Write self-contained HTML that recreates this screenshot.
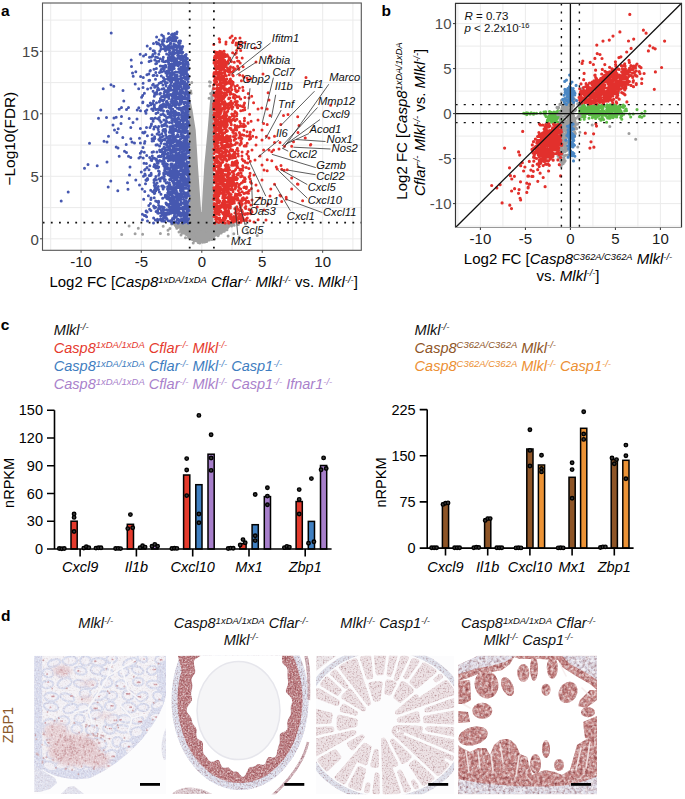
<!DOCTYPE html>
<html><head><meta charset="utf-8"><style>
html,body{margin:0;padding:0;background:#fff;width:685px;height:799px;overflow:hidden}
svg{display:block}
</style></head><body>
<svg width="685" height="799" viewBox="0 0 685 799">
<path d="M50.7 3V250.3M81 3V250.3M111.2 3V250.3M141.4 3V250.3M171.6 3V250.3M201.8 3V250.3M232 3V250.3M262.2 3V250.3M292.4 3V250.3M322.7 3V250.3M352.9 3V250.3M42.5 238.8H361.3M42.5 207.6H361.3M42.5 176.3H361.3M42.5 145.1H361.3M42.5 113.8H361.3M42.5 82.6H361.3M42.5 51.3H361.3M42.5 20.1H361.3" stroke="#EBEBEB" stroke-width="1" fill="none"/>
<clipPath id="ca"><rect x="42.5" y="3" width="318.8" height="247.3"/></clipPath>
<g clip-path="url(#ca)">
<path d="M189 223.5L189 97L189.8 97L192.5 110L195.7 130L197.9 165L200 195L201.2 212L201.6 212L202.5 195L204.3 165L207.6 130L210.5 95L212.8 84L213.6 84L213.6 223.5Z" fill="#A0A0A0"/>
<path d="M174 223L178 225.5L182 229L186 233.5L191 238L196 240.5L201.5 241.3L207 240.5L212 238.5L218 235L224 230L229 226L234 223Z" fill="#A0A0A0"/>
<path d="M233.1 222.2h0M207 240h0M199.5 241.7h0M219.8 232.5h0M197 240.4h0M203 238.6h0M227.5 227.7h0M176.3 226.7h0M218.8 231.9h0M206.7 241.4h0M213.3 237.8h0M192.5 238.7h0M234.2 222.2h0M226.9 227.1h0M213.8 236.5h0M192.3 239.6h0M198.1 239.6h0M193.5 239.7h0M202.5 242.2h0M199.3 240.3h0M176.8 225.1h0M191.3 236.9h0M232 225h0M205.1 240.7h0M231.8 223.8h0M209.2 240h0M206.1 240.9h0M194.2 240.9h0M228.4 225.1h0M183.5 226.3h0M177.5 224.5h0M211.9 239.6h0M191.1 236.7h0M228.4 226.8h0M231.3 224h0M175.2 225.3h0M222.3 230.2h0M195 239.6h0M181.9 227h0M231.4 223.3h0M203.8 240h0M204.7 242.1h0M181.8 228h0M204.4 240.8h0M185.9 234.3h0M186.1 233.2h0M212.1 237.5h0M179.7 225.7h0M221.9 231h0M195.5 240.4h0M218.4 235.3h0M222.8 230.5h0M217.8 234.6h0M227 229.8h0M227.1 227h0M205 241.4h0M205.8 240.3h0M230.2 225.2h0M197.8 241.8h0M171.7 224.1h0M181.8 225.7h0M181.8 228.6h0M222 228.8h0M220.4 229.8h0M200.1 239.8h0M207.1 238.8h0M197.4 241h0M223 230.2h0M223.1 228.4h0M191.4 238.4h0M185.3 230.1h0M206.7 235.5h0M224.5 228.3h0M199.3 240.9h0M224.7 230.4h0M181.9 227.4h0M223.4 230.4h0M223.3 229h0M199.3 242h0M176.8 228.2h0M183.4 232.1h0M206.2 241.3h0M201.7 240.7h0M183.2 229.2h0M222.8 231.4h0M224.6 229.3h0M188.1 234.8h0M214.6 239h0M178.5 227.3h0M194.6 239.8h0M220.2 230.9h0M182.2 227.1h0M188.7 233.5h0M180.6 227.5h0M231.6 226h0M180.7 229.7h0M181.2 225.5h0M188.6 234.1h0M186.9 233.9h0M223.6 229.6h0M223.5 228.3h0M179.2 225.9h0M187 234.7h0M204.3 241.5h0M182.8 227.8h0M226 224.4h0M213 235.7h0M232.6 224h0M190.2 236.8h0M211.1 237.4h0M234.2 225.2h0M221.7 231.9h0M174.2 221.9h0M221.2 233.1h0M183.9 233h0M206.5 240.2h0M197.7 239.9h0M215.2 234.8h0M218 235.7h0M193.2 243h0M222.8 230.4h0M176.3 226h0M232.3 223.1h0M177.5 225.6h0M173.8 222h0M202.5 242.2h0M215.5 234.7h0M199.7 242.9h0M176.4 223.8h0M221.1 232.9h0M231.2 224.7h0M191.3 238.8h0M193.3 237.8h0M224.3 231.2h0M187.7 234.7h0M203.5 240h0M193.1 237.6h0M185.5 237.7h0M223.3 230.7h0M236.3 222.1h0M179.6 227.3h0M175.9 224.5h0M198.1 242.5h0M221 231.8h0M205 238.9h0M191.7 237.8h0M181.9 231.6h0M175.4 223.8h0M188.6 237.4h0M201.1 240.4h0M181.2 229.2h0M190.5 236.6h0M176 223.8h0M188.5 236.7h0M192.8 237.2h0M220.5 230.1h0M182.3 229.1h0M207 239.6h0M172.9 223.7h0M184.5 230.9h0M210.6 93.4h0M191.1 93.3h0M210.4 82.3h0M209.1 98.3h0M212.8 92.2h0M191.8 82.6h0M190.8 91h0M209.5 81.7h0M209.8 85.9h0M233.8 233.8h0M197.4 224.4h0M218.8 234h0M168.3 234.2h0M208.9 230.6h0M168 230.3h0M212.4 228.3h0M191 227.1h0M196.2 226.4h0M181.4 230.5h0M206 234.3h0M216.4 227.8h0M181.2 231.1h0M193.8 225.7h0M206.2 230.6h0M187.6 224.9h0M228.1 236.1h0M245.5 224.1h0M206.3 229.2h0M198.8 225h0M204.1 235.4h0M183.3 230.3h0M169.9 228.5h0M184.8 229.5h0M206.2 225.1h0M194.1 237.4h0M181.9 233.1h0M179 232h0M200.9 232.2h0M193.7 231.7h0M216.9 232.2h0M178.7 226.3h0M257.2 235.4h0M199 231.6h0M246.8 229.6h0M193.4 229.2h0M212.4 233.6h0M190.3 225.5h0M239.1 236.9h0M216.6 227.5h0M142.6 234.2h0M238.3 224.5h0M163.2 226.3h0M181 235.1h0M129.1 226.1h0M183.3 230.3h0M216.9 229.3h0M138.3 228.2h0M247.7 233h0M135.1 233.7h0M160.4 233.4h0M121.7 234.5h0" stroke="#A0A0A0" stroke-width="3.0" stroke-linecap="round" fill="none"/>
<path d="M171.7 131.3h0M149 169.7h0M167.9 111.1h0M176.5 92.8h0M158.6 202.4h0M176.5 81.3h0M183.2 129.5h0M184.8 71.9h0M168.7 64.2h0M185.7 194.6h0M174.3 156.3h0M162.2 41.4h0M187.6 202.6h0M173.5 147h0M184.2 124.9h0M185.8 58.8h0M167 101.3h0M166.8 121.9h0M175.6 39.9h0M188.9 95.1h0M179.5 61.9h0M186.1 156.9h0M157 75.4h0M176.6 161.2h0M162 149.9h0M157.7 118.7h0M166.8 71.2h0M178.9 105.1h0M176.8 176.7h0M170.5 87.2h0M173.6 113.2h0M170.4 159.3h0M167.5 71.4h0M168.1 174.8h0M174 52.6h0M187.5 192.8h0M150.9 87.9h0M188.6 158.1h0M168.9 45.6h0M188.5 177.9h0M186.5 116.6h0M164.6 124.2h0M173.8 49.8h0M166.1 86.1h0M155 94.4h0M185.3 132.1h0M174.1 104.4h0M187 202.1h0M183.8 86.8h0M170.3 106.8h0M145.9 179.9h0M184 132.6h0M178.6 125.2h0M172.5 150.6h0M165.9 215h0M186.6 148.8h0M164.5 48.8h0M183.4 63.8h0M173.3 171.6h0M179.4 95.9h0M178.1 144h0M187.9 137.2h0M182.2 71h0M163.8 165.7h0M174.3 35.5h0M182.3 110.8h0M183.7 102.5h0M185.9 196.5h0M163.7 158.3h0M142.9 102.1h0M188.5 125.4h0M164.1 38.5h0M163.7 95.9h0M186.5 105.7h0M180.5 167.6h0M175.2 159.1h0M179.7 92h0M173.6 102.3h0M171.7 79.3h0M165.5 163.7h0M171.5 46.5h0M184.2 208.5h0M161.7 35h0M168.7 95.4h0M185.2 181.5h0M179.2 96.6h0M155.9 176.4h0M169.8 80.9h0M172.1 192.8h0M187.1 112.4h0M188 174.6h0M179.1 127.1h0M182.3 59.9h0M182.8 131.5h0M164.6 165.8h0M164.5 91.4h0M185 69.8h0M167.7 167.5h0M159.5 206.5h0M171.9 141.9h0M158.4 213.3h0M161.6 109.9h0M184.1 212.3h0M183.6 73.8h0M163.8 174.8h0M182.7 46.6h0M172.3 120.7h0M188.5 152.8h0M153.3 138.6h0M186.9 138.8h0M146.2 211h0M143.5 176.3h0M179.4 183h0M166.7 137.4h0M170.1 150.6h0M182.1 154.8h0M164.1 210h0M177.1 84.4h0M175.3 121.8h0M188.6 218.7h0M174.7 213.6h0M177.7 201h0M170.6 73.5h0M164.3 176.5h0M182.5 176.3h0M161.7 140.4h0M184.9 168h0M173.5 156.1h0M185.7 131.3h0M139.5 138.2h0M188.7 76.2h0M166 61.2h0M147.5 178.6h0M168.7 69.9h0M179.9 56.4h0M185.8 159.3h0M154.8 179h0M167.1 94.5h0M187 83.7h0M182.4 137.7h0M177.7 205.8h0M183.6 221.4h0M176.3 196.3h0M166 203.1h0M181.7 196.5h0M188.2 81.8h0M177.2 209.1h0M183.3 122.1h0M178.1 167.6h0M174.5 192.5h0M168.2 190.7h0M170 127.4h0M185.5 73.8h0M156.5 159.3h0M179.7 170.8h0M166 95.5h0M164.1 207.6h0M176.8 126.4h0M171.4 128h0M152.8 103.5h0M161.6 96.4h0M182.9 189.1h0M168.5 112.6h0M167.9 45.9h0M186.5 108.4h0M155.2 117.9h0M183.2 207.3h0M174 45.2h0M179.5 87.2h0M187.1 79.6h0M180.4 98h0M181.2 187.2h0M169.1 139h0M164 93.4h0M178.1 154.6h0M187.2 180.5h0M182.7 52.4h0M183.2 145.7h0M162.5 43.7h0M163.4 36.2h0M170.7 167.3h0M178.8 205.8h0M162.3 221h0M188.5 87h0M142.4 219.7h0M164 147.2h0M158.3 156.6h0M185.3 69h0M174.3 221.9h0M183.9 103.7h0M183.6 184.8h0M187.1 146.7h0M177 187.5h0M184.8 66.1h0M187.4 132.5h0M174.5 214.9h0M182 155.1h0M180.9 163.7h0M175.1 145.9h0M188.8 186.6h0M164.6 154h0M186.3 168.4h0M189 195.7h0M184.5 73.5h0M154.7 93.6h0M184.7 213.8h0M172.3 142h0M175.4 37.7h0M163.5 129.6h0M175.6 115.3h0M171.5 206.8h0M169.4 122.5h0M183.8 59.9h0M185.9 219.2h0M174.7 206.1h0M185.8 56.9h0M175.6 118.7h0M174.1 74h0M177.5 51h0M147 167.6h0M164.7 104.6h0M169.3 79.8h0M188.5 100.7h0M173.1 85.7h0M174.5 166.1h0M156.6 94.1h0M181.2 67h0M171.2 178.9h0M186.9 136.2h0M187.2 112.1h0M172 75.3h0M178.6 222.5h0M182.4 152.3h0M174.1 216.4h0M172.8 203.9h0M178.3 149.4h0M179.3 180.7h0M171.9 191.7h0M154.4 164.6h0M167.4 195.7h0M176 140.3h0M169.8 117.1h0M185 213.1h0M183.3 65.4h0M177.4 202.6h0M151.3 56.9h0M173.6 187.7h0M162.9 106.2h0M165.1 147.9h0M173.4 145.8h0M172.6 128.2h0M172.5 52.1h0M155.6 207.3h0M169 188.8h0M171.5 63.9h0M183.6 166h0M144.5 143.2h0M183.5 218.3h0M174.4 93.4h0M188.3 223h0M156.5 102.7h0M160.1 151.5h0M179.9 123.5h0M176.1 82h0M144.8 191.6h0M179.8 147.5h0M169.2 72.5h0M182.5 214.5h0M188.2 121.6h0M175.8 152.4h0M170.9 79.1h0M169.8 142.9h0M185.2 196.6h0M153.4 118.9h0M173.5 138h0M178.7 144.1h0M171.6 82.2h0M176 186.9h0M178.8 85.7h0M179.7 72.5h0M186.2 61h0M180.8 161.9h0M171 143.9h0M180 220.9h0M175.1 72.3h0M176.1 211.7h0M173.6 177.8h0M172.3 127h0M154.7 87.2h0M156.8 161h0M181.4 74.3h0M172.7 155.2h0M188.2 111h0M158 167.8h0M186.5 74.2h0M142.4 214.2h0M176.6 33.7h0M182.1 71.6h0M178.7 185.1h0M160.5 137.5h0M156 159.4h0M163.8 214.3h0M188.4 137.1h0M185.9 169.5h0M187.3 210.3h0M181.5 99.9h0M171 115.4h0M158.8 54.3h0M188.5 106.1h0M174.8 129.1h0M145.5 183.8h0M166.2 90.8h0M186.1 129.3h0M174.5 196.9h0M151.1 173.3h0M165.3 97.2h0M172.5 128h0M188.5 171.3h0M178.7 121.8h0M141.5 151.5h0M163.2 68.6h0M143.2 158h0M186.9 206.2h0M176 101.5h0M181.5 155h0M172.5 218.5h0M170.9 60.4h0M175 166.1h0M176.5 136.1h0M188.7 117.8h0M172.8 63.9h0M179 82.8h0M185.1 180.5h0M168.3 160.7h0M170.3 194.7h0M181.4 102.1h0M178.6 162.7h0M171.7 170.7h0M170.5 137.1h0M173.1 95.5h0M187.3 125h0M174.6 53.6h0M147.7 105.6h0M179.7 194.3h0M160.4 208.6h0M181.8 97.7h0M180 58.6h0M154.4 158.3h0M183.3 210.4h0M171.5 177.9h0M181.8 136.2h0M178.7 69h0M182 203.1h0M162.9 130.2h0M177.1 142.8h0M186.8 174.6h0M186 158.2h0M172.5 66.4h0M157 43.7h0M180.5 155.2h0M152.1 134.8h0M183.7 217.8h0M181.6 78.3h0M182.6 135.7h0M176.8 172.4h0M164.2 99.7h0M146.2 211.4h0M158.7 207.9h0M160.9 151.6h0M169.6 148.4h0M178.6 65.4h0M174.4 83.8h0M176.4 162.1h0M181.3 213.1h0M179.4 212h0M172.1 135.4h0M174.8 206.7h0M173.7 212.2h0M151 160.1h0M171.5 34.8h0M176.2 175.6h0M177.6 55.3h0M144.6 132.5h0M180.8 199.2h0M173 201h0M174.1 86.4h0M175.5 217.1h0M174.8 101.5h0M186.3 90.6h0M164.4 144h0M160.3 105.7h0M148.3 106h0M187.8 196h0M165.4 153.7h0M183.9 98.2h0M159.3 208h0M157.1 133.9h0M171.7 112.6h0M177.9 158.2h0M176.7 78.1h0M172.4 141.7h0M173.8 208.4h0M160.9 122.2h0M180.9 191.6h0M188.6 117h0M140.4 157.1h0M180.8 189.9h0M173.9 156.5h0M180.8 142h0M163.5 110.8h0M162.4 154.3h0M177.8 180.7h0M151.5 124h0M177.9 210.2h0M164.8 167.4h0M157 162.7h0M172.4 122.1h0M161 194.3h0M186.5 149.1h0M171.8 100.2h0M185.8 118.6h0M183.4 108.7h0M183.2 176.1h0M186.2 183.1h0M184.1 124.6h0M180.2 78.9h0M161 143.2h0M148.4 195.7h0M183.9 140.8h0M156.9 152h0M180.9 166.3h0M178.6 184.4h0M154.6 136.7h0M181.2 156.5h0M185.4 63.9h0M169.6 57.2h0M183.9 69.5h0M186.1 112h0M155.7 201.1h0M171.9 74.4h0M184.9 179.7h0M188.5 173.8h0M161.4 210.6h0M187.6 62h0M179.9 146.9h0M185.3 83.9h0M180.6 189.2h0M145.3 175.3h0M168.2 140.5h0M173.4 101.4h0M153.6 217.9h0M173.4 173.7h0M163 136.2h0M155.8 190.8h0M187.2 164.8h0M167.5 154.1h0M186.2 219h0M179.3 68.5h0M175.4 177.8h0M179.1 109.2h0M180.7 58.4h0M187.7 95h0M174.3 180.5h0M187.8 66.3h0M174.7 170.2h0M177.7 134.7h0M186.1 173.5h0M180.5 163.1h0M183.6 145.1h0M175.6 222.1h0M161.6 107.4h0M180.6 49.3h0M179.1 52.7h0M177.9 142.8h0M176.2 160.7h0M170.6 85.1h0M168.9 54.7h0M188.6 180.2h0M187.3 215.2h0M186.2 54.5h0M179.8 131.5h0M174.4 57.8h0M165.4 82.3h0M184.4 116.9h0M178 124.9h0M177 75h0M159.8 44.7h0M176.4 130.6h0M164.5 152.1h0M173 55.5h0M187.1 221.5h0M176.8 61.1h0M179.6 126.7h0M170.2 211h0M184.7 220.4h0M168.7 68.1h0M166.3 218.3h0M180.2 84.5h0M175.6 59h0M185.1 69.4h0M177.3 98.4h0M161.6 215.5h0M176.3 90.4h0M153.1 121.3h0M162.9 84.9h0M181.4 80.3h0M166.2 106.9h0M171.3 221.7h0M182.9 58.4h0M176 150.5h0M177.6 162.5h0M183.8 142.4h0M184.7 147.5h0M146.5 127.4h0M177 102.2h0M163.4 44.7h0M176.5 49.7h0M175.8 172.8h0M145.4 111.2h0M178.8 129.1h0M182.4 118.5h0M149.8 165.8h0M162 177.8h0M173.5 212.6h0M171.2 94.6h0M187.7 135.6h0M183.2 203h0M170.3 158.8h0M160.7 82.5h0M178.7 213.3h0M152.5 158.6h0M188 76.5h0M178.2 117.7h0M186.2 188.2h0M167.3 196h0M173.9 66.5h0M181.5 92h0M186.1 193.1h0M175.2 88h0M173.4 86h0M169.9 149.6h0M155.2 165.3h0M177.9 160.7h0M170.4 158.5h0M183.9 170.4h0M157.5 219.2h0M185.2 60.7h0M168.3 153h0M165.9 49.7h0M169.9 209.4h0M172.4 105.5h0M168.8 67.1h0M177 157.4h0M138.7 88.7h0M188.8 179h0M158.5 171.1h0M178.3 159.3h0M180.7 185.8h0M188.5 109.1h0M181.4 81h0M172 48.2h0M175.5 38.2h0M170.9 70h0M177.1 210.8h0M175.4 85.8h0M173.6 160.4h0M160.9 110.3h0M157.9 128h0M167.6 186.8h0M185.6 130.4h0M155.7 63.8h0M175 209.3h0M181.1 125.4h0M177.7 215h0M176 153.9h0M164.8 216h0M173.2 168.2h0M170.4 140.4h0M181.4 110.4h0M175.9 174.1h0M180.6 103.9h0M167.4 102.4h0M175.5 44.9h0M171.7 60.8h0M181.7 148.4h0M174.6 77.4h0M176.2 123.5h0M182 207.8h0M170.2 95h0M157.1 183.1h0M162.7 139.8h0M151.2 174.7h0M173.5 47.7h0M167.4 79.1h0M151.2 125.4h0M176.4 150.5h0M185.3 220.1h0M175.6 168.5h0M180.9 119.9h0M183.7 214.3h0M171.6 102.1h0M180.4 92.3h0M144.4 215.5h0M188.4 137.1h0M178.8 113.2h0M176.9 62.4h0M187 105.7h0M176.4 217h0M162.8 163.6h0M170.1 94.4h0M177.4 200.9h0M185.8 62.1h0M173.9 44.3h0M173.8 46.1h0M180.9 166.6h0M165.4 150.1h0M182.1 214.4h0M184 66.9h0M177.4 153.7h0M147.4 135.7h0M152.3 156h0M143 87.5h0M168.7 97.8h0M184.2 209h0M181.4 191.1h0M177 32h0M146.7 155.5h0M162.5 136.5h0M185.1 73.2h0M182.7 83h0M158 209.5h0M183.9 156.7h0M188.3 208.9h0M164.1 71.1h0M173.5 112.6h0M186.6 165.5h0M175.1 75.5h0M178.2 65.7h0M149.3 175.4h0M172.1 78.1h0M174.1 156.4h0M175.5 94.8h0M163.1 189h0M187.5 121.6h0M182.2 74.7h0M167.2 82.8h0M186.1 92.5h0M183.6 155.8h0M177 37.7h0M181.4 193.9h0M173 51.2h0M173.9 86.7h0M188.6 126h0M171.9 40.7h0M176 144.8h0M176.2 208h0M174.4 53.8h0M165.2 115.8h0M155.4 186.1h0M163.2 218.2h0M177.8 203.2h0M187.1 145.2h0M155.2 53.2h0M181.6 179.2h0M157.4 85.5h0M186.1 127h0M175.5 178.3h0M143.3 77.6h0M175.7 164.1h0M163.4 208.6h0M185.7 200.8h0M163.9 179h0M171.2 65h0M184.9 81.9h0M176.8 52.6h0M165.2 216.8h0M188.1 87.9h0M186.5 61.6h0M185.3 203.9h0M180.2 174.4h0M174.5 117.1h0M173.6 46.6h0M180.6 179.7h0M181.2 71.9h0M171.6 67.7h0M185.3 220.1h0M183.7 213.8h0M150.9 199.5h0M176.8 103.5h0M187.3 135.7h0M176.9 136.6h0M160.9 212.7h0M151.7 160.6h0M188 114.4h0M178.3 71.9h0M174 146.5h0M174.7 140.9h0M153.1 110.6h0M183.5 107.5h0M172.8 55.1h0M176.1 103.7h0M183.9 160.3h0M188.3 78.4h0M177.6 134.6h0M188.8 185.8h0M171.4 66.7h0M161.7 221.1h0M152.2 118.4h0M177.1 165.9h0M173.5 35.5h0M180.9 195.9h0M168.4 91.5h0M168.3 220.8h0M186.8 179h0M183.8 199.5h0M182.4 88.9h0M178.2 86.6h0M181.4 160.1h0M184.9 87.2h0M182.6 174h0M160.8 156.4h0M177.8 142.8h0M170.7 113.4h0M166.1 122.6h0M180.5 139.1h0M166 158h0M172.6 205.3h0M162.1 206.7h0M173.7 60h0M178.7 115.3h0M180.5 204.8h0M167 219h0M172.1 119h0M181.4 80h0M158.7 89.2h0M184.9 204.4h0M182.9 112.3h0M179.2 64.5h0M146.8 110h0M176.7 204.8h0M176 217.3h0M173.4 115.5h0M184.8 206.1h0M177.9 63.7h0M179.1 219.9h0M172 157.5h0M174.8 100.5h0M170.8 43.5h0M185 195.4h0M174 201.8h0M159.4 101.9h0M179.4 123.9h0M171.9 223.2h0M169.3 204.2h0M181.1 93.6h0M186.2 163.7h0M187 170h0M181.8 48.9h0M169 185h0M179.7 43.6h0M168.3 88.2h0M184.1 219h0M172.2 209.4h0M174.5 183.3h0M188.5 150.7h0M176.6 193.7h0M174.3 78.1h0M186.1 87.4h0M170 155.5h0M184.6 103.1h0M183.5 88h0M182.7 72.2h0M170.1 200h0M174 57.4h0M173.4 38.2h0M180.5 85.4h0M164.5 221.2h0M167.9 48.1h0M182.7 130.2h0M187.4 213.7h0M183.1 147.2h0M186.7 69h0M169.7 145.8h0M159.5 101.3h0M181.9 128.4h0M170.2 90.3h0M154 139h0M181.7 110.1h0M177 173.5h0M175.5 125.2h0M188.9 98.5h0M164.2 68.9h0M185 209h0M159.2 178.8h0M177.5 145.6h0M183.9 162.7h0M163.1 131.1h0M159.6 120.2h0M172.3 172.8h0M154.5 107.5h0M161.3 76.1h0M185.7 183.8h0M170 68.4h0M176.9 98.3h0M186.6 114.8h0M186.4 71.1h0M186.3 156.6h0M183.7 107.3h0M163.9 155.1h0M164.4 213.3h0M161.8 133.7h0M183.2 56.5h0M168.9 157.2h0M177.8 89.2h0M169.3 94.7h0M170.8 89.2h0M188.9 214.6h0M186.3 172.5h0M166 90.5h0M175.4 164.5h0M174.1 167.6h0M164.4 161.6h0M184.4 165.4h0M181.1 143h0M168.6 147h0M187.2 216.1h0M144.9 141.5h0M183.1 144.4h0M167.8 143.3h0M187.3 202.5h0M184.4 192.5h0M155.4 220.1h0M164.5 80.9h0M174 174.3h0M143.7 199.3h0M172.3 122.5h0M174.2 68.5h0M171.8 120.5h0M175.8 40.9h0M142.2 189.1h0M148.8 73.9h0M175.8 211.7h0M180.5 46.7h0M179.1 41h0M171.5 108.6h0M182.3 176.9h0M173.3 165.7h0M171.9 126.4h0M183.9 60.4h0M166.1 166.7h0M174.2 62.6h0M181 59.4h0M168.9 187.9h0M178.3 183.1h0M174.5 96.9h0M185.7 62.3h0M184.5 182.8h0M180.2 101h0M187.7 103.5h0M185.5 154.2h0M153.5 151.8h0M182.1 169.6h0M167 136.9h0M171.4 212.9h0M180.8 216.3h0M170.7 43.6h0M172.7 109.3h0M163.1 81.1h0M175 93.5h0M154.4 105h0M182.5 176.1h0M158.2 129.4h0M181 51.3h0M185.8 185.3h0M176.6 96.5h0M182 99.7h0M169.1 141.4h0M179.6 58.5h0M158.9 61.2h0M179.9 167.1h0M184.9 102.1h0M177.7 118.4h0M186.7 136.4h0M158.7 126.6h0M160.7 216h0M170.6 64.9h0M183 60.7h0M171.7 198.7h0M170.2 139.5h0M169.8 53.1h0M187.6 211.7h0M177.2 219.9h0M174.2 119.8h0M166.7 203.7h0M172.5 96.6h0M185.3 119.4h0M188 101.4h0M181.8 95.4h0M177.9 80.6h0M159.6 107.3h0M182 100.2h0M178.9 209.9h0M166.5 195.8h0M149.1 61.5h0M163.2 214.6h0M166.5 172h0M170.3 191.9h0M182.8 66.5h0M173.5 134.6h0M179.4 208.9h0M173.5 160.8h0M184.7 196.6h0M178.2 45.5h0M163.8 156.8h0M183.7 65.9h0M180.7 168.3h0M188.8 87.4h0M172.7 201.3h0M158.7 166.9h0M177.1 84.2h0M172.2 195.6h0M174.2 176.1h0M158.3 186.4h0M163.5 77.7h0M187.9 112h0M180.2 101h0M184 175.1h0M172.4 181h0M167.7 193.1h0M168.7 97.1h0M177.3 157.6h0M166.2 163.7h0M179.5 71.8h0M171.2 203.6h0M166.4 125.4h0M180.1 43.1h0M158.5 43.4h0M172.6 188.7h0M175.7 61.1h0M173 101h0M175.6 91.5h0M188.8 147h0M183.7 77.6h0M174.5 206.2h0M163.4 154h0M179.5 182.1h0M183.5 75h0M162.3 107.6h0M171.3 206.7h0M184.7 159h0M174.9 145.3h0M163 215.3h0M165.2 173.7h0M160.5 219.1h0M186.9 120h0M179.5 207.5h0M174.7 80.1h0M183.9 188.5h0M185.2 146.7h0M185 172h0M158.6 205.2h0M172.6 190.8h0M186.6 153.4h0M168.4 90h0M168.4 92h0M157.8 109.2h0M187.6 85.6h0M170.5 87h0M175 63.1h0M153.5 43.4h0M182.8 74.4h0M186.6 165.6h0M173.8 94h0M160.2 219.4h0M160.8 206.7h0M178 177.1h0M177.8 131.6h0M180.6 63.4h0M174.6 59.1h0M177.1 108.2h0M164.9 169h0M172.3 164h0M188.5 123.3h0M172.4 120.6h0M165.8 135.1h0M181.2 94h0M168.3 61.2h0M169 40.5h0M188.7 156.5h0M155.5 79.3h0M173.3 142.4h0M187.6 166.6h0M178.7 136.6h0M150.9 104.8h0M170.1 129.9h0M180.7 86.8h0M160.3 100.5h0M184.1 154.6h0M166.5 91.8h0M187.8 96.9h0M175.1 111.2h0M176.6 145.4h0M176.3 217h0M162.7 215.2h0M185.6 102.8h0M183.5 149.2h0M174 58.7h0M160.1 58.8h0M175.4 63.5h0M153.6 140.8h0M168.3 46h0M182.8 223h0M165.5 50.7h0M178.7 53.2h0M163.7 159.7h0M184.7 87.1h0M163.9 120h0M167.1 75.7h0M168.8 98.2h0M170.8 164.8h0M182.7 83.5h0M169.1 77.3h0M169.7 37.2h0M159.6 149.9h0M172.3 139.5h0M157.7 213h0M176 130.4h0M154.8 60.1h0M184.4 215.1h0M188.8 152.6h0M179.9 162.7h0M181.2 176.4h0M176.4 50h0M180.2 50.2h0M149.5 57.2h0M144 163.2h0M147.5 220.9h0M187.6 74.6h0M178.5 197.1h0M179.1 124.6h0M179 187.4h0M182 190.9h0M173 152.2h0M150.3 48.5h0M149.6 209.3h0M184.5 128.8h0M178.8 165.8h0M183.9 158h0M180 103h0M179.1 129.8h0M177 122.2h0M187.3 162.1h0M177.2 182.6h0M180 174.8h0M159.4 192.1h0M169.6 179.4h0M183.2 191h0M174.9 187.9h0M166.6 117.7h0M156.3 159h0M172.5 97.9h0M187 150h0M170.9 106h0M176.8 153.5h0M172.3 155.7h0M171.5 173.6h0M182.4 154.9h0M164 148.1h0M176.5 186.3h0M170 176.1h0M162.3 213.7h0M170.7 158.4h0M159.7 51.3h0M154.6 208.1h0M147.1 212h0M187.4 183.5h0M181.9 101.6h0M157.6 219.9h0M167.6 156.4h0M184.2 120.2h0M162.4 125.8h0M161.9 221h0M184.8 165.3h0M171.4 146h0M174.6 145.5h0M175.4 106.4h0M179.9 126.3h0M168.1 113.8h0M153.6 206.1h0M179.2 199.7h0M159.1 83.2h0M180.2 213.8h0M183.1 181.2h0M142.7 102.7h0M175.2 209h0M181 134h0M175.8 193.9h0M155 187.7h0M175.1 87.3h0M177.3 171.5h0M176.6 179.5h0M170.9 163.9h0M146.9 74.8h0M176 86.9h0M179.8 127.2h0M156 145h0M178.4 42.5h0M184.7 157.5h0M176.5 156.5h0M186.5 169.3h0M178.6 154.2h0M175.8 80h0M155 59.9h0M172.6 119.2h0M184.3 65.6h0M182.5 121h0M160.3 66h0M173.1 182.6h0M174.4 155.8h0M184.2 56.5h0M176.1 100.3h0M170.1 115.5h0M175.2 159.3h0M181.4 164h0M184.1 193h0M178.8 98.7h0M180.5 177.9h0M175.4 200.9h0M178.2 143.8h0M163.7 114.9h0M181.5 47.1h0M174.1 196.9h0M186.3 196h0M186.9 212.5h0M170.8 75.8h0M182.9 73.1h0M142.7 132.5h0M170.9 111.7h0M176.1 65h0M179.2 82.5h0M185.6 89.6h0M182.9 190.9h0M185.6 216.7h0M173.6 63.6h0M173.1 205.7h0M173.4 132.5h0M169.8 220.9h0M163.9 125.4h0M177.1 51.1h0M174.6 203.9h0M146.6 216.8h0M140.3 153.2h0M185 141.1h0M186.1 63.8h0M170.1 171.2h0M138.9 158h0M158.1 163.2h0M173.9 192.5h0M156.4 93.3h0M179.2 47.2h0M184.6 222.3h0M173.1 79h0M162.6 198.2h0M183.7 149.5h0M177 141.2h0M166.4 102h0M156 109.5h0M168.2 117.2h0M177.6 93.5h0M168.5 198.4h0M180.4 96.4h0M168.8 63.1h0M177.3 47.4h0M165.5 83.5h0M169.6 104.9h0M182.2 68.6h0M184.3 217.6h0M184.7 136.8h0M176 45.6h0M187.4 204.1h0M186 137.9h0M184.5 138.6h0M188.4 94.2h0M181.9 112.2h0M186.6 73.7h0M176.3 112.4h0M158.8 132h0M172.8 98h0M185.9 92.5h0M158.5 202.7h0M175.1 210.4h0M180.8 131.9h0M159.5 135.1h0M161.9 140.8h0M180.3 160.4h0M178.2 65.1h0M169.3 87.3h0M185.8 221.6h0M182.9 63.3h0M168 103.6h0M160.4 98.6h0M187.8 67.5h0M171.7 39.7h0M186.8 102.8h0M173.1 65.1h0M173.8 201.3h0M144.4 93.3h0M188.7 162.2h0M144.3 152.3h0M153.8 128.9h0M165.7 217.9h0M182.2 91.8h0M177.1 180.3h0M180.9 213.4h0M182.7 132.2h0M161.6 161.3h0M169.8 213.3h0M188.5 188.8h0M166.5 218.9h0M179.3 52.9h0M179.5 96.5h0M188 193.5h0M179 198.3h0M181.3 100.2h0M167.1 126.3h0M171.6 118.1h0M188 87.2h0M167.5 189h0M178.1 56.7h0M176.6 204.3h0M162.8 59.3h0M173.5 166.1h0M180.4 90h0M187.1 209.9h0M170.4 38h0M180.2 204.1h0M189 210.6h0M156.4 42.3h0M177.9 219.9h0M154.9 184.4h0M153.2 50.8h0M184 142.9h0M186.9 123.1h0M164.9 152.1h0M169.6 58.6h0M155.4 126.6h0M160.5 93.2h0M170 79.9h0M157.6 162.6h0M179.4 51.7h0M171.1 76.9h0M179.1 88h0M159.5 155.9h0M181 202.2h0M182.8 66.9h0M163.7 173h0M188.6 181.8h0M180.5 104.3h0M186.3 203h0M171.7 81.3h0M142.6 95.5h0M154 107.9h0M172.8 90.2h0M188.9 102.1h0M185.1 129.1h0M143.1 83.2h0M181.2 134h0M173.4 151.6h0M176.4 207.6h0M185.2 55.3h0M156.7 92.1h0M173.6 138.9h0M152.1 140.9h0M174.3 169.9h0M162.4 41.6h0M181.9 47.5h0M167.4 142.1h0M159.5 179.2h0M184.5 130.5h0M188.9 179.5h0M169.3 38.1h0M163.2 66.2h0M168.8 157.8h0M174.4 209.7h0M169.1 205h0M163.7 96.4h0M173.5 197.3h0M186 139.5h0M174.2 52.7h0M186.6 127h0M172.8 132h0M172 166.2h0M188.1 167.2h0M159.6 145.9h0M167.5 79.2h0M158.5 109.5h0M176.9 148.5h0M161.8 125.4h0M182.8 80.7h0M176.7 198.8h0M156.3 145h0M156.1 211.4h0M162.1 177.5h0M182.3 173.8h0M151 60.7h0M173.8 204.6h0M172.3 38h0M153.8 166.4h0M159.7 93.9h0M180.1 215.3h0M150.6 175.5h0M181.2 71.6h0M166.8 197.9h0M180.2 156.6h0M150.4 70.5h0M172 122.8h0M174.2 141.8h0M157.9 87.9h0M169 214h0M165.8 130.9h0M187.1 142.6h0M145.5 215.6h0M165.5 169h0M186.1 184.8h0M156.4 179.8h0M171.4 80.5h0M165.8 135.2h0M180.1 131.6h0M181.5 116.8h0M167.8 38.7h0M168.8 113.2h0M181.6 167.5h0M171.6 175.3h0M173.9 40.3h0M168.2 188.1h0M154.8 193h0M172.3 112.6h0M179 214.5h0M161.8 186.1h0M179.2 166.7h0M169.8 184.8h0M154 75.2h0M188.3 134.5h0M167.1 111.3h0M183.3 158.1h0M178.3 200.6h0M167.4 95.6h0M171.9 221.4h0M138.8 107.8h0M182.4 214.1h0M166.3 203.9h0M173.7 198.9h0M188.2 64.4h0M182.2 62.9h0M169.4 78.7h0M183.1 107.6h0M171.4 73.6h0M183.6 179.3h0M163.5 48.8h0M154.2 197.8h0M170.4 48h0M186.1 78h0M168.3 57.5h0M188.1 178.7h0M152.1 152.3h0M175.1 88.8h0M183.9 164.7h0M184.9 200.4h0M176.2 139.6h0M170.9 213.3h0M152.1 138.8h0M183.7 141h0M179.3 42.3h0M167.2 146.4h0M175.1 95.5h0M184.5 68.4h0M147.6 89h0M183.6 116.3h0M186.7 107.2h0M172.4 195.6h0M145.8 54.6h0M165.1 197h0M156.6 36.9h0M154.5 190h0M179.6 167.2h0M165.5 132.8h0M167.9 210.1h0M185.4 77h0M173.3 202.1h0M162.9 187.4h0M175 210.2h0M175.5 129.6h0M157.8 210.7h0M181.7 97.9h0M150.3 103h0M182 154.3h0M177.2 186.8h0M180.6 144.3h0M169.1 213h0M176.4 202.4h0M182.7 222.5h0M145 132h0M162 89h0M184.8 177.6h0M169 172.2h0M180.4 159.1h0M151.1 118.5h0M167.9 49.3h0M163.5 207.8h0M184 124.5h0M171.9 35.3h0M184.3 98.5h0M185.6 202h0M167.2 204.9h0M188.1 188.6h0M179.8 174h0M173.7 129.5h0M183 207.7h0M153.1 91.2h0M175.5 208.1h0M182.6 58.1h0M171 106.3h0M175.4 36.9h0M163.5 61.4h0M174.9 138.5h0M164.1 124.7h0M178.8 209.9h0M176.3 103.6h0M186.5 120.4h0M165.4 104.7h0M163.5 105.8h0M140.4 143.1h0M178.3 195.8h0M160.5 156.6h0M158.6 201.2h0M169.9 104.9h0M173.9 218.7h0M183.8 196.9h0M171.5 102.8h0M188.9 97.1h0M171.9 187.4h0M172.9 177.3h0M173.2 200.4h0M169.2 104.6h0M157.5 89.8h0M154.4 193.5h0M147.2 46.1h0M181.6 167.2h0M156.9 61.6h0M167.6 214.2h0M153.5 223h0M181.2 136.3h0M173.3 137.6h0M174.8 36.9h0M154.8 138.6h0M167 137.8h0M172.3 188.1h0M140.4 128.4h0M173.2 127h0M182.2 53.2h0M153.5 101.1h0M181 199.6h0M173 105.1h0M180.8 128.1h0M162.2 213h0M168 169.2h0M165.7 67.1h0M173.4 159.5h0M186.2 85.6h0M181.7 128.3h0M180.9 158h0M185.7 98h0M169.9 155.9h0M183.9 85.8h0M143.5 56.1h0M180.2 101.6h0M175.3 190.3h0M163.2 66.8h0M163.4 212.5h0M158.8 161h0M183.6 68.7h0M186.2 164.6h0M187.4 152.1h0M162.1 151.7h0M182.9 91.7h0M181 93.2h0M183.2 124.1h0M175.5 39.3h0M188.8 144.1h0M158 112.5h0M172.8 208.8h0M179.3 125.5h0M157 201.5h0M173.7 128.4h0M173.6 191.8h0M161 156.5h0M164.9 61.8h0M180.6 56.2h0M161.8 66.2h0M174 84.7h0M172.4 48.3h0M180.8 131.4h0M172.8 67.4h0M182.3 186.3h0M183.1 97.2h0M149.7 80.2h0M178.6 141.7h0M175.7 105.4h0M175.5 95.8h0M154.3 185.5h0M182.3 177.9h0M181.4 170.4h0M182.5 137.7h0M167.4 212.5h0M159.5 72.4h0M188.3 145.4h0M178.1 104.1h0M154.3 126.9h0M184.8 168.3h0M184.4 117.9h0M177.1 103.9h0M150.9 210.4h0M181.5 114.6h0M179.8 50h0M154.5 180.2h0M180.4 190.6h0M183.5 150.6h0M171.4 127.8h0M171 132.6h0M179.9 215.5h0M180.1 95.1h0M178.3 144.9h0M177.2 156.6h0M187.6 183.2h0M152.6 85h0M177.4 193.6h0M168.5 196.5h0M172.9 109.2h0M165.1 65.5h0M168.5 33.4h0M165.9 122.8h0M150.7 190.3h0M160.8 107.9h0M151.7 109.1h0M185.3 87.2h0M186.1 124h0M183.2 98.4h0M178.9 143.9h0M173.3 94.3h0M186.5 77.3h0M166.6 153.9h0M161.7 71.8h0M185.3 115.4h0M167.1 41.5h0M173.3 206.8h0M186.9 128.1h0M144.9 174.1h0M154.6 95.5h0M160.8 114.7h0M179.8 69.3h0M164.4 45.9h0M169 207h0M169.1 60.1h0M165.5 143.9h0M181.2 83.3h0M181.1 169.3h0M187.4 185.6h0M186.3 89.6h0M188 147.5h0M170.2 186.9h0M159.3 171.4h0M174.4 192.9h0M154.1 207.3h0M185.2 102.5h0M166.2 183h0M187.8 169h0M182.7 180.8h0M181.9 56.3h0M183.1 92.6h0M165.1 106.4h0M174.4 178.3h0M185.4 106.3h0M161.3 82.6h0M169.4 182.8h0M186.3 197.7h0M180.5 78.8h0M165.2 140.1h0M173 169.3h0M173.6 97.2h0M181 124.2h0M185.4 71.4h0M181 187.7h0M160.8 70.7h0M176.9 113.5h0M165.9 72.9h0M174.4 111.5h0M183.1 135.5h0M167.6 173.3h0M186.3 206.1h0M174.1 91.1h0M165.1 170.3h0M166.9 198.5h0M177.8 123h0M181.7 68.2h0M170.4 146.2h0M182.5 143.1h0M183.9 207.2h0M165.3 195.2h0M162.7 163.7h0M182.9 180.3h0M154 69.3h0M172.9 39h0M186.4 198.1h0M181.3 193.6h0M178.7 182.6h0M188 193.3h0M170.3 201.5h0M174.1 149.9h0M176 101.6h0M181.7 101.1h0M179.7 124.6h0M177.5 62.9h0M180.7 75.2h0M172.1 53.7h0M178.1 82.8h0M182.9 153.9h0M177.7 177h0M179.2 108.1h0M175.8 72.1h0M173 125.6h0M140.6 76.5h0M155.8 167.9h0M181.3 208.8h0M182.4 161.7h0M172.4 65.3h0M167.1 182.4h0M175.6 128.8h0M171.6 58.1h0M181.8 170.8h0M153.1 119.4h0M164.6 170.4h0M169.3 132.3h0M157.4 144.7h0M156.4 68.5h0M174.2 141.5h0M158.7 175.2h0M177.3 213.1h0M188.3 87.1h0M182.8 111.4h0M179.3 171.4h0M188.6 69.3h0M184.6 68.5h0M180.2 126.1h0M141.4 62.8h0M168.9 73.3h0M186.8 153.1h0M171.1 197.7h0M164.8 138.9h0M169.9 46.6h0M187.5 130.9h0M170.9 139.3h0M155.8 184.8h0M166 120.4h0M179.7 122.2h0M150.4 203.5h0M186.1 136.9h0M180.4 102.3h0M166.8 150.3h0M185.5 220.3h0M174.9 130.4h0M176.1 47h0M177.5 212.4h0M185.6 98.7h0M169.4 135.9h0M182 163.2h0M175.7 160.1h0M168.2 158.6h0M176.2 186.9h0M159.3 160.9h0M174 88.8h0M186 64h0M178.3 121.7h0M182.1 196.9h0M170.9 207.8h0M151 197.9h0M150 127.6h0M171 153h0M175.2 96.4h0M176.9 197.3h0M187.7 101.7h0M187.7 157.8h0M177.1 178.1h0M172.7 95.3h0M159.7 140.4h0M184.7 94.5h0M187.3 140.3h0M184.3 145.5h0M188 67.2h0M181.3 219.3h0M169.7 46.8h0M185.4 79h0M160.1 138h0M177.5 156.2h0M160.5 107.1h0M171.3 135.7h0M184.3 150.9h0M180.7 168.3h0M159.3 117.6h0M177.8 82.4h0M187.6 206.6h0M181.8 215h0M185.2 173.8h0M160.9 49.2h0M170.3 85.3h0M166.3 120.5h0M172.2 136.1h0M174.9 95.1h0M168.6 168.8h0M166.7 209.8h0M163.3 218.9h0M184.5 127h0M173.4 74h0M177.3 204.7h0M153.3 84.2h0M172.3 139.6h0M146.1 211.1h0M184 151.1h0M161.2 122.1h0M154 179.9h0M182.7 222.4h0M173.9 151.8h0M173.4 93h0M179 108.6h0M175.3 98.3h0M171.9 112.7h0M171.8 54.9h0M156 113.5h0M172.2 70.1h0M185.9 142.5h0M172.2 129.2h0M183.6 92.3h0M155.6 56.9h0M186.7 116.7h0M188.9 200.6h0M177.5 197.3h0M183.8 194h0M176.4 164h0M177.7 209h0M172 211.3h0M187.3 123.3h0M187.9 63.3h0M180.7 132.3h0M170.7 57.6h0M177.4 76.3h0M181.8 163.3h0M165.7 212.9h0M186.3 68.4h0M176.6 170.3h0M181 204.8h0M177.2 192.4h0M167.8 104.9h0M184.8 132.7h0M179.3 45.1h0M177.1 51.3h0M162.9 100h0M170 76.3h0M188.7 206.4h0M188.9 102.8h0M187.8 220.4h0M187.6 162.9h0M174.7 33.6h0M178 163h0M174.2 100.7h0M169.7 73.4h0M175.6 166.7h0M169.6 85.9h0M160.2 181h0M180.6 100.6h0M187.5 221.2h0M168.6 199.3h0M171.8 171h0M166.3 217.5h0M162.4 61h0M170.9 101.5h0M166.9 102.7h0M167.2 96.6h0M175.6 167.2h0M144.8 191.5h0M176.3 190.2h0M169.8 64.2h0M173.1 58.5h0M185 181h0M180.2 204.8h0M187.8 91.9h0M183.1 98.6h0M182.4 89.5h0M166 46.9h0M179.5 126.7h0M158.8 139.6h0M171.3 187h0M182.7 148.2h0M178.8 118.6h0M183.3 144.6h0M176.5 98.6h0M170 131.6h0M163.7 173.2h0M188.7 123.8h0M180 203.9h0M187.9 78h0M181.8 163.6h0M170.8 189h0M181.9 159h0M173.9 94.9h0M150 71h0M173.2 134.7h0M187.5 209.3h0M169.3 193.5h0M181.9 162.6h0M171.7 220h0M182.4 82.9h0M162.8 100.8h0M184.3 187.8h0M172.7 190.2h0M157.1 166.1h0M165.4 129.3h0M180.1 103.7h0M185.1 170.1h0M146.5 180.4h0M181.8 146.5h0M177.3 58.4h0M166.6 54h0M157.8 221.6h0M185.7 114.2h0M170.7 109.3h0M171.3 193.8h0M188.8 116.9h0M180 199h0M143.7 133.1h0M168.8 98.6h0M178.2 103.9h0M182.8 52.2h0M162 126.2h0M178.1 223h0M178.3 219.3h0M178.9 129.1h0M157.3 187.9h0M176.1 171.6h0M164.7 79.2h0M175.7 173.8h0M175.7 83.9h0M180.5 40.9h0M172.2 133h0M155.6 86h0M170.7 160.3h0M185.2 184.5h0M184.2 213.3h0M180.5 193.5h0M152.7 191.7h0M173.2 148.2h0M185.5 110h0M178.5 79.3h0M159.7 160.6h0M155.1 187.2h0M187 161.9h0M180.3 162.6h0M174 136.6h0M176.2 183.6h0M173.6 51.2h0M183.1 58.9h0M161.8 107.8h0M172.6 156.4h0M183.8 112.8h0M169.7 169h0M154.3 96.3h0M169.5 173.9h0M181.6 175.5h0M175.3 148.6h0M173.8 185.1h0M170.4 43.3h0M178.7 174.3h0M189 166.7h0M167.7 173h0M181 148.6h0M153.1 75.4h0M176.5 96.7h0M170.3 193.1h0M168.3 62.2h0M186.6 149.2h0M178.5 55.1h0M187.1 194.7h0M188.2 206.9h0M154.3 107.9h0M141.6 97.3h0M188.4 175.9h0M181.2 148.9h0M187 212.1h0M180.5 150.3h0M177.1 206.8h0M184.4 201.8h0M140.5 110.8h0M185.3 185.1h0M171.7 206.4h0M180.9 107.9h0M169.6 50.7h0M176.6 213.1h0M184 142.4h0M170 74.5h0M184.9 96.4h0M149.7 157.4h0M179 45.3h0M171 83h0M179.4 93.2h0M174.4 178.8h0M159.3 173.8h0M185.7 208.7h0M175.2 77.5h0M148.9 80.4h0M181.1 220.4h0M172 200.2h0M176.8 92.4h0M163.1 185.9h0M172.4 34.1h0M186.5 71.9h0M180.1 181.1h0M170.4 200.7h0M173.4 79.5h0M176.6 120.1h0M182.6 161.7h0M185 203.6h0M184.1 118.8h0M187.1 103.5h0M170.2 113.3h0M164.2 186.9h0M183.2 126.6h0M163.8 40.9h0M178.9 196.1h0M180.5 76.6h0M156.7 63.2h0M186.9 74.6h0M188.8 190.5h0M180.6 72.6h0M164 173.5h0M180.9 195.4h0M163.3 57.3h0M175.5 183.7h0M180.2 149.9h0M187 138h0M172.1 99.8h0M165.7 65.6h0M187.5 99.5h0M141.3 172.1h0M167.5 164.5h0M158.5 189.6h0M179.9 182h0M145.1 169.6h0M179.3 171.4h0M177.1 207.8h0M172.2 152.4h0M164.3 148.2h0M186.5 166.4h0M182.9 118.1h0M180.2 196.6h0M186 93.9h0M161.8 105h0M173.8 64.5h0M157.5 57.4h0M181.3 114.8h0M184 193.5h0M179 221h0M186.1 185.3h0M176.1 125.7h0M176.7 91.7h0M172.6 149.5h0M143 147.4h0M169.2 107.4h0M147.7 179.4h0M173.6 40.9h0M155.8 72.4h0M182.1 52h0M182.5 188.6h0M188.2 176.2h0M183.9 203.5h0M178.4 56.1h0M178.3 158.1h0M186.8 92.3h0M171.1 111.2h0M172.1 95.8h0M182.2 215.2h0M187.4 182.3h0M185.7 108.4h0M168.3 48.8h0M163.5 103.8h0M152.9 54.6h0M154.2 105.9h0M176.3 167.3h0M167.2 73.7h0M171.2 173.9h0M167.6 149.5h0M162.4 149.3h0M177.6 211h0M182.7 212.8h0M162.8 39.9h0M175 208.1h0M171 131.3h0M175.3 156.5h0M171.7 68.8h0M186.3 144.9h0M179.5 152.6h0M167.1 76.1h0M178.9 140.8h0M152.7 55.9h0M187.4 58.6h0M178.3 181.9h0M146.4 163.4h0M154 182.4h0M161.2 69.6h0M163 113.8h0M154.4 51.1h0M146 113.3h0M187 218.8h0M172.5 202.3h0M169.9 170h0M180.3 190.5h0M155.8 189.4h0M148.8 205.6h0M182.3 47.6h0M178.2 87.3h0M181.6 195.7h0M184.2 146.6h0M170.8 203.6h0M176.2 94.4h0M169.8 105.8h0M168 49.3h0M171 57.1h0M176.1 114.8h0M184.3 115.2h0M179.8 213.5h0M163.6 114.8h0M166.8 145.4h0M175.5 79.9h0M181.6 93h0M165.3 179.8h0M184.3 65.6h0M159.2 39.9h0M185.9 167.7h0M174.7 155.7h0M159.1 89.7h0M186 150.3h0M176.2 78.5h0M144.6 170.1h0M187.9 166.4h0M160.7 178.5h0M171.6 99.7h0M173.7 173.2h0M188.9 206.4h0M163.8 88.4h0M181.4 96.7h0M174.7 112.2h0M150.2 48.7h0M177.6 197.6h0M181.7 183.5h0M179.1 183.1h0M172 150.6h0M177 102.4h0M187 214.7h0M180.4 102.5h0M160.9 46.4h0M178.8 65h0M182.9 173.1h0M181.8 53.3h0M187.6 179h0M172.2 180.7h0M187.1 138.8h0M175 85.7h0M180.2 163.4h0M173 103.5h0M186.7 141.6h0M169.5 52.5h0M175.6 188.9h0M182.2 219.6h0M184.9 153.7h0M180.7 164.7h0M184.4 222h0M164.6 181h0M172.4 72.3h0M171.7 208.1h0M169.4 88.1h0M184.4 93.2h0M184.8 56.4h0M168.1 59.6h0M170.2 126.7h0M111.2 33h0M131.2 60h0M131.5 66.5h0M132.5 73h0M135.8 71.8h0M133.2 76.2h0M140.2 54.2h0M103.2 88.8h0M111 84.8h0M113.8 86.2h0M123 90.5h0M135.2 84h0M123.8 101h0M100.8 110h0M119.2 109.2h0M121.5 107.5h0M128.5 107.5h0M126.5 109.5h0M137.2 110h0M98.5 118.2h0M106.5 117.5h0M114 118h0M116.2 117.2h0M121.5 116.5h0M129.2 118.5h0M137 119h0M113 125h0M121 123.5h0M130.8 127.5h0M133 122.5h0M89.5 143.2h0M104 141.2h0M107 142h0M108.5 136.2h0M114.5 130h0M117 132.5h0M118.2 128.8h0M122.8 137.5h0M116.2 147h0M118 148h0M126.2 144.5h0M126.5 152.5h0M130.8 138.8h0M132 142h0M134.5 143h0M119.2 156.2h0M124.5 151.2h0M128.5 156.2h0M130.8 157.5h0M84.5 168.2h0M88 164.5h0M97.2 165.8h0M107 162h0M130 167h0M129.5 175h0M110.8 181h0M108.2 187h0M117.8 190.8h0M127.5 182.8h0M128 189.2h0M135.8 180h0M139.5 185h0M68.2 192h0M61.2 201h0" stroke="#4658B0" stroke-width="3.0" stroke-linecap="round" fill="none"/>
<path d="M227.3 177.1h0M216.5 206.9h0M213.8 44.5h0M236.4 211.2h0M219.4 124.5h0M219.9 108.9h0M215.1 193.1h0M216.7 150.9h0M215 95.8h0M221.7 109.2h0M215.4 188.3h0M233.6 173.8h0M213.7 88.7h0M215.3 100.1h0M225.9 124h0M219.1 38.7h0M223.2 191.7h0M248.5 156.4h0M213.7 76.3h0M247.5 202.1h0M238 153.8h0M213.8 115h0M233.4 40.6h0M217.6 218.5h0M226.8 131.3h0M223.9 196.8h0M235 144.5h0M245 207.5h0M215.2 157.5h0M231 93.5h0M226.1 88.9h0M219.6 154h0M219.3 128.7h0M214.3 180h0M236.5 127.8h0M222.5 185.1h0M216.8 172.7h0M238.1 150.7h0M228.8 90.5h0M214.1 153.6h0M217 162.7h0M214.9 57.5h0M220.3 84.5h0M237.6 197.9h0M225.3 88.9h0M223 183.6h0M214 168h0M227 150.6h0M224.7 169.4h0M224.3 133.1h0M220.1 220.5h0M224.3 180.1h0M223 219.9h0M218.7 135.6h0M237.6 194.2h0M219.7 80h0M225.3 179.5h0M218.7 95.8h0M217.3 141.5h0M214.4 102.7h0M215.8 180.5h0M219.8 219h0M215.8 176.3h0M244.4 120.7h0M226.4 79.6h0M214.2 136.7h0M225.9 62.5h0M241.7 200.8h0M222.8 185h0M236.2 53h0M224.7 222.6h0M231.2 214.6h0M233 201.7h0M232.3 162.3h0M229.2 151.8h0M250.8 78.4h0M233.1 82.2h0M219.8 169.6h0M247.8 80.4h0M223.3 61.1h0M216.5 175.3h0M224.3 206.5h0M228.5 199.7h0M225.1 202.5h0M224.7 217.9h0M223.4 194.7h0M226.8 151.6h0M239.4 88.1h0M218.9 91.9h0M244.6 178.4h0M216.7 115.3h0M214.3 136.6h0M232.8 200.4h0M214.1 131.6h0M216.1 178.8h0M217.3 93.9h0M230 173.5h0M224.2 200.4h0M241.4 215.3h0M215.2 118h0M214.1 168.8h0M216.1 161.8h0M214.4 177.1h0M219 122.1h0M225.8 210.6h0M215.3 105.9h0M219.7 179.8h0M214 189.5h0M217.2 84.7h0M221.9 137.9h0M230.7 194.8h0M216.8 128.2h0M233 191.7h0M220 155.1h0M220.4 221.5h0M219.9 116.5h0M250.3 131.9h0M217.8 76.1h0M224.2 60.2h0M214.2 206.2h0M213.8 198.4h0M232.3 221.5h0M228.7 201.2h0M227 174.5h0M240.3 98.8h0M214.6 165.2h0M232.2 171.4h0M234.3 119.6h0M223 82.4h0M220.8 87.4h0M222.5 212.8h0M242.2 134.8h0M224.7 198.3h0M235.9 101.6h0M215.7 69.1h0M226.7 180.9h0M219.6 70.3h0M240.1 195.2h0M244.6 186.9h0M220.9 143.1h0M235.5 194.1h0M216.5 79.3h0M224.2 126.2h0M224 105.6h0M219.4 110.9h0M216.1 166.6h0M223 63.7h0M216.6 54.7h0M228.7 205h0M229.6 70.6h0M214.8 101h0M216.4 71.6h0M224.6 54.1h0M219 127h0M231.1 194.5h0M217.2 112.9h0M231.5 184.3h0M221.4 220.6h0M226.4 211.4h0M242.8 75.8h0M222.3 145.6h0M229.8 196.5h0M219.2 98.8h0M223.3 82.3h0M234.3 202.9h0M221.3 79.8h0M233.3 114.4h0M220.1 66.3h0M223.1 184.1h0M223 96.2h0M219.1 136.1h0M222.4 153.8h0M233.8 220.1h0M236.1 164.7h0M218.8 196h0M229.4 117.3h0M234.3 171.1h0M218.1 74.1h0M235.4 69h0M217.6 172.9h0M216.1 122.1h0M244.5 118.2h0M224 107.2h0M218.5 180.9h0M219.1 75h0M223.3 87.8h0M214 216.4h0M232.1 197.5h0M216 54.2h0M221.3 124.2h0M221.3 91.5h0M217.5 198.4h0M250.1 173.3h0M236.1 134.5h0M238.3 190.6h0M217.2 150.1h0M215.1 130.4h0M216.1 126h0M222.1 108.5h0M244.9 97.4h0M220.6 159.2h0M221 177.2h0M231.3 129.6h0M235.7 209.6h0M234 197.5h0M227.5 214h0M231.4 86h0M220.7 164.4h0M241.3 143.5h0M220 84.3h0M232.3 115.1h0M247.1 77.9h0M217.4 140.8h0M236.5 112.8h0M229.2 200.4h0M240.6 123.6h0M217 192.4h0M217.4 130.3h0M248.5 193.3h0M238.1 90.8h0M229.9 215.4h0M223.2 160.1h0M248.4 201.3h0M251.7 96.3h0M231.8 150h0M242 204.4h0M226.8 165h0M226.7 206.6h0M225.3 123.4h0M224.3 94.6h0M225.9 174.9h0M227.8 210.8h0M242.2 58h0M214.5 128.6h0M218.3 214.3h0M224.8 208.1h0M227 55.8h0M235.7 138.8h0M242.2 216.9h0M215 79.6h0M226.9 79h0M220.3 94.7h0M230.9 144.7h0M217.3 152.2h0M224.6 101.5h0M215.8 57.3h0M223.6 83h0M219.2 95.3h0M221.3 140.4h0M216 198.2h0M226.2 131h0M229.8 98h0M224.4 185.7h0M215.3 141.4h0M220.6 139.2h0M228 189.1h0M219.7 186.7h0M215.7 58.8h0M222 123.5h0M229.4 222.1h0M237.4 85.4h0M235.7 185.2h0M237.7 107.7h0M243.6 214.1h0M221 131.4h0M235 54.2h0M214.5 188.9h0M222.6 160.6h0M233.8 180.4h0M233.2 182.3h0M227 185.8h0M217.8 66.1h0M245.4 126.1h0M228.4 171.1h0M225.7 82.1h0M219.6 205.8h0M222.4 207h0M221.4 178.7h0M218.9 137h0M221.3 68h0M226.9 138.7h0M248.9 202.5h0M223.1 102.8h0M219.2 88.2h0M234.2 140.2h0M223.8 78.3h0M230.4 206.4h0M215.9 211.4h0M224.3 187.1h0M225.1 155.2h0M224 203.9h0M217 211.3h0M243 198.5h0M219.1 179h0M215.9 108.5h0M218.4 93h0M220.5 113.5h0M217.1 72.7h0M215.4 161.2h0M242.1 218.4h0M223 222h0M215.6 179.5h0M217.3 93.7h0M216.2 216.9h0M223.9 184.1h0M228.8 194.9h0M216.3 73.8h0M215.1 211.4h0M226.7 206.9h0M220.4 96.8h0M226.3 64.9h0M229.4 207.5h0M236.7 96.6h0M223.8 69.4h0M232.1 109.1h0M232.7 189.9h0M220 77.2h0M226.4 187.6h0M228.1 89.5h0M221.1 89.1h0M215.5 128.6h0M218.9 195.8h0M243.9 187.5h0M224 194.6h0M246.9 197.8h0M215 141.7h0M213.9 73.9h0M219.3 112.3h0M215.4 177.9h0M218.6 207.9h0M214.7 63.5h0M221.7 221.9h0M221 108.7h0M220.5 109.4h0M225.6 83.1h0M241.7 126.2h0M217.6 111.2h0M244.5 107.4h0M243.1 66.7h0M215.4 183.1h0M227.2 54.7h0M232.4 115.8h0M221.8 151.3h0M241.7 175.7h0M227.2 215.5h0M215.1 182.3h0M215.9 187.7h0M233.2 221h0M220.4 187.2h0M230.3 218.4h0M224.8 187h0M223.3 54.2h0M221.6 154.4h0M236.7 91.7h0M220.1 135.9h0M242 168.9h0M234.3 201.1h0M230.1 120.1h0M226.9 206.9h0M223.3 104.2h0M234.7 125.3h0M224.8 147.5h0M242.1 151.9h0M233.7 199.9h0M245.5 203.2h0M216.8 194.9h0M238.9 61.2h0M229 167.4h0M223.2 200.9h0M230.6 201.7h0M222.2 101.6h0M249.9 134.2h0M216.1 188.2h0M216.8 52.2h0M218.7 222.4h0M226.1 104.3h0M220.7 127.2h0M227.8 68.5h0M220.6 128h0M235.1 213h0M217.7 105.2h0M214.9 208.5h0M248 122.7h0M222.8 152.8h0M241 42h0M221.9 154.6h0M218.1 195.6h0M232.5 42.4h0M235.9 129.7h0M232.6 218.9h0M245.3 213.8h0M220.4 158.3h0M242.7 200.2h0M215.8 125.2h0M217.8 143h0M223.4 220.7h0M226.6 215.1h0M222.6 135.9h0M237.2 107.3h0M216.9 56h0M239.3 132.5h0M219.3 214.6h0M232.5 198.9h0M214.5 104.1h0M229.6 170.1h0M229.1 208.2h0M219.6 95.7h0M218.8 110.6h0M219.8 138.9h0M230.5 91.9h0M229.5 147.1h0M219.7 138.1h0M231.6 103.9h0M237.6 162.8h0M221 148.1h0M218.3 218.3h0M225.4 82h0M214.7 194.4h0M226 146.2h0M214.5 209.1h0M230.8 155.6h0M221.7 138.4h0M222.6 222.4h0M214.3 84.2h0M225.4 114.8h0M231.5 202.1h0M222.7 155.4h0M244.8 214.4h0M219.2 180h0M220.1 178.9h0M232.5 203.5h0M229.2 74.7h0M220.2 178.6h0M232.2 181.4h0M215.3 103h0M220.4 64.3h0M246.4 187.6h0M245.7 208.5h0M215.9 179.8h0M226.7 126.6h0M225 79.6h0M240.1 218.5h0M233.2 67.4h0M230.5 66.8h0M217.4 117h0M239.3 215.9h0M238.7 222.5h0M225.9 189.7h0M235.3 153.6h0M216.8 185.4h0M233 218.9h0M222.8 173.1h0M226.3 84.1h0M230.7 106.7h0M226 145.2h0M226.8 83.4h0M223.6 204.4h0M217.3 87.5h0M220.8 155.4h0M219 68.7h0M236.8 57.5h0M219.9 164.7h0M222.9 138.3h0M220 207.7h0M228.6 172.4h0M239.5 184.6h0M221.6 99.9h0M233.8 165.2h0M246.4 201.2h0M224.9 214h0M248.6 158.4h0M220.1 122.1h0M228.4 176.9h0M235 112.8h0M214.6 191.8h0M241 222.3h0M223.4 218h0M223 77.2h0M224.3 117.2h0M222.4 172.4h0M215.7 64.9h0M214.4 160.1h0M226 204.9h0M221 178.1h0M218.6 89.7h0M215.6 61.2h0M234.8 185.3h0M215.6 97.3h0M215.8 115.7h0M249.8 136.8h0M214.8 82.9h0M237.4 178.4h0M226 184.7h0M239.8 121.6h0M220.2 132.5h0M223.6 126.6h0M218.1 75.6h0M216.4 221.5h0M221.5 109.2h0M229 222.9h0M226.5 104.6h0M235.7 161.6h0M217.8 196.2h0M221.1 184.1h0M222.4 148.2h0M216.8 213.7h0M225.8 185.1h0M224.6 113.8h0M236.2 91.3h0M219.9 211.4h0M245 145.6h0M224.9 118.7h0M229 174.4h0M222.9 121.7h0M218.5 169.4h0M224.5 109.6h0M242.9 110.2h0M229.2 140.9h0M227.1 204.9h0M224.6 60.2h0M226.3 104.9h0M227.2 119.1h0M218.1 98.6h0M221 95.2h0M219.8 192.2h0M219.4 98.8h0M227.6 141.6h0M240.6 195.1h0M226.6 135.8h0M239 185.6h0M223.7 98.5h0M226 159.2h0M216.5 139.5h0M224.9 116.4h0M220.1 93h0M232.7 149.9h0M237.1 183.2h0M218.8 98.3h0M226.9 135.9h0M220.8 156.1h0M213.6 199.1h0M249.3 190.4h0M224.1 88.9h0M218.4 145.9h0M223.8 196.6h0M219.3 202.6h0M220.3 89.2h0M234 198h0M214.6 106.1h0M231.9 104.9h0M224.4 202.4h0M224.1 192.3h0M240.5 45.6h0M228.4 71.7h0M213.7 85h0M240.3 105.7h0M228.5 145.9h0M222.8 54.3h0M218 142.7h0M233 198.6h0M225.4 127.2h0M233.8 130.6h0M215.1 78h0M227.8 111h0M249.2 135.8h0M228 56.2h0M224.1 51.3h0M229.6 119.5h0M224.7 132.9h0M219 180.4h0M235.6 104.9h0M242.8 199h0M224.4 72.2h0M224 120.8h0M219.1 210h0M231 178.1h0M217.8 165.7h0M235.6 169.4h0M246.5 186.9h0M238.9 187.5h0M229.5 91.9h0M227.3 70.6h0M229.7 184.3h0M246.2 167.6h0M215.8 159.1h0M216.9 91.3h0M222.2 53.8h0M216.6 161.3h0M222.6 118.1h0M217.9 167h0M214.5 51.6h0M223.1 221.6h0M214.7 215.2h0M234.9 94.9h0M249.7 136.7h0M229.7 128.2h0M221.7 67.1h0M239.6 75.1h0M237.4 217.9h0M251.4 210.2h0M215.7 190.6h0M213.8 88.4h0M215.7 119.1h0M221.8 63.9h0M220.4 88.3h0M228.7 188.2h0M237.2 125.9h0M237.6 66.3h0M233.8 216.6h0M233.8 174.6h0M240.4 207.5h0M227.6 138.4h0M233.4 157.7h0M224.2 75.7h0M216.5 52.9h0M247.7 192h0M226.8 137.5h0M240.9 140.4h0M221.5 51.8h0M236.5 213.7h0M219.4 219.8h0M248.2 193.3h0M217.7 102h0M232 120.1h0M236.7 115.8h0M219.4 178.7h0M226.2 129.5h0M219.5 100.7h0M224.6 140.1h0M221.7 141.7h0M235.5 157.5h0M214.8 119.8h0M226.5 63h0M221.6 66.5h0M233 218.1h0M234.5 156h0M214.6 93.5h0M223.9 158.3h0M232.8 132.1h0M232.9 176.9h0M223.3 125.1h0M233.9 69.9h0M241.2 142.3h0M236.8 160.7h0M217.3 177.8h0M224.9 95.4h0M232.3 199.2h0M227.4 131h0M227.6 104.1h0M235.4 38.3h0M215.4 105.7h0M216.4 65.9h0M214.2 117.1h0M215.9 62.1h0M216.7 144.8h0M216.6 158.9h0M214.7 94.8h0M231.9 89.6h0M219.3 55.6h0M237.2 199.9h0M232.6 52.8h0M215.6 52.8h0M223.5 103h0M217 112.2h0M223.5 78.1h0M233.2 119.3h0M215.2 82.5h0M230.6 217.8h0M225.9 89.8h0M219.3 62.9h0M224.8 211.5h0M224.1 206.7h0M219.8 209.5h0M232.5 158h0M230.6 158.3h0M214.6 76.6h0M219.3 179.4h0M214.8 223.2h0M250.5 182.1h0M217.9 200.6h0M236.7 130.1h0M224.9 74h0M225 219.4h0M237.9 198.9h0M229.7 57.9h0M238.3 67.8h0M218.1 180.2h0M226.3 75.7h0M249.4 139.2h0M225.4 216.4h0M216.6 113.9h0M222 130.2h0M216.8 200.9h0M218.7 105.9h0M227.4 183.6h0M219.6 126.7h0M217.6 148h0M214.5 214.5h0M224.6 117.1h0M230.3 68.4h0M224.1 192.1h0M217.5 198.9h0M233.1 221.9h0M218.3 176.4h0M227.1 187.3h0M213.9 94.8h0M220.9 83.1h0M232.3 155.8h0M219.8 103.6h0M241.4 183.1h0M216.8 209.8h0M216.3 191.8h0M241.1 172.9h0M230.3 204.9h0M246.4 220.4h0M217.1 110.9h0M225.2 223h0M228.8 82h0M223.2 202.4h0M249.7 175.8h0M214.7 124.5h0M243.2 218.5h0M241.6 205.2h0M236.2 135.2h0M219.9 55.7h0M232.7 75h0M232.9 178.7h0M239.9 145h0M228.8 59.9h0M225.7 170.8h0M221.3 111.4h0M224.3 69.6h0M224 115.1h0M224.5 127.5h0M227.9 147.1h0M226.1 70.8h0M228.5 144.5h0M222.2 135.4h0M217.7 102.9h0M244.7 177.8h0M223.7 86.2h0M224.9 96.4h0M227.4 67.8h0M225.8 218.1h0M222.7 142.3h0M221.7 103.6h0M235.2 220.9h0M225.5 56.4h0M243.2 167.2h0M219.9 136.7h0M229.3 155.8h0M215.3 92.8h0M222.7 80.4h0M217.1 207.4h0M216.3 140.7h0M216.6 129h0M247.6 162.9h0M214.5 190.7h0M240 169.3h0M220.5 87h0M219.8 187.6h0M228.7 222.9h0M242.3 203.8h0M243.9 77.3h0M229.2 192.4h0M220.3 168.9h0M219.2 162.3h0M214.4 174.6h0M231.6 165.2h0M221.9 75.1h0M223.5 186.4h0M227.1 179.9h0M245.8 206.6h0M221.2 56.6h0M215.1 187.5h0M220.4 83.5h0M216.3 109.4h0M224.6 65h0M217.6 187.1h0M224 214.3h0M246.5 192.8h0M240.4 143.9h0M230.4 104.7h0M227.4 168.8h0M226.4 138h0M235 111.5h0M217.7 114.9h0M237.5 127.2h0M216.4 88.5h0M219.9 107.4h0M243.3 197.8h0M225 84.4h0M222.9 213.7h0M219.8 51.2h0M224.8 157.1h0M216.3 136.6h0M221.2 180.9h0M224.9 92.9h0M217.8 62.5h0M224 181h0M234.8 164.6h0M235.7 90.7h0M215.8 128.5h0M236 211h0M241.4 80.8h0M218.4 174h0M234 218.2h0M230.9 87.3h0M232.9 175.7h0M215.5 208.9h0M221.9 57.7h0M226.9 143.6h0M224.6 114.3h0M224.6 218.1h0M214.1 170.1h0M220.1 163.8h0M236.3 103h0M228.9 97.9h0M220.4 106.1h0M216.1 217.8h0M238.4 174.7h0M214 60.6h0M221.6 54.8h0M228.6 154.7h0M241.7 210.1h0M238.9 213.6h0M217.9 198.5h0M214.2 72.4h0M217.6 78.9h0M231.8 113.9h0M232.1 203.3h0M231.7 81.2h0M220.3 148.4h0M219.1 157.3h0M213.7 105.8h0M223.5 193.3h0M215.3 177.4h0M216.2 145.5h0M223.8 141.5h0M216.6 171.6h0M234.4 116.6h0M218 190.4h0M223.2 103.4h0M221.6 145h0M230.8 196.7h0M223 124.1h0M236 177.2h0M227 92.3h0M240.7 50.4h0M220.8 211h0M242.2 191.8h0M216.1 157.9h0M243.5 124h0M221.7 64.9h0M228.5 206.4h0M221.5 162.7h0M226.3 64.8h0M220.5 93.7h0M219.7 170.9h0M218.1 180.6h0M236.8 198.7h0M236.1 186.6h0M223.8 98.1h0M225.2 165.6h0M222.4 203h0M233.3 218.8h0M217 160.7h0M246.9 153.9h0M214.5 194.7h0M232.9 71.5h0M216.6 112.5h0M228.9 108.3h0M235.1 120.7h0M224.3 146.7h0M228.3 171.9h0M231 101.2h0M219.8 117.7h0M222.3 116.5h0M219.6 93.5h0M251.4 183.3h0M236.6 179.8h0M220.5 118.8h0M219.7 41.9h0M215.9 102.8h0M218.2 53.4h0M222.6 170.1h0M246.3 219.3h0M221 89.2h0M227.9 169.2h0M227.3 188h0M228.1 213.9h0M222.4 57.3h0M215.8 158.8h0M236.6 50.6h0M215.9 133.8h0M232.4 178h0M218.1 189.4h0M223.3 108.2h0M219 176.4h0M218.7 149.3h0M227.4 125h0M226.8 107.9h0M222.6 134.8h0M228.3 181.4h0M233.1 154.6h0M220.6 96.1h0M241 221.1h0M227.6 177.2h0M247.2 143.2h0M217.4 205.7h0M224.7 149.5h0M222 73.1h0M231.8 199.7h0M218 60.9h0M217.3 200.7h0M216.8 81.7h0M221.5 174.6h0M221 176.6h0M224.2 215.8h0M243.9 104.7h0M218.6 112.9h0M240.1 134.4h0M230.9 123.2h0M240.3 205.1h0M224.5 196.2h0M226.9 168.7h0M225.6 81.4h0M227.3 201.9h0M231.4 186.6h0M229.1 88.4h0M226.7 197.4h0M219.5 181.8h0M220.3 170.7h0M214.1 199.8h0M218.1 190.5h0M215.9 180.7h0M244 124.4h0M245.6 192.9h0M225.9 141.5h0M225.7 82.2h0M223.8 67.4h0M220.5 58.9h0M216.3 68.1h0M219 55.6h0M228.1 197.2h0M227.7 212.9h0M231.9 188.5h0M227.7 221.2h0M214.2 205h0M237.4 163.6h0M215.7 182.8h0M218.4 211.8h0M221 168.9h0M214.1 139.4h0M241.6 200.3h0M229.8 182.1h0M239.5 192.7h0M216.7 102.5h0M213.8 75.9h0M230.9 149.6h0M215.4 126.2h0M216.9 104h0M249.1 177.1h0M240.2 63.1h0M218.9 195.5h0M225 186.4h0M240 136.3h0M228.6 189.2h0M221.9 76h0M219.1 152.2h0M237.5 219.8h0M218.9 107.1h0M230.8 181.1h0M214.3 196.1h0M224.7 121.5h0M224.9 159.3h0M215.2 189.2h0M223.5 190.3h0M235.4 127.6h0M243.1 90.6h0M223.1 170.8h0M224.7 72.8h0M219.6 150.7h0M224.9 102.2h0M217.7 123.7h0M237.4 195.5h0M225.4 93.9h0M219.2 118.8h0M215.5 123.8h0M225.7 153.4h0M216.5 156.3h0M226.1 207.9h0M215.2 77.9h0M243.9 220.6h0M241 214.3h0M220.7 188.2h0M217.9 120.6h0M214.6 117.4h0M242.3 176.2h0M232.1 150.8h0M222.7 198.1h0M216.7 63.2h0M224 54.8h0M221.5 85.3h0M217.7 160.5h0M230.4 121.7h0M215.6 144.2h0M232.8 179.6h0M215.2 170.3h0M216.2 196.9h0M237.2 217.7h0M232.2 186.2h0M218.2 89.5h0M223.3 59.4h0M250.3 161.3h0M234.3 162.7h0M224.5 208.6h0M224.4 88.5h0M247 218.3h0M213.8 157.6h0M217.6 173.7h0M214.5 190.2h0M218 124.7h0M234.4 179.4h0M215.8 109.8h0M223.5 82h0M235.7 198.5h0M217.2 181.3h0M223.9 86.1h0M227.7 136.2h0M214.6 61.8h0M214.9 166.2h0M224.4 179.6h0M229.2 83.3h0M225.6 103.4h0M225.1 94.7h0M226.6 155.9h0M213.6 107.8h0M220.2 176.2h0M245.3 199.8h0M233.5 97.1h0M224 138h0M224.1 145.4h0M234.8 152.2h0M230.6 146.2h0M231.6 179h0M217.6 100.1h0M217.1 218.9h0M218.3 129.9h0M219.9 171.6h0M213.6 103.8h0M219.8 218.1h0M239.5 133h0M222.7 192.6h0M228.6 197.6h0M221.7 57h0M229.2 157.6h0M220.4 96.4h0M244.6 161.1h0M217.8 57.6h0M220 164.4h0M243.4 180.7h0M220.7 183.7h0M233.4 136.4h0M221.6 156.9h0M233.7 115.4h0M246.7 135.9h0M219.5 187.4h0M232.7 189.6h0M240.5 137.4h0M248 213.6h0M217.8 184.9h0M218.2 188.5h0M238.8 137.9h0M220.4 83.4h0M217.6 156.2h0M234.5 152.6h0M224.7 132.7h0M222.5 183.1h0M227.9 105.8h0M218.5 106h0M214.7 212h0M229.4 198.8h0M220.4 61.1h0M222 100.7h0M224.7 188h0M232.6 155.8h0M248.1 123.3h0M242.2 159.3h0M229 159.3h0M220.5 58.2h0M215.9 78.1h0M225.5 107.7h0M227.1 90.3h0M215 99.9h0M214.4 112.7h0M218.5 168.9h0M237.4 148.2h0M229.9 216.8h0M228 63.1h0M221.3 136.7h0M223.1 132.7h0M234.7 139.2h0M222.4 190.2h0M219.3 193.9h0M213.8 95.3h0M223.7 57h0M234.8 176.9h0M224.8 128.8h0M216.5 96.7h0M223.7 200.8h0M243.4 160.7h0M228.3 165h0M219 95.2h0M220.7 111.1h0M231.4 61.6h0M221.3 70.3h0M217.8 151.5h0M222.8 79h0M232.2 163.3h0M221 122.8h0M221.7 61.4h0M233.2 75.7h0M240 135.8h0M216.1 105.9h0M247.1 131.7h0M239.3 126.7h0M239.8 201h0M234.4 136.5h0M232.9 107.1h0M215.7 103.8h0M224.5 111.9h0M221 89.2h0M240.2 126h0M214.9 148.6h0M224.8 137.5h0M241.9 138.6h0M213.9 124h0M230.1 137.7h0M230.7 140.1h0M213.6 149.3h0M218.6 84.6h0M217.9 95.7h0M214.2 164h0M222.9 196.8h0M235.3 186.8h0M222.4 77.6h0M246.2 146.1h0M214.3 80.5h0M222.5 152.1h0M233.7 133.2h0M236.9 119.3h0M223 121.5h0M234.2 183.1h0M230 59.8h0M241.5 220.7h0M227.5 146.6h0M230.9 182h0M236.2 142.8h0M218.6 130.8h0M235.7 133.5h0M230.9 128.5h0M245.2 162.2h0M240.7 98.9h0M216 195.8h0M224.3 87.1h0M214.4 57.7h0M218.5 127.9h0M228 192.9h0M215.9 143.4h0M238.9 203h0M225.9 116.4h0M214.2 132.5h0M220.5 80h0M217.7 135.8h0M240 170.2h0M247.3 218h0M214.1 136.5h0M225 184.5h0M219.1 181.5h0M226.1 113.9h0M234.1 69h0M222.5 189.5h0M220.1 73h0M230.6 141.6h0M228.9 108.4h0M224.8 159h0M218.1 140.1h0M224.9 215.5h0M216.1 141.2h0M235.2 195.7h0M217 209.5h0M226.8 115.6h0M216.3 92.4h0M220.2 82.5h0M250.9 204.9h0M218.3 171.1h0M243.9 126.8h0M221.9 178.1h0M250.7 213.8h0M231.4 219.2h0M221.9 145.1h0M237 174.6h0M249 209.5h0M229.4 81h0M230.9 216.2h0M219.7 55.6h0M240.6 202.3h0M238.3 156h0M216.4 107.9h0M234.9 101.8h0M219.4 62.3h0M216.3 133.8h0M240.9 210.5h0M222 133.8h0M214.5 208.2h0M216.6 203.6h0M214 63h0M214.8 56.2h0M237.9 167.4h0M224.2 114.1h0M216.6 217.2h0M241.9 156.1h0M244.6 199h0M228.5 187.6h0M235.3 89.2h0M220.1 140h0M220.3 137.1h0M250.6 138.6h0M225.6 194.7h0M225.4 214.9h0M216.5 218h0M242.6 170.2h0M218.7 183.9h0M228.1 140.3h0M235.2 189.1h0M229.5 103.2h0M230.9 72.2h0M225.2 149.7h0M226 81.2h0M221.7 62.5h0M234.9 162.1h0M215.7 106.7h0M223.2 55.4h0M233.3 221.9h0M213.9 88.8h0M217.1 90.9h0M234.8 208.8h0M222 181.3h0M245.3 178.9h0M226.3 120h0M237.3 195h0M226.6 123.1h0M221.8 60.9h0M248.9 168.6h0M215 80.6h0M221.2 148.3h0M220.5 165.8h0M221.4 121.3h0M220.2 69.4h0M221 140.3h0M219.1 104.1h0M216.3 138.5h0M234.9 213h0M233.4 179.9h0M251.1 121.3h0M222.6 101.9h0M216.1 177.7h0M214.6 182.7h0M216.2 186.2h0M225.9 43.9h0M216.6 94.6h0M230.1 37.8h0M220.2 138.9h0M219.3 71.6h0M225.9 168.5h0M236.9 166.8h0M237.1 165.2h0M217.9 157.1h0M223 98.2h0M223.8 179.8h0M237.6 60.9h0M213.7 109.5h0M223.9 51.2h0M220.7 189.9h0M215 68.8h0M249.6 114.2h0M222.9 140.3h0M224.2 95.3h0M233.4 97.6h0M222.9 68.5h0M220.4 61.2h0M244 193.6h0M225.7 66.6h0M244.5 102.9h0M220.2 67.1h0M223.6 102.1h0M240.7 202.5h0M230.3 198.9h0M232.7 189.9h0M221.6 64.6h0M229.2 178.8h0M217.9 184.2h0M233.4 183.2h0M216.4 204.4h0M214 118.2h0M218.9 79h0M216.8 152h0M219.6 39.5h0M215.6 219.3h0M215.8 151.2h0M226.8 191.9h0M216.2 135.7h0M215.8 72.9h0M231.3 203.2h0M215.4 209.6h0M220.6 207.6h0M230.4 189.6h0M221.8 183.9h0M245.3 220.2h0M244 130.3h0M236.6 149.9h0M221.6 79.1h0M242.5 106.4h0M234.9 98.4h0M236.1 216.9h0M219.5 211.9h0M227.9 215.8h0M227.7 214.5h0M242.6 199.7h0M240.4 204.9h0M220.9 183.6h0M220.5 69.6h0M227 185.3h0M219.6 92.3h0M224 69.9h0M218.3 165.7h0M214.7 123h0M223.7 203.4h0M239 96.8h0M220 128.9h0M227.5 135.9h0M228 60.9h0M228.6 120.4h0M225.5 70.6h0M232.7 103.4h0M215.4 126.3h0M218.4 177.6h0M215.5 106.9h0M230.3 207.9h0M218.9 170.9h0M235.1 156.3h0M215.5 108.1h0M238.6 48h0M214.5 113.5h0M234.3 62.3h0M237.3 101.4h0M225.4 210.8h0M215.7 63.9h0M229.2 58.6h0M222.3 62.8h0M251.4 188.5h0M223.7 189.5h0M240.7 176.7h0M238.8 69.3h0M217.1 68.4h0M235.6 212.9h0M235 86.4h0M224.5 75.9h0M223.5 218.6h0M236.3 177.3h0M214.7 105.1h0M227.9 61.5h0M232.1 178.4h0M227.2 122.8h0M218.7 188.6h0M223.4 176.3h0M224.4 152.2h0M217 179.8h0M243.9 135.2h0M223.8 191.3h0M232.1 184h0M214.2 203.4h0M225 146.5h0M245 181.4h0M249.8 220.7h0M219.2 180.6h0M227 176h0M228.7 98.7h0M217.8 120.3h0M219.1 133.5h0M222 220.3h0M221.9 97.5h0M237.4 142.9h0M227.2 111.9h0M219.6 164.8h0M246.3 188.6h0M231.4 120.7h0M223.4 118.3h0M214.8 168h0M219.5 114.3h0M216 119.3h0M228.9 201.4h0M214.9 151.2h0M225.5 126.3h0M218.6 98.4h0M250.1 179.1h0M238.8 43.1h0M214.2 195h0M229.6 158.3h0M228.4 139.2h0M220.5 58.8h0M223.1 195.8h0M214.2 76h0M222.2 93.1h0M217.8 67.2h0M224.3 120.2h0M222.9 123.7h0M218.8 179.6h0M236.1 43.1h0M223.9 109.3h0M215.9 182.3h0M224.8 203.5h0M220.7 52.6h0M215.3 121.7h0M222.3 129.9h0M225.5 212.9h0M225.1 201.2h0M221.9 131.7h0M222.3 152.1h0M226.8 161h0M223.7 202.9h0M242.7 165.8h0M217.9 98.9h0M217.3 175.5h0M230.1 117.5h0M241.6 219.3h0M225 174.4h0M225.8 150.9h0M215.2 65.8h0M240.7 110.8h0M242.3 211.5h0M242.2 198.6h0M222.2 103.3h0M233.5 94.4h0M228.9 212.4h0M222.2 175.4h0M214.2 126.9h0M218.6 137.6h0M217.3 109.1h0M236.3 215.6h0M216.4 206.4h0M224.5 89.9h0M219.4 64.2h0M239.4 210.5h0M232.5 145.2h0M222.6 77.8h0M219.3 166.7h0M217.4 137.2h0M220.2 111.5h0M230.3 136.2h0M221.4 95.9h0M214.6 143.4h0M230.3 150h0M229.7 203.3h0M221.2 193.2h0M244.2 146.1h0M214.5 144.6h0M226.6 165.8h0M216.1 57.2h0M225.9 166.9h0M218.1 56.7h0M226.6 55.8h0M236.8 206.8h0M218.6 169h0M219.3 122.6h0M226.4 83.7h0M224 66.3h0M223.8 87.3h0M220.8 173.3h0M221.9 60.1h0M226.3 164.5h0M230.4 79.1h0M224.4 61.9h0M221.4 204.9h0M228.1 61.2h0M240.7 188.9h0M224.3 178.6h0M214.9 146.8h0M234.8 129.3h0M215.1 103.8h0M219 200.6h0M231.2 86.8h0M221.1 60.7h0M220.5 85.4h0M214.8 182.5h0M218.9 202.5h0M214.3 74h0M225.8 207.8h0M215.7 131h0M217.8 90.7h0M219.1 68.6h0M229.5 154h0M225.2 148.4h0M220 66h0M213.9 187.8h0M238.5 173.3h0M217.1 209.9h0M215.6 79.2h0M218.7 68.1h0M233 179.9h0M220.3 128.5h0M235 218.8h0M232.7 164h0M213.8 199.1h0M217.4 188.2h0M222.8 162.1h0M247.4 214.1h0M219 171.4h0M227.8 174.3h0M219.9 201.3h0M227.1 183h0M230.6 180.5h0M235.6 187.7h0M219.1 59.3h0M221.7 103.7h0M216.4 158.7h0M228.6 211h0M228 191.8h0M221.7 132h0M244.8 42.8h0M216.8 218.5h0M244.8 109.7h0M219.2 69.1h0M217 100.6h0M248 151.6h0M222.7 136.8h0M236 164.6h0M222.8 161.2h0M223.5 102.9h0M232.4 179.2h0M218.6 190.4h0M223.2 93.3h0M220 92.3h0M237.6 209.1h0M221.5 125.1h0M242.9 182h0M236.9 113.9h0M222.3 156.5h0M225.5 89.5h0M226.7 94.9h0M217.6 52.6h0M216.6 156.3h0M233.1 84.2h0M223.9 212.6h0M230.1 94.3h0M237.9 105h0M215.6 162h0M221.4 143.9h0M218 76.8h0M231.3 124.7h0M230.3 183.8h0M230.4 83.6h0M218.5 109.6h0M230.8 143.9h0M220.7 66.2h0M226.7 131.6h0M221.9 117.8h0M228.7 185.9h0M242.7 87.3h0M248.2 93.6h0M249 98h0M253.6 102.7h0M268.1 92.7h0M269 100h0M258 109h0M261.8 108.1h0M267.2 109h0M270 115.4h0M283.5 115.4h0M288 114.5h0M297.7 116.7h0M263.6 123.5h0M267.2 124.5h0M280.8 124.5h0M299 125.4h0M253.6 130h0M252.7 136.3h0M256.3 137.2h0M266.3 136.3h0M269 138h0M274.5 136.3h0M298 132.6h0M305.3 138h0M274.5 142.6h0M280 142.6h0M284.5 146.2h0M293.5 141.7h0M291.7 146.2h0M310.8 144.4h0M279 149h0M263.6 149.9h0M269 150h0M271.8 151.7h0M273.6 150h0M267.2 159.8h0M271.8 160.7h0M276.3 167.1h0M277.2 168.9h0M281.7 169.3h0M287.2 169.8h0M267.2 170.7h0M291.7 178h0M298 184.3h0M291.7 188.9h0M274.5 184.3h0M270.8 188.9h0M280.8 196.1h0M286.3 198.9h0M302.6 200.7h0M281.7 201.6h0M270 196.1h0M258.1 190.7h0M260 198h0M257.2 207h0M247.3 213.4h0M258.1 219.7h0M306 77.5h0M330.6 105.2h0M310.4 145h0M305.2 138h0M297.4 184h0M284.2 170.2h0M281 165.5h0M286.2 197.2h0M280 195.2h0M263 74h0M270 56h0M256 62h0M232 36h0M240 38h0M226 42h0M236 45h0M255 48h0M252 150h0M255 160h0M262 165h0M254 175h0M262 180h0M256 185h0M264 210h0M252 200h0M266 220h0M254 222h0M262 140h0M258 120h0M262 130h0M256 145h0M260 156h0M264 170h0M252 212h0M268 204h0" stroke="#E3302B" stroke-width="3.0" stroke-linecap="round" fill="none"/>
</g>
<path d="M189.7 2.2V250.3M213.9 2.2V250.3M42.7 222.6H361.3" stroke="#111" stroke-width="1.8" stroke-dasharray="1.8 6.35" fill="none"/>
<rect x="42.5" y="3" width="318.8" height="247.3" fill="none" stroke="#555" stroke-width="1.1"/>
<text x="81" y="266.5" font-family="Liberation Sans, sans-serif" font-size="15" fill="#1a1a1a" text-anchor="middle">-10</text>
<text x="141.4" y="266.5" font-family="Liberation Sans, sans-serif" font-size="15" fill="#1a1a1a" text-anchor="middle">-5</text>
<text x="201.8" y="266.5" font-family="Liberation Sans, sans-serif" font-size="15" fill="#1a1a1a" text-anchor="middle">0</text>
<text x="262.2" y="266.5" font-family="Liberation Sans, sans-serif" font-size="15" fill="#1a1a1a" text-anchor="middle">5</text>
<text x="322.7" y="266.5" font-family="Liberation Sans, sans-serif" font-size="15" fill="#1a1a1a" text-anchor="middle">10</text>
<text x="38.8" y="244.8" font-family="Liberation Sans, sans-serif" font-size="15" fill="#444" text-anchor="end">0</text>
<text x="38.8" y="182.3" font-family="Liberation Sans, sans-serif" font-size="15" fill="#444" text-anchor="end">5</text>
<text x="38.8" y="119.8" font-family="Liberation Sans, sans-serif" font-size="15" fill="#444" text-anchor="end">10</text>
<text x="38.8" y="57.3" font-family="Liberation Sans, sans-serif" font-size="15" fill="#444" text-anchor="end">15</text>
<path d="M81 250.3v2.5M141.4 250.3v2.5M201.8 250.3v2.5M262.2 250.3v2.5M322.7 250.3v2.5M42.5 238.8h-2.5M42.5 176.3h-2.5M42.5 113.8h-2.5M42.5 51.3h-2.5" stroke="#444" stroke-width="1"/>
<text x="0" y="0" font-family="Liberation Sans, sans-serif" font-size="15.4" fill="#000" text-anchor="middle" transform="translate(14.6 138.6) rotate(-90)"><tspan>−Log10(FDR)</tspan></text>
<text x="49.5" y="287" font-family="Liberation Sans, sans-serif" font-size="14.95" fill="#000"><tspan>Log2 FC [</tspan><tspan font-style="italic">Casp8</tspan><tspan dy="-4.5" font-size="9.4" font-style="italic">1xDA/1xDA</tspan><tspan dy="4.5" font-style="italic"> Cflar</tspan><tspan dy="-4.5" font-size="9.4" font-style="italic">-/-</tspan><tspan dy="4.5" font-style="italic"> Mlkl</tspan><tspan dy="-4.5" font-size="9.4" font-style="italic">-/-</tspan><tspan dy="4.5"> vs. </tspan><tspan font-style="italic">Mlkl</tspan><tspan dy="-4.5" font-size="9.4" font-style="italic">-/-</tspan><tspan dy="4.5">]</tspan></text>
<text x="1" y="15.6" font-family="Liberation Sans, sans-serif" font-size="15.5" fill="#000" font-weight="bold">a</text>
<path d="M236 51.8L228.4 65.2M270.7 42.9L231.7 74.1M256.6 61.9L236.3 75M273.4 77.7L262.2 123M250 88.3L248 109.3M275.7 94.8L271.4 117.8M281.2 110L265.5 138.8M279 140L258 157M314.5 91.2L280.7 125.7M328.8 84.2L283.3 148.5M317.5 107.5L282 146M320 119.5L285 145M309 133.5L286 144M325.5 141.5L296 139.5M330.5 149L293.4 147.2M288.2 151.2L282 148M315.8 167.6L271.9 154.3M315.5 174.7L288.2 170.2M307.3 184.6L280.7 169.6M307.3 198.2L278 170.2M322.4 212.6L286.2 199.3M290.3 210.5L274.6 184M265.8 196.2L249.4 161.5M252.5 206.4L251.5 179.9M244.7 223.8L239.2 202.3M237.8 235L235.1 206.4" stroke="#333" stroke-width="0.8" fill="none"/>
<text x="236.3" y="49.4" font-family="Liberation Sans, sans-serif" font-size="11.2" fill="#111" font-style="italic">Birc3</text>
<text x="271.8" y="41.5" font-family="Liberation Sans, sans-serif" font-size="11.2" fill="#111" font-style="italic">Ifitm1</text>
<text x="258.4" y="63.6" font-family="Liberation Sans, sans-serif" font-size="11.2" fill="#111" font-style="italic">Nfkbia</text>
<text x="272.4" y="75.7" font-family="Liberation Sans, sans-serif" font-size="11.2" fill="#111" font-style="italic">Ccl7</text>
<text x="242.6" y="83.3" font-family="Liberation Sans, sans-serif" font-size="11.2" fill="#111" font-style="italic">Gbp2</text>
<text x="274.8" y="90.2" font-family="Liberation Sans, sans-serif" font-size="11.2" fill="#111" font-style="italic">Il1b</text>
<text x="278" y="108" font-family="Liberation Sans, sans-serif" font-size="11.2" fill="#111" font-style="italic">Tnf</text>
<text x="276" y="136.6" font-family="Liberation Sans, sans-serif" font-size="11.2" fill="#111" font-style="italic">Il6</text>
<text x="302.9" y="88" font-family="Liberation Sans, sans-serif" font-size="11.2" fill="#111" font-style="italic">Prf1</text>
<text x="329.2" y="81.4" font-family="Liberation Sans, sans-serif" font-size="11.2" fill="#111" font-style="italic">Marco</text>
<text x="318" y="105.2" font-family="Liberation Sans, sans-serif" font-size="11.2" fill="#111" font-style="italic">Mmp12</text>
<text x="321.8" y="117.8" font-family="Liberation Sans, sans-serif" font-size="11.2" fill="#111" font-style="italic">Cxcl9</text>
<text x="309.6" y="132.7" font-family="Liberation Sans, sans-serif" font-size="11.2" fill="#111" font-style="italic">Acod1</text>
<text x="326.6" y="142.7" font-family="Liberation Sans, sans-serif" font-size="11.2" fill="#111" font-style="italic">Nox1</text>
<text x="331.6" y="152" font-family="Liberation Sans, sans-serif" font-size="11.2" fill="#111" font-style="italic">Nos2</text>
<text x="288.9" y="158" font-family="Liberation Sans, sans-serif" font-size="11.2" fill="#111" font-style="italic">Cxcl2</text>
<text x="316.2" y="169" font-family="Liberation Sans, sans-serif" font-size="11.2" fill="#111" font-style="italic">Gzmb</text>
<text x="316.2" y="179.9" font-family="Liberation Sans, sans-serif" font-size="11.2" fill="#111" font-style="italic">Ccl22</text>
<text x="307.7" y="191.1" font-family="Liberation Sans, sans-serif" font-size="11.2" fill="#111" font-style="italic">Cxcl5</text>
<text x="307.7" y="204.4" font-family="Liberation Sans, sans-serif" font-size="11.2" fill="#111" font-style="italic">Cxcl10</text>
<text x="323" y="215.6" font-family="Liberation Sans, sans-serif" font-size="11.2" fill="#111" font-style="italic">Cxcl11</text>
<text x="286.8" y="220.1" font-family="Liberation Sans, sans-serif" font-size="11.2" fill="#111" font-style="italic">Cxcl1</text>
<text x="253.5" y="205" font-family="Liberation Sans, sans-serif" font-size="11.2" fill="#111" font-style="italic">Zbp1</text>
<text x="249" y="215.2" font-family="Liberation Sans, sans-serif" font-size="11.2" fill="#111" font-style="italic">Oas3</text>
<text x="241.2" y="233.6" font-family="Liberation Sans, sans-serif" font-size="11.2" fill="#111" font-style="italic">Ccl5</text>
<text x="231" y="244.6" font-family="Liberation Sans, sans-serif" font-size="11.2" fill="#111" font-style="italic">Mx1</text>
<path d="M457.9 3.3V227.5M455.5 226.1H681.5M480.4 3.3V227.5M455.5 203.6H681.5M502.9 3.3V227.5M455.5 181.1H681.5M525.4 3.3V227.5M455.5 158.6H681.5M547.9 3.3V227.5M455.5 136.1H681.5M570.4 3.3V227.5M455.5 113.6H681.5M592.9 3.3V227.5M455.5 91.1H681.5M615.4 3.3V227.5M455.5 68.6H681.5M637.9 3.3V227.5M455.5 46.1H681.5M660.4 3.3V227.5M455.5 23.6H681.5" stroke="#EBEBEB" stroke-width="1" fill="none"/>
<clipPath id="cb"><rect x="455.5" y="3.3" width="226.0" height="224.2"/></clipPath>
<g clip-path="url(#cb)">
<path d="M598 114.6h0M583.7 113.5h0M626.5 110.8h0M550.8 115.9h0M552.7 120.8h0M556.7 111.7h0M558 108.1h0M599.3 115.4h0M540.5 112.9h0M620.7 117.5h0M587.5 112.5h0M584.2 108.1h0M589 118.3h0M617.9 114.3h0M602.9 112.5h0M597.3 116.5h0M558.2 117.3h0M594.3 111.8h0M554.2 122.6h0M581.9 109.1h0M560.6 115.9h0M617.9 111.1h0M591.3 114.2h0M544.8 114.3h0M552.9 115.6h0M581.6 108.1h0M548.3 118.3h0M630.7 117h0M606.7 112.6h0M555.7 116h0M602.8 114.1h0M554.9 116.3h0M590.5 112.7h0M549.1 119.8h0M598.5 111.7h0M616.1 109.3h0M597.4 105.9h0M644.1 115.7h0M607.6 117.9h0M589.1 105.9h0M593 111.5h0M613.8 106.9h0M583.7 109.8h0M614.7 111.5h0M584.2 119.2h0M615.9 113.1h0M595.4 115.5h0M557.4 117.6h0M645 111.3h0M591.9 112.4h0M607.3 114h0M580.8 112.7h0M604 114.6h0M553.6 113.2h0M583.3 109.1h0M633.2 114h0M613.8 106h0M619 108.9h0M590.7 104.7h0M589.9 109.9h0M618.1 109.9h0M582.6 106.4h0M560.9 121.3h0M617 114.6h0M525.2 113.8h0M606.6 107.3h0M579.8 115h0M591.8 115.1h0M554.2 115.3h0M612.2 106.7h0M553.2 113.2h0M623.3 105h0M586.2 108.1h0M584.1 111h0M602.2 105h0M588.3 106h0M612.8 111.2h0M598.2 114.7h0M606.6 110.1h0M554.2 113.3h0M594.5 111.1h0M600.9 120.3h0M597.3 110.2h0M553.1 115.6h0M593.8 116.4h0M588.3 110.5h0M599.6 118.8h0M610.8 109.5h0M551.6 122.2h0M598.1 105.1h0M610.3 114.9h0M610.8 115h0M551.1 119.3h0M593 115.9h0M523.7 113.2h0M608.2 108.4h0M555.9 117.1h0M592.4 117.8h0M596.6 117.2h0M619 110.8h0M553.4 113.8h0M616.2 116.1h0M610.1 104.8h0M530.1 113.9h0M555 119.1h0M579.9 110.8h0M554.9 121.7h0M609.1 114.6h0M558 117.1h0M610 118.3h0M591.6 110.1h0M603.6 119.6h0M594 113.4h0M581.8 107.3h0M581.8 113.8h0M608.3 117.4h0M603 107.8h0M581.9 105.6h0M612.8 106.1h0M547.2 121.6h0M624.6 106.1h0M545.1 115.1h0M580.2 108.8h0M555.7 113.4h0M589.8 110.9h0M590.6 109.3h0M550.9 120.5h0M585 106.7h0M593.6 110.1h0M602.8 115.1h0M580 109.1h0M582.4 116.7h0M588.7 105.2h0M580.6 116.1h0M608.3 110.3h0M579.9 111h0M591.2 111.9h0M549.5 111.6h0M615.4 105.8h0M580.8 106.9h0M600.7 105.9h0M594.7 108.7h0M560.3 111.4h0M588.5 110h0M605.6 115.6h0M595.1 114.3h0M583.4 107.5h0M558.8 113.6h0M612.5 116.1h0M553.1 117.8h0M587.5 111h0M615.1 116h0M549.1 115.9h0M550.9 112.3h0M582.1 110.4h0M561.2 119.2h0M613.1 117.6h0M556.3 120.7h0M546.1 116.6h0M613.7 107h0M581.5 106.3h0M612.1 107.2h0M602.8 106.1h0M588.9 107h0M603.4 114.4h0M552.3 113.5h0M600.3 107h0M623.4 107.5h0M527.9 113.1h0M641.8 113.2h0M560.8 120.8h0M555.5 120.5h0M623.1 107.1h0M602.3 108.4h0M599.8 106.5h0M580 107.1h0M584.2 109.7h0M581.7 113.1h0M551.2 114.6h0M580.2 111h0M603.6 110.7h0M618.7 114h0M536.5 113.2h0M612.9 115h0M594.5 112.3h0M589.4 114.7h0M584.9 115.1h0M640 116.3h0M551.9 119h0M553.9 112.1h0M560.8 118.7h0M547.5 120h0M596.7 114.8h0M609.7 109.5h0M607.1 109.4h0M549.8 112.9h0M559.8 111.8h0M591.5 109.8h0M584.8 116.5h0M581.7 111h0M598.3 105h0M555.3 118.5h0M558.7 122.2h0M558.1 111.9h0M621.3 115.3h0M550.5 116.8h0M585.4 113.3h0M556.9 115h0M641.8 117.3h0M550.8 121.1h0M597.8 115.9h0M602.3 115.8h0M611.3 106h0M599.4 108.2h0M611.3 115.4h0M607.8 113.4h0M554.7 115.3h0M610.8 108.7h0M595.8 108.3h0M545.7 111.8h0M552.5 118.6h0M620.9 110.9h0M609 111.8h0M580.4 115.4h0M556.4 113.3h0M583.1 108.7h0M593.3 111.2h0M595.6 118.5h0M607.1 104.8h0M557.6 111.3h0M580.2 119.4h0M616.1 112h0M594.7 107.4h0M608.7 112.1h0M534 113.4h0M599.3 111.4h0M608.9 106.3h0M611.4 112.2h0M615.8 105.5h0M586.4 112.1h0M596.4 112.2h0M639.5 116.8h0M599 112.2h0M599.4 112.3h0M582 109.3h0M586.4 109.7h0M602.7 113.1h0M552.1 113.5h0M589.8 107.5h0M609.3 105.7h0M637 109.6h0M580.9 112.2h0M616.7 116.9h0M619.5 111.7h0M560.8 118.4h0M618.7 106.4h0M611 112.4h0M554 114.6h0M616.7 112.9h0M556.7 121.7h0M602 117.8h0M620.7 107h0M621.8 112.7h0M612.3 117.2h0M552.9 120.2h0M600.3 111.5h0M561.2 116.8h0M584.2 115.7h0M619.9 105.3h0M594.1 105.8h0M583.3 110.6h0M591.3 111.9h0M582.5 107.7h0M611.8 113.4h0M593.3 111.9h0M544.4 112.9h0M594.4 115.3h0M583.7 104.7h0M581.1 113.3h0M605.9 112.2h0M606 116h0M604.1 114.2h0M547.7 121.9h0M615.8 111.1h0M531.2 112.7h0M557.7 115.5h0M600.4 114.8h0M589.6 108.4h0M579.8 112.8h0M533.5 114.3h0M557 118.8h0M552.2 115h0M623.7 114.3h0M555.5 117.6h0M559.4 115.7h0M602.4 117.8h0M620.4 112.3h0M593.7 111.1h0M597.4 112.1h0M588.3 109.5h0M624.7 110.9h0M615.1 111.1h0M555 115.4h0M581.6 109.7h0M607.5 108.6h0M607.6 109.5h0M556.1 118.4h0M559.2 117h0M555.2 117h0M621.8 119.2h0M590.3 109.8h0M579.6 108.1h0M597.1 109h0M544.5 113.6h0M581.3 112.9h0M525.3 113.4h0M614.6 107.4h0M591.5 105.9h0M587.3 108.9h0M593.5 116.3h0M555 115.7h0M579.9 112.7h0M552.1 120.1h0M552.8 112.7h0M598.1 106.4h0M548.7 116.9h0M552.5 114.6h0M584.4 106h0M606.9 105.2h0M559.9 118.2h0M526.8 114.6h0M626.2 109.1h0M618.8 107.5h0M584.8 113.4h0M608.5 105.6h0M543.9 112h0M621.7 116.1h0M598.2 115.1h0M601.3 111.1h0M611.1 110.4h0M614.3 114h0M608.7 118.1h0M629.5 114.1h0M613.1 114.7h0M613.3 109.1h0M580.2 112.2h0M596 117.6h0M619.6 108.9h0M610.6 112.9h0M549.7 116.8h0M557.3 114.1h0M606.6 122.2h0M587.3 113.4h0M615.4 107.6h0M619.2 110h0M550.8 119.9h0M588.7 105h0M556.9 115h0M550.8 116.9h0M593.9 108.5h0M615.8 116.5h0M551.9 120.8h0M603.8 105.9h0M526.7 112.9h0M600.4 107.1h0M531.2 113.1h0M606.2 114.8h0M609.2 106.9h0M611.9 110.2h0M614.4 115h0M591.5 113.1h0M613.9 104.7h0M619 110.6h0M558.2 116.3h0M599.4 108.2h0M607.1 111.7h0M550.2 118.7h0M595.8 109h0M599.8 114.3h0M611.8 111.7h0M602.8 110.3h0M611.8 111.8h0M560.1 121.6h0M599 108.5h0M608.7 107.5h0M581.1 113.1h0M584.9 117h0M610.4 116.7h0M561.2 121.2h0M584.3 109.3h0M617.2 107.5h0M610.8 110.2h0M602.5 113h0M552.5 116.1h0M602.7 115.4h0M596.7 116.7h0M554.1 119.6h0M614.8 106.2h0M594.9 106.7h0M612 110.3h0M611.1 112.2h0M559 117.3h0M598.7 113.6h0M588.4 109.2h0M592.5 107.7h0" stroke="#5DBB47" stroke-width="3.1" stroke-linecap="round" fill="none"/>
<path d="M570.5 133.5h0M566.1 147h0M566 130.6h0M565 134.3h0M564.3 134.6h0M564.6 147.3h0M570.8 131.5h0M568 103h0M570.3 132.1h0M559.3 153.9h0M568.8 102.3h0M568.6 88.2h0M561.4 142.8h0M558.2 130.1h0M566.5 114.4h0M559.8 112.6h0M570.1 99.9h0M558.8 128.3h0M573.1 140.3h0M560.7 161.6h0M565.4 149.8h0M560.8 116.8h0M563.8 108.4h0M561.6 152.8h0M564.3 128.9h0M567.6 92.2h0M561.8 145.9h0M570.2 136.9h0M570.8 107.4h0M571.5 107.7h0M561.7 152.5h0M569.3 103h0M559.4 140.3h0M576.3 123.8h0M570.4 130.1h0M576.3 128.4h0M575.2 125.8h0M561.4 164.7h0M565.1 160.7h0M562.3 129.7h0M561.1 156.2h0M571.8 108.2h0M562.7 133.9h0M572 94.6h0M574.4 128.7h0M562.3 145.3h0M563.8 134.2h0M564.3 109.6h0M567.4 117.6h0M569.3 105.4h0M559 135.9h0M557.8 114.7h0M563.5 108.7h0M561.9 110.9h0M565.5 155.3h0M567.5 114.1h0M565.1 151.3h0M572.2 103h0M562.9 123.1h0M570.8 107.3h0M566.5 115.3h0M572.7 121.6h0M564.7 103.9h0M569.4 124.9h0M560.6 137h0M567.8 134.4h0M567.3 113.7h0M592.2 125h0M567.2 111h0M573.7 101h0M571.1 116.1h0M570.1 103.4h0M564.6 150.5h0M562.8 141.9h0M573.3 116.7h0M562.3 139.4h0M579.9 132.3h0M560.2 139.2h0M570.7 115.2h0M566.7 130h0M571.6 104.5h0M566.1 114.1h0M567.4 108h0M567.6 99.5h0M567.5 107.9h0M572 118.3h0M556 130.4h0M562.6 151.8h0M562.7 145.3h0M600.5 86.9h0M565 121.5h0M563 152.6h0M567.9 134.7h0M563.2 163.6h0M566 137.7h0M565 115.9h0M565 135.2h0M621.8 86.7h0M567.8 149h0M573 104.2h0M574.5 136.6h0M562.5 161.4h0M569.4 113.4h0M564.6 127.8h0M561.1 148.1h0M601.2 99.5h0M568.3 100.5h0M561.4 132.9h0M568.9 117.3h0M558.8 129.9h0M564.9 146.3h0M565.7 121.8h0M580.2 115.7h0M566.1 133.6h0M567.2 113.2h0M574.7 127.1h0M570.3 97.7h0M559.8 143.1h0M567.8 135.4h0M568.1 127.2h0M561.4 146.9h0M572.5 105.7h0M564.5 130.8h0M575.1 110.7h0M568.7 105.5h0M565.9 143.3h0M571.6 110.3h0M574.2 100.7h0M568 113.1h0M562.3 132.2h0M565.3 121.5h0M568.3 132.1h0M570.1 127.6h0M574.1 98.7h0M570 115.1h0M564.3 144.9h0M560.2 121.2h0M560.1 119.4h0M572.8 118h0M566.2 135.3h0M563.6 124.3h0M569.1 120.4h0M568.5 103.7h0M573.3 111.5h0M573.4 106.1h0M573.2 123.3h0M566.2 150.8h0M571.4 112.5h0M570.7 127.3h0M572.3 123.9h0M562 155.1h0M561.8 109.4h0M574 119h0M564.7 139.5h0M561 112h0M575 109.5h0M573.4 134.7h0M571.4 121h0M574.5 131.8h0M560.2 141.6h0M572.8 103.9h0M574.8 119.7h0M629 133.5h0M570.5 112.2h0M561.9 160.3h0M564.7 110.2h0M565 108.1h0M568.3 129.6h0M562.1 150h0M558 108.3h0M561 122.6h0M578.1 103.6h0M560.4 115h0M560.1 119.1h0M562.4 153.6h0M561.1 166.2h0M565.3 108.2h0M571.9 119.7h0M568.7 130.5h0M573.7 101.7h0M562.8 136.1h0M564.2 159.9h0M564.3 140.5h0M560.3 139.3h0M560.5 132.9h0M577.7 103.9h0M560.4 134.2h0M565.8 145.7h0M563.7 110.8h0M570.7 119.5h0M568.3 116.4h0M635.7 139.3h0M572.9 97.3h0M565.9 138.5h0M573.5 115.5h0M561.5 100.4h0M564.3 113.2h0M567.6 124.7h0M560.4 149.1h0M558.6 107.3h0M568.9 129.4h0M569.4 111.8h0M561.4 133.2h0M570.5 120.5h0M560.5 127.8h0M561.2 93.7h0M567.5 122.2h0M573.8 125.3h0M561.7 124.9h0M569.2 94.3h0M618.5 92.6h0M570.1 105.1h0M577.9 116.8h0M566 126.2h0M564 144.1h0M571 110.4h0M571.4 126.1h0M570.3 117.6h0M565.6 148.2h0M565.5 144.3h0M571.7 112.5h0M568.4 105.6h0M563.5 161.5h0M575.6 109.7h0M573.2 122.9h0M564.5 155.7h0M566.5 113.9h0M562.1 131.3h0M573.1 123.4h0M579.8 105.5h0M562.8 111h0M564.5 149.9h0M559.7 131.2h0M568.7 123.5h0M576.6 128.7h0M578.9 115.7h0M561.3 117.9h0M569.4 120.1h0M569 99.1h0M571.8 130h0M564.8 147.9h0M573.6 104.9h0M565 124.9h0M565.2 140.3h0M570.1 128.2h0M567 128.6h0M570.9 133.9h0M558.5 136.6h0M575 121.8h0M573.1 119.2h0M562.8 132.5h0M565.2 141.5h0M563.2 125.6h0M571.5 126.4h0M567.9 110.4h0M566.2 131.1h0M567.4 102.9h0M566.8 107.1h0M565.7 107.7h0M570.8 126.1h0M558.4 141.1h0M562.3 105.4h0M562.6 124.5h0M568.8 120.7h0M564.5 137.4h0M559.4 150.9h0M566.7 128.6h0M572.6 101.8h0M567.7 155.1h0M564.7 101.9h0M565.1 151.6h0M567.5 141.9h0M564.4 161.9h0M565.8 136.7h0M565.9 115.5h0M565.3 113.1h0M564.6 119.2h0M571.5 128.7h0M575.3 133.4h0M565.1 107.6h0M562.1 149.3h0M569.8 126.9h0M562.5 142.1h0M562.4 117.1h0M572.9 113.3h0M569.9 127.9h0M563.9 158.1h0M569.4 128.3h0M570.6 100h0M567.6 120.3h0M571.7 114.1h0M566.5 125.4h0M571.4 123.5h0M562.3 107.4h0M561.7 153.6h0M567.9 104.4h0M565.1 107.1h0M582.4 99.6h0M558.5 132.5h0M569.3 138.1h0M569.1 96.3h0M558 155.9h0M574.8 121.5h0M569.8 146h0M566.7 97.7h0M575.5 118.5h0M562.8 113.8h0M609.8 126.5h0M558.5 124.5h0M565.8 147.5h0M563.7 143.6h0M569 104.9h0M567.5 112.6h0M572.8 106.1h0M564.6 134.6h0M563.5 140.7h0M557 107.4h0M563.2 138.1h0M561.7 150.9h0M568.8 120.8h0M565.3 130.9h0M571 106.8h0M558.7 157h0M564.2 134.8h0M577.8 147h0M558.8 152.6h0M570.2 109.4h0M574.9 99.7h0M562.7 145.5h0M568.4 105.8h0M564.1 121.6h0M581.6 88.9h0M571.9 113.9h0M565.7 134h0M570 117.5h0M559.9 149.3h0M559.8 151.3h0M563 136.3h0M566.8 110.6h0M564.7 142.1h0M574.2 117.7h0M570.9 125.2h0M561.1 157.3h0M582.2 93.3h0M571.5 100.3h0M564.9 112.8h0M566.1 112.4h0M565.9 123.4h0M578.9 118.6h0M561.8 142.2h0M567 127h0M561.7 109.2h0M561.7 134.8h0M561.5 138.9h0M571.4 115.2h0M570.4 92.8h0M573.7 126.5h0M577.6 124.1h0M569.1 122.3h0M572.4 103.2h0M565.7 111.4h0M563.5 146.3h0M565.3 107.2h0M563.7 137.9h0M561.6 127.6h0M571 113.6h0M566.8 123.2h0M564.9 126.5h0M572.2 123.8h0M595.3 101h0M562.1 133.6h0M562.9 105.2h0M570.3 130.3h0M559.9 104.4h0M567.2 150.1h0M559.9 143h0M563.5 127.1h0M561.3 161.7h0M568.5 95.9h0M563.3 130.5h0M572.4 121.2h0M559.6 158h0M566.9 113.2h0M568.5 105.6h0" stroke="#9E9E9E" stroke-width="3.1" stroke-linecap="round" fill="none"/>
<path d="M565.3 92.1h0M572 82h0M572.6 134.3h0M569.9 152.1h0M568.4 126.6h0M567.3 89.6h0M570.4 83.8h0M571.2 130.5h0M566.5 80.1h0M570.2 147h0M565.5 92.1h0M570.8 133.2h0M566.9 94.4h0M569.5 138.5h0M576.1 85.4h0M574.7 95h0M572.2 142.3h0M571.4 144.9h0M572.5 92.3h0M572.2 127.9h0M569.6 126h0M570.2 150.4h0M575 93.4h0M570.6 137.5h0M566.1 99.8h0M569.2 141.6h0M573 134.3h0M573.9 153.5h0M573.5 129.1h0M564 95.3h0M571.2 133.9h0M568.6 93.3h0M567.7 97h0M572 96.4h0M573.2 124.1h0M569.7 125.4h0M568.4 146h0M576.6 100.6h0M571.8 142.7h0M573.1 140.8h0M572.4 98.5h0M573 147h0M573.5 144.6h0M569.6 75.1h0M570.9 93.1h0M568.6 91.7h0M574.9 156.3h0M573.4 98.8h0M573.2 138.2h0M572.6 142.9h0M570.9 98.4h0M572.1 98h0M567.4 126.3h0M569.2 144.7h0M569.6 90h0M570.6 100.6h0M567.8 145.7h0M566.7 93.6h0M568.1 133.9h0M564.8 103.5h0M568 88.2h0M569.7 154.4h0M566.9 93.2h0M568.5 133.6h0M568.1 157.2h0M568 129.9h0M572.1 133.3h0M568.9 147.7h0M570.7 151h0M568.4 132.4h0M574.1 91.4h0M570.7 133.4h0M570.2 134.1h0M569.3 132.2h0M568.6 149.1h0M568.4 102.1h0M566.6 92.5h0M562.7 99.4h0M567.9 95h0M572 128.1h0M572.4 92h0M569.7 140.9h0M568.6 137.4h0M569.9 97.6h0M570.5 93.8h0M571.6 153.7h0M569.5 146.8h0M566.8 135.5h0M570.2 155h0M569 140.3h0M569.3 137.1h0M568.9 92.3h0M566.7 90.6h0M572.8 152.5h0M571.6 136.6h0M570.3 143.3h0M573.8 144.5h0M573.2 88.6h0M569.8 152h0M572 143h0M568.4 95h0M571.5 138.1h0M571.1 94.8h0M567.1 96.7h0M564.7 98.6h0M568 101.4h0M571.1 142.8h0M569.9 144h0M571.1 138h0M570.2 99.5h0M570.5 146h0M569.4 86.5h0M572 137.5h0M565.8 140.3h0M570.8 87.8h0M572.8 155h0M572.4 97.5h0M564.2 101.7h0M568.7 135.9h0M569.3 145.4h0M570.6 142.7h0M566.4 104.4h0M567.2 93h0M569 138.4h0M571.6 91.9h0M564.9 89.4h0M570 135.7h0M569.8 127.3h0M570.3 127.9h0M570 139.2h0M572.6 123.9h0M572.6 136.5h0M569.4 89.6h0M571.3 123.3h0M569.4 143.7h0M573.5 160.9h0M572.3 137.3h0M573.8 140.4h0M568.3 101.4h0M571.4 98.7h0M572.5 89.8h0M568.9 134.7h0M571.9 135h0M571.4 124.9h0M572 99.9h0M573.2 138.6h0M565.1 92.6h0M574.6 136.1h0M572 134.3h0M568.4 100h0M574 94.7h0M572.2 155.7h0M570.4 152.3h0M573.6 102.4h0M567.3 100.7h0M569 143.3h0M569.3 97.5h0M574.5 145.3h0M564.7 81.4h0M571.9 128.1h0M572.6 95.2h0" stroke="#4A87C4" stroke-width="3.1" stroke-linecap="round" fill="none"/>
<path d="M548.7 140.9h0M549.7 155.8h0M593.6 82.5h0M549.2 152.2h0M551.3 138.4h0M601.6 100h0M609 76.9h0M544.2 158.4h0M596.2 91.5h0M557.6 136.6h0M614.4 87.6h0M539.2 140.8h0M587.5 88h0M541.9 156.2h0M534.4 154.7h0M549.3 165.3h0M561.4 132.1h0M593.7 87h0M543.2 165.6h0M610.2 72.8h0M559.7 130h0M540.5 140.2h0M625.4 68.8h0M557.2 134.4h0M621.6 77.7h0M611.5 86.9h0M536.9 146.7h0M591.5 103.4h0M533.5 141.7h0M542.4 152.2h0M558.7 133h0M557.4 142.6h0M552.3 137h0M545.1 186.7h0M535.6 146.5h0M640 73.6h0M590.1 87.8h0M584.2 94.7h0M555.1 145.5h0M599 89.8h0M605.6 92.3h0M595.8 80.3h0M553.4 153.6h0M589.7 92h0M611.7 87.3h0M551.3 142.7h0M617.9 68.8h0M539.1 141.1h0M553.7 149.6h0M620.7 80.5h0M544.1 141.1h0M613.9 73.3h0M549.1 140.9h0M541.6 144.8h0M619.6 84.6h0M526.8 183.2h0M555.9 147.6h0M616 94.1h0M596.5 126.1h0M552.1 131.2h0M593.9 147.2h0M545.8 124.5h0M529.3 161.4h0M610 89.2h0M625.8 88.2h0M544.7 148.4h0M603.6 97.4h0M560.5 130.7h0M555.2 147.1h0M602.3 69.4h0M553.7 129.4h0M599.8 94.4h0M593.6 102.5h0M600.2 98.8h0M590.2 91.3h0M543.5 148.9h0M602.2 81.9h0M604.8 81.8h0M607.9 73.7h0M599.8 98.6h0M550.7 154.5h0M609 85.5h0M629 76.3h0M595.1 94.8h0M548.3 164.4h0M540 143.4h0M610.1 99.4h0M587.5 100.6h0M537.1 148.8h0M615.9 66.3h0M526.8 192.4h0M540.7 154.3h0M615.7 73.5h0M614.6 80.3h0M557.6 153.2h0M555.2 135.2h0M546.9 143h0M599 81.9h0M623.9 70.8h0M536.5 151.1h0M605 95h0M548.8 134.6h0M598 81.1h0M609.2 80.5h0M618.4 81.1h0M608.6 94.6h0M553.8 134.4h0M560.6 125.4h0M542.8 153h0M619.8 82.8h0M606 74.7h0M627 80.2h0M593.3 97.6h0M549.9 126.1h0M545.8 151h0M633.1 82.1h0M593 95.6h0M613.2 91.6h0M511.6 191h0M644.1 73.5h0M542 148.9h0M633.5 86.7h0M556.2 128.4h0M603.5 89.6h0M551.9 145.1h0M545.6 156.2h0M621.8 85.6h0M592.5 88h0M554.7 132.1h0M605.9 77.4h0M627.3 78.9h0M624 74.3h0M554.8 131.6h0M596.9 91.4h0M603.5 103.6h0M518.6 151.9h0M546.8 154.2h0M613.4 86.4h0M546.7 139.8h0M600.7 89.2h0M539.8 155.2h0M545.2 140.1h0M549.6 155.7h0M617.1 87.1h0M585 102.7h0M552.1 142.6h0M593.3 92.4h0M616.1 76.5h0M561.6 145.3h0M531.8 176.4h0M597.3 90.2h0M621.4 65.7h0M611.7 82.6h0M559.7 140.5h0M589.5 92.8h0M556.8 132.2h0M557.1 146.6h0M558.2 149.7h0M614.9 90.3h0M552.1 144.9h0M540.4 155.1h0M547.5 135.6h0M551.1 137.1h0M622.3 75.5h0M543.2 155.3h0M612.7 93.4h0M558.2 136.3h0M560.6 141.4h0M595 94.6h0M603 41.1h0M555.2 132.9h0M548.9 149.8h0M561.1 129.9h0M550 142.2h0M540.5 134.1h0M617.4 77.9h0M612.1 95.7h0M587.5 90.1h0M558.1 140.1h0M598.7 101.2h0M584.5 94.9h0M594.5 96.7h0M543.9 151h0M604.1 97.5h0M635.5 68h0M608.1 100.4h0M588.9 100.7h0M547.8 140.9h0M511.8 179h0M558 138h0M597.7 88.3h0M543.9 153.9h0M555.2 149.7h0M559.8 139.3h0M591.8 97.1h0M600.8 95.3h0M545.3 144.7h0M539.7 145.2h0M597.7 100.9h0M629.1 69.7h0M616.1 76.6h0M554.6 139.7h0M553.3 141h0M598.6 85h0M557 143.8h0M535.4 139.1h0M586.2 95h0M604.1 88.4h0M595.4 89.6h0M603.2 86.2h0M546.1 128.5h0M551 149.7h0M620.6 78.5h0M639.3 71.7h0M593.7 100.4h0M615.4 61.8h0M611.8 89.2h0M548.1 149.7h0M539.2 157h0M581.3 91.1h0M604.8 76.6h0M555.4 144.8h0M553.8 146.8h0M622 76.5h0M597.2 83.1h0M548 140.9h0M522.3 162.7h0M603.5 101.8h0M625.6 73.6h0M539.3 134.8h0M559.8 145h0M560.5 142.8h0M587.3 99.7h0M555.9 139.9h0M624.5 88.9h0M584 97.7h0M664.6 41.1h0M600.2 100.1h0M554.3 141.1h0M613.4 83.5h0M540.3 125h0M558.2 133h0M541.7 144.8h0M509.8 205.2h0M500.1 184.7h0M530.9 170.1h0M606.9 77.2h0M618.2 85.5h0M584.9 92.2h0M520.7 165.7h0M539.8 136h0M614.1 84.2h0M580.9 100.3h0M533.3 171.3h0M612.6 92.9h0M595.9 99.9h0M627 72.9h0M607.6 82.6h0M603.3 94.2h0M580.4 92.2h0M618.5 89.4h0M542.1 140.8h0M608.3 101.1h0M631 85.4h0M628.2 84.3h0M533.1 149h0M605.7 77.1h0M550.3 148.2h0M556.2 137.9h0M636.3 83.5h0M552.7 143.6h0M548.6 132.1h0M544.6 131.1h0M599.3 91.7h0M604.4 98.3h0M605.9 79.5h0M542.4 137.3h0M619.2 99.2h0M595.1 75h0M611.5 90.2h0M555.3 146.4h0M613.2 90.7h0M524.9 167h0M618.3 91.1h0M625.3 76.2h0M597.6 100.6h0M550.9 146.8h0M616.6 92.7h0M545 143h0M602.7 84.1h0M624.9 71.5h0M544 155.7h0M558.2 126.8h0M626.4 83.4h0M634.7 72.1h0M599.4 88.5h0M614.8 73.8h0M602.7 79.3h0M554.2 141.4h0M622.5 75.1h0M533 153.1h0M518.5 193.3h0M607.6 79.2h0M542.6 141.2h0M547.7 140.8h0M599.7 102.4h0M586 94.4h0M539.5 143.6h0M592.2 95.2h0M559.6 132.2h0M541.7 149.8h0M560.8 135.3h0M589.5 92.8h0M601.9 93.6h0M541 159.2h0M592.2 94.7h0M620.1 81.8h0M543.2 155.9h0M602.2 85.5h0M623.2 82.4h0M580.8 97.9h0M547.1 149.6h0M549.4 146h0M545.7 155h0M615.4 79h0M582.8 61h0M621.7 71.8h0M546.6 144.9h0M622.3 72.4h0M589 104.1h0M613.4 78.3h0M604.6 99.8h0M626 78.7h0M609.4 91.1h0M536.8 143.1h0M543 155.3h0M599.4 93.7h0M625.8 86.4h0M543.7 155.6h0M557.3 132.9h0M595.8 87.4h0M604.8 85h0M607.2 79.2h0M588.6 100.4h0M561.4 153.8h0M535.1 148.2h0M602.1 87.1h0M551.6 152.6h0M537.2 164.2h0M547.3 149h0M584.1 73.4h0M543.4 132.9h0M602 58.5h0M557.8 133.5h0M581.3 97.2h0M542.7 153.8h0M589.7 101.4h0M520.6 199.9h0M537.7 169.7h0M551.4 136h0M603.6 86.3h0M584 99.7h0M529.5 184.2h0M545.7 136.8h0M595.3 103.3h0M630.5 75.5h0M542.7 135.8h0M550.1 131.1h0M595.1 93.8h0M610.3 95.8h0M627.8 74.1h0M590.8 102.7h0M604.2 75.7h0M596.8 81.3h0M615.9 84.2h0M606.7 76.8h0M538.3 150.1h0M641 67.7h0M545.7 152.2h0M605.2 91.5h0M619.6 75.2h0M559.4 137h0M604.5 85.3h0M580 93.8h0M586.7 100.9h0M541.9 149.4h0M557.3 146.4h0M509.5 167.8h0M546.7 160.7h0M609 89.5h0M550.2 156.5h0M633.5 66.2h0M592.8 87.9h0M606 94.5h0M607.7 98.5h0M622.5 68.7h0M546.4 139.4h0M595.6 70.2h0M604.9 75.9h0M632.9 69.4h0M555.1 140.8h0M541.4 145.4h0M585.3 133.2h0M611.1 86.2h0M632.7 77.4h0M612.7 90.4h0M545.6 164h0M528.1 187.9h0M548.1 144.5h0M541.9 150.7h0M590.1 90.8h0M612.1 92.4h0M599 96h0M547.9 153.9h0M582.1 63.4h0M543 136.4h0M601.7 85.6h0M543.2 152.4h0M554.4 147h0M590.7 92.2h0M636.3 84.6h0M593.7 87.2h0M608.4 75h0M551.8 140.9h0M633.1 67.5h0M597.2 92.1h0M539.2 166.6h0M609.7 99.5h0M608.7 81.9h0M552.5 128.6h0M626.9 101.9h0M613.7 76.9h0M620.6 89.1h0M625.1 66h0M549.6 139.6h0M534 156.2h0M617.1 97.2h0M589.1 95.2h0M597.2 84.8h0M550.2 137.5h0M607.6 90.8h0M612.6 81h0M598.6 84.8h0M595 88h0M537.8 181.3h0M618.1 88.8h0M552.7 127.9h0M628.9 69.5h0M633.4 80.7h0M612.6 83.8h0M600.9 84.2h0M622.8 88h0M561.7 144.2h0M608.7 89.9h0M545.7 134.8h0M597.7 98.4h0M624.8 90h0M556.6 141.1h0M602 78.2h0M595.9 93.1h0M541.6 139.5h0M590.1 88.7h0M534.4 147.8h0M555 141.2h0M547.3 138.4h0M560.5 152.8h0M533.6 157.2h0M616.7 103.1h0M616.2 93.3h0M545.1 149.5h0M547.9 157.1h0M603.8 94.2h0M596.1 100.2h0M597.6 88.7h0M550.2 152.1h0M604.3 98.4h0M630.2 67.9h0M604.2 101.5h0M604.3 85.6h0M589.1 90.5h0M545.9 132.8h0M553.8 154.1h0M613.7 75.4h0M586.3 96.7h0M547.5 137.9h0M537.6 153h0M607.9 89.6h0M599.9 89.8h0M532.5 150.5h0M600.2 84h0M602.6 84.4h0M520.1 198.3h0M629.6 68h0M592 89.8h0M606 95.5h0M616.5 82.2h0M630.9 65.6h0M619.5 75.6h0M544.2 148.2h0M539 149.6h0M610.2 91.8h0M594.8 75.3h0M537.9 152.9h0M586.3 102.3h0M556.7 150.3h0M610.3 74.6h0M554.8 126.5h0M600.4 93.7h0M610.2 77.7h0M609.8 83.2h0M532.9 176.4h0M585.3 97.7h0M606.3 96h0M581 83.9h0M621.2 79.9h0M610.7 93h0M553.7 131.8h0M591 141.8h0M548.7 126.6h0M544.5 141h0M553.7 147.9h0M532.8 165.7h0M560.3 136.8h0M624.5 70.8h0M580.4 100.9h0M549.1 154.2h0M655.2 48.8h0M559.3 141h0M557.8 141.4h0M587.1 101.7h0M535.5 151.6h0M547.1 143.8h0M593.2 85h0M621.7 82.7h0M540.6 140.3h0M648.4 50.9h0M612.8 73h0M611.2 92.6h0M591.9 102.8h0M623.2 93.3h0M553.8 129h0M543 147h0M539.1 149.3h0M559 154.8h0M548.2 150h0M556.2 147.1h0M549.5 150.9h0M560.2 126.4h0M606.1 101.1h0M636.3 76h0M558.1 137.4h0M594 80.9h0M544.8 152h0M631.1 48.4h0M553.2 160.2h0M611.2 94.5h0M594.7 97.5h0M616.9 82.8h0M519.1 189.6h0M582.6 93.7h0M616.9 97.1h0M539.4 150h0M537.8 144.2h0M609.3 93.8h0M597.8 84h0M550.3 159.1h0M592.5 89.4h0M632.6 73.2h0M595.7 77.6h0M550.2 149.1h0M601.2 85.3h0M597.3 93.2h0M627.2 78.7h0M625.4 86.4h0M540.3 155.1h0M598.1 89.1h0M540.5 143.8h0M598 101.1h0M545.9 141.8h0M545.8 132.9h0M603.1 78.3h0M609.1 90.9h0M621.7 92.6h0M590.2 62.4h0M593.8 94.5h0M510.4 175.7h0M615.6 64.6h0M581.6 98.7h0M533.8 153.5h0M579.7 100.1h0M629.4 62.4h0M624.4 72.8h0M587.7 99.7h0M598.2 93.4h0M611.5 87h0M610.1 79.7h0M631.7 69.4h0M620.7 79.5h0M610.2 92h0M623.4 70h0M551.4 130.7h0M598.5 101.1h0M553.6 147.7h0M547.5 149.2h0M614.4 88.9h0M593 89.3h0M546.5 126.6h0M585.6 94.7h0M558.4 130h0M624.2 78.6h0M539.2 162.8h0M579.7 88.8h0M546.4 127.6h0M586.1 83.7h0M555 137.9h0M610.3 98.1h0M605.9 81.6h0M601 85.7h0M585.3 99h0M587.3 95.7h0M616.3 79.9h0M596.8 45.1h0M614.5 72.4h0M597.5 83.7h0M548 152.5h0M537 141.9h0M557.2 138.9h0M609 97.9h0M551.1 134.1h0M523.6 171h0M596.5 78.7h0M600 99.4h0M556.9 143h0M600 87.7h0M615.8 70.7h0M601.6 93.3h0M612.1 89.3h0M601.5 102h0M603.1 81.8h0M538.3 155.1h0M602.3 81.5h0M615.7 84.6h0M611.4 89.1h0M537.8 151.4h0M556 129.2h0M590.6 92.9h0M532.9 152.5h0M551.6 132.9h0M624 84.3h0M546.7 138.3h0M536.5 158.5h0M595.1 83.3h0M601.4 100.1h0M637 64.1h0M542.8 134.9h0M559.8 139.9h0M555.7 143.2h0M550.4 148h0M552.8 148.3h0M602.6 90.8h0M614.6 71.1h0M596.8 85.4h0M617.7 95.4h0M608.1 79.2h0M587.2 101.4h0M621.7 81.7h0M599.1 95.2h0M549 123.9h0M522.7 131.4h0M550.1 137.9h0M555.9 145.1h0M608.5 81.8h0M552.5 135.2h0M607.8 99h0M553.8 153.7h0M592.3 94h0M547.9 139h0M590 89.4h0M606.3 101h0M557.9 159.9h0M626.8 72h0M584.9 93.2h0M543.5 159.1h0M539.9 136.5h0M543.4 158h0M553.8 139.6h0M580 96.1h0M629.8 75.6h0M620.8 79.5h0M543.7 151h0M592.3 103.1h0M589.4 99h0M558.7 147.9h0M538.1 142.7h0M611.3 92.4h0M557.8 130.8h0M545 143.3h0M616.5 97.5h0M600.8 80.4h0M558.8 152.5h0M595.8 84.7h0M597.3 88.8h0M582.6 91.6h0M629.8 14.4h0M620.6 80.5h0M603.1 89.5h0M537.6 136.5h0M551.4 135.3h0M615.4 86.9h0M609.1 80.4h0M605.9 78.7h0M611.2 95.7h0M603.6 88.6h0M613 36.1h0M540.7 163.2h0M611 83.1h0M646.1 33.2h0M614 74.4h0M547.5 137.2h0M624.2 76.1h0M533.8 161.2h0M586.5 96.5h0M625.6 82.7h0M610.2 77.5h0M605 71.3h0M654.3 89.3h0M541.5 142.9h0M611.7 76.2h0M542.3 144h0M539.6 149.4h0M603.4 88.5h0M603.5 80.8h0M607.3 77.6h0M615.9 80.2h0M623.6 85.1h0M601.9 86.5h0M594 97.7h0M626.7 52h0M590.5 97.1h0M624.3 94.1h0M614 87.3h0M540.1 136.3h0M583.7 79.7h0M635.3 74.9h0M549.4 133.9h0M545.5 157.9h0M584.3 99.2h0M627.3 82.9h0M559.3 164.7h0M606.2 97.3h0M620.4 81.7h0M551.9 154.2h0M594.6 103.2h0M538.8 153.9h0M618.9 57.6h0M623.5 72.9h0M614.7 76.4h0M594 97.8h0M603.6 80h0M546.1 143.3h0M547.6 152.3h0M623.7 82.2h0M608 82.2h0M543.1 153.8h0M556.6 143.3h0M554.8 149.8h0M592.8 86.8h0M546 156h0M555.7 132.8h0M626.8 70.9h0M639.4 66.3h0M539.8 152.5h0M595.9 123.8h0M587.6 85.3h0M600.7 78.7h0M580.9 94.7h0M629.4 81.5h0M556.8 141.9h0M544.3 155.9h0M617 73.7h0M609.6 67.3h0M624.7 63.8h0M619.1 69.4h0M596.1 96.2h0M613.9 78.8h0M608.4 92.1h0M552.1 156h0M625.5 77h0M548.8 146.1h0M603.7 89.6h0M504.6 148.1h0M589.4 102.9h0M643.4 30.2h0M619.3 84.5h0M552.4 150.4h0M545.2 126.7h0M538.9 132.5h0M550.6 152.2h0M496.8 187.9h0M553.2 139.1h0M543 150.6h0M519.7 155.1h0M556.9 135.4h0M641.8 78.8h0M605.6 96.7h0M596.5 103.9h0M560.4 125.6h0M602.1 86.1h0M615.3 86.9h0M620.2 84.2h0M601.5 90.1h0M611.5 73.4h0M607.9 88h0M548.6 171h0M586.4 90.6h0M590.4 91.2h0M591.7 101.1h0M614.1 69.8h0M606.3 98.4h0M548.4 156.8h0M557.1 141h0M601.5 90.3h0M593.4 64.5h0M550.9 144h0M539.7 142.2h0M610 82.3h0M554.1 128h0M546.4 138.4h0M549.9 130.7h0M556.4 125h0M547.6 153.9h0M598.3 96h0M542.7 125h0M542.6 156.5h0M544.4 159.2h0M559.1 130h0M542.4 156.2h0M606 79.7h0M636.2 71h0M556.1 124.8h0M649.8 45.8h0M588.1 86.6h0M554.6 149.5h0M540.1 173.2h0M609.5 84.7h0M559.4 144.1h0M598.8 83.3h0M617 88.1h0M593.8 95.4h0M601.9 90h0M590.4 98.9h0M603.3 90.8h0M540.2 162.7h0M558.5 150h0M560.9 140.3h0M629 71.9h0M592.1 82.2h0M534.4 148.4h0M609 83.2h0M598.5 88.7h0M557 141.4h0M591.2 92.6h0M604.8 64.6h0M609.6 84.3h0M594.2 102.3h0M612.4 76.3h0M607.6 80.5h0M596.8 94.6h0M588.7 102.2h0M540.7 149.9h0M550.4 146.9h0M543.8 142.7h0M623.3 81.9h0M554.3 128.5h0M598.4 99.4h0M549.8 138.9h0M616.4 85.5h0M594.2 97.7h0M536.2 151.9h0M612.8 96h0M587.6 95.9h0M544.1 129h0M557.4 139.7h0M628.5 41h0M541.4 146h0M502.1 202.9h0M614.1 77.7h0M636.9 76.2h0M592 84.6h0M544.3 140.2h0M538.7 148.1h0M630.2 69.7h0M542.9 145.8h0M630 72.1h0M606.7 99.2h0M552.4 155.5h0M580.5 96.4h0M613.5 83.5h0M602.6 87.6h0M582 102.1h0M601.7 89.6h0M605.2 87.7h0M532 149.4h0M600 84.4h0M609 86.2h0M591 95.2h0M553.3 143.6h0M613.6 99.3h0M581.8 103.1h0M591.5 88.7h0M553.5 137.5h0M537.9 148.5h0M610.6 75.4h0M593.6 133.8h0M612.1 82.4h0M556.2 127.4h0M625 94.8h0M653.1 47.8h0M596.4 100.7h0M543.2 177.5h0M554.7 138.6h0M583.4 87.6h0M560.6 157.5h0M633.7 39.1h0M611.9 85.6h0M549.6 135.6h0M542.4 161h0M606.4 75.7h0M620.5 78.9h0M514.6 188.7h0M557.4 144.2h0M594.9 58.4h0M547.2 155.8h0M611.7 96.1h0M552.7 144.6h0M607.6 90.6h0M555.3 144.7h0M624.5 79h0M536.2 152.6h0M597.2 53.6h0M549.8 154.6h0M599.9 94.8h0M616.9 84.2h0M617.6 86.1h0M542.5 154.5h0M595.4 86.2h0M616.5 82.9h0M593.1 97.8h0M611.6 87.2h0M625.6 87.4h0M606.8 72.3h0M623.1 78.3h0M548.3 136.9h0M632.9 76.5h0M547.4 130.5h0M542.9 152.8h0M604.5 81h0M544.2 139.1h0M560.5 137h0M558.1 130.7h0M551.9 144.5h0M594.2 84.4h0M552.4 143.5h0M589.5 83.1h0M615.7 88.5h0M607.1 96h0M546.7 130.3h0M619.2 86.1h0M557.3 148.8h0M545.2 141h0M539.1 148.6h0M587.5 92.9h0M536.8 148.6h0M547.4 134.3h0M547.6 131.4h0M544.2 156.3h0M600.6 97.8h0M544.2 155.5h0M556.3 143.3h0M558.4 131.1h0M550.9 136.2h0M605.8 92.9h0M610.6 88.6h0M617.5 84.4h0M547.7 136.9h0M539.7 143.9h0M605.8 74.7h0M532.3 144.9h0M545.4 132.2h0M533.1 148.6h0M612.7 102.9h0M600 54.5h0M618.9 86.6h0M550.6 134.1h0M590.7 101.9h0M545.2 147.3h0M661.6 67.5h0M545.3 132.8h0M618.5 82.9h0M592.7 87.7h0M550.1 142.1h0M537.9 146.3h0M599.4 92.5h0M556.9 130.6h0M610.5 91h0M553.3 149.1h0M611.9 71.3h0M612.6 74.4h0M585.7 86.7h0M549.1 131.4h0M558 131.6h0M611 81h0M613.9 92h0M591 96.4h0M617.2 75.8h0M543.3 135.9h0M511.5 208.6h0M555.5 133.9h0M556.3 147.3h0M537.8 151.2h0M540 141h0M614.7 79.8h0M545.6 129.8h0M589.9 100.1h0M602.8 86.5h0M550.2 136h0M538.1 144.6h0M556.1 153.6h0M548.5 160.8h0M582.7 93.5h0M537.8 140.4h0M613.5 93.8h0M582.5 100.4h0M616.7 82.4h0M589.9 97.6h0M546.2 164.3h0M557.1 125.6h0M534.6 157.6h0M603.5 100.1h0M589.8 92h0M612 68.9h0M596.8 89.8h0M610.7 79.6h0M601.7 74h0M547.6 125.6h0M583.7 90.3h0M618 82.2h0M588.3 86.9h0M616.2 101.8h0M544.2 154.9h0M590.3 89h0M589.9 148.1h0M622 71.8h0M607.1 93.9h0M542.5 133h0M607.2 75.3h0M635.9 65.5h0M612.1 80.8h0M543.9 144.3h0M594.2 96.1h0M627.5 77.7h0M544.2 143.8h0M553.1 132.1h0M609.5 71.8h0M615.9 82h0M599.5 80.2h0M617.3 77.9h0M609.4 95.4h0M617.6 93.7h0M558.2 131.7h0M541.9 159h0M553 135.7h0M599.2 85.6h0M520.5 181.8h0M621.7 76.5h0M547.3 145.9h0M559.8 139.3h0M594.8 87.4h0M549.2 143.4h0M590.1 97h0M609.3 40.1h0M623.7 65.5h0M550.4 147.2h0M612.7 100.1h0M544.5 143.1h0M602.8 77.3h0M611.1 80.4h0M551.3 157.6h0M551.4 152.1h0M579.1 97.4h0M539.3 160.4h0M584.2 92.6h0M544.5 138.8h0M555 130.5h0M600.5 84.8h0M542.6 152.3h0M601 101.3h0M608.1 83.8h0M613.6 74.2h0M545.9 132.9h0M548 164h0M597.1 90.1h0M620.9 56.8h0M609.8 78.6h0M548.6 143h0M655.4 71.9h0M589.1 90.2h0M558 141.4h0M528.2 187.2h0M616.6 78.2h0M585.2 99.1h0M555.8 129.6h0M602.5 87h0M595.8 92.3h0M544.4 151.4h0M555.6 145.4h0M584.9 99.1h0M597 88h0M553.8 132.3h0M552.6 139.9h0M555.4 149.1h0M558.2 124.5h0M629 60.4h0M627.7 80.8h0M606.7 91.9h0M540.3 148.4h0M618.5 87h0M560.6 175.9h0M542.6 137h0M544.7 150.6h0M542.2 156h0M539.6 163.7h0M580.2 98.9h0M551.2 141.2h0M618 84.8h0M544.1 161.5h0M550.9 150.6h0M543.1 142.8h0M605.1 75.7h0M545.9 130.2h0M539.5 124h0M552.9 156.5h0M552.6 137h0M555.3 131.3h0M615.4 90.4h0M548.7 126.9h0M590.1 89.5h0M548.3 124h0M640.8 67.6h0M611.8 100.7h0M545.2 147.9h0M514.4 176.3h0M591.6 88.2h0M594.7 102.6h0M528.5 176.2h0M553.4 124.3h0M559.7 132.7h0M641.7 83.4h0M593.9 94.2h0M555 128.8h0M587.9 90.2h0M559.1 139.7h0M594.3 95.2h0M608.4 97.6h0M620.9 78h0M594.3 100.6h0M599.7 97.3h0M606.2 101.1h0M609.7 83.8h0M612.2 82.8h0M585.6 97h0M608.9 87.7h0M545.4 142h0M545.9 132.6h0M599.1 98.2h0M551 146.7h0M618.7 76.6h0M554.5 136.1h0M595.2 95.7h0M600.5 79.5h0M613.8 85.3h0M491.7 185.5h0M543 145.6h0M536.2 150.2h0M557.7 127.9h0M619.9 31.9h0M546.7 153h0M545.9 131.1h0M559.3 142.4h0M587.5 88.8h0M527.9 176.2h0M551.4 149.3h0M550.7 137.3h0M541.2 137.6h0M595.4 88.8h0M581.4 98.4h0M560 142.4h0M541.2 147.6h0" stroke="#E2302C" stroke-width="3.2" stroke-linecap="round" fill="none"/>
</g>
<path d="M561.4 3.3V227.5M579.4 3.3V227.5M455.5 104.6H681.5M455.5 122.6H681.5" stroke="#111" stroke-width="1.4" stroke-dasharray="2.1 6.1" fill="none"/>
<path d="M570.4 3.3V227.5M455.5 113.6H681.5" stroke="#111" stroke-width="1.3" fill="none"/>
<path d="M681.5 3.3L455.5 227.5" stroke="#111" stroke-width="1.3" fill="none"/>
<path d="M455.5 227.5V3.3H681.5V227.5" fill="none" stroke="#333" stroke-width="1.2"/>
<path d="M455.5 227.5H681.5" fill="none" stroke="#999" stroke-width="1.2"/>
<text x="480.4" y="244" font-family="Liberation Sans, sans-serif" font-size="15" fill="#1a1a1a" text-anchor="middle">-10</text>
<text x="451.5" y="208.9" font-family="Liberation Sans, sans-serif" font-size="15" fill="#4d4d4d" text-anchor="end">-10</text>
<text x="525.4" y="244" font-family="Liberation Sans, sans-serif" font-size="15" fill="#1a1a1a" text-anchor="middle">-5</text>
<text x="451.5" y="163.9" font-family="Liberation Sans, sans-serif" font-size="15" fill="#4d4d4d" text-anchor="end">-5</text>
<text x="570.4" y="244" font-family="Liberation Sans, sans-serif" font-size="15" fill="#1a1a1a" text-anchor="middle">0</text>
<text x="451.5" y="118.9" font-family="Liberation Sans, sans-serif" font-size="15" fill="#4d4d4d" text-anchor="end">0</text>
<text x="615.4" y="244" font-family="Liberation Sans, sans-serif" font-size="15" fill="#1a1a1a" text-anchor="middle">5</text>
<text x="451.5" y="73.9" font-family="Liberation Sans, sans-serif" font-size="15" fill="#4d4d4d" text-anchor="end">5</text>
<text x="660.4" y="244" font-family="Liberation Sans, sans-serif" font-size="15" fill="#1a1a1a" text-anchor="middle">10</text>
<text x="451.5" y="28.9" font-family="Liberation Sans, sans-serif" font-size="15" fill="#4d4d4d" text-anchor="end">10</text>
<path d="M480.4 227.5v2.5M455.5 203.6h-2.5M525.4 227.5v2.5M455.5 158.6h-2.5M570.4 227.5v2.5M455.5 113.6h-2.5M615.4 227.5v2.5M455.5 68.6h-2.5M660.4 227.5v2.5M455.5 23.6h-2.5" stroke="#333" stroke-width="1"/>
<text x="464.5" y="20" font-family="Liberation Sans, sans-serif" font-size="11.5" fill="#111"><tspan font-style="italic">R</tspan><tspan> = 0.73</tspan></text>
<text x="464.5" y="31.5" font-family="Liberation Sans, sans-serif" font-size="11.5" fill="#111"><tspan font-style="italic">p</tspan><tspan> &lt; 2.2x10</tspan><tspan dy="-3.4" font-size="7.5">-16</tspan></text>
<text x="381.6" y="15.6" font-family="Liberation Sans, sans-serif" font-size="15.5" fill="#000" font-weight="bold">b</text>
<text x="0" y="0" font-family="Liberation Sans, sans-serif" font-size="15" fill="#000" text-anchor="middle" transform="translate(406.6 121) rotate(-90)"><tspan>Log2 FC [</tspan><tspan font-style="italic">Casp8</tspan><tspan dy="-4.5" font-size="9.3" font-style="italic">1xDA/1xDA</tspan></text>
<text x="0" y="0" font-family="Liberation Sans, sans-serif" font-size="15" fill="#000" text-anchor="middle" transform="translate(424.6 122.4) rotate(-90)"><tspan font-style="italic">Cflar</tspan><tspan dy="-4.5" font-size="9.3" font-style="italic">-/-</tspan><tspan dy="4.5" font-style="italic"> Mlkl</tspan><tspan dy="-4.5" font-size="9.3" font-style="italic">-/-</tspan><tspan dy="4.5"> vs. </tspan><tspan font-style="italic">Mlkl</tspan><tspan dy="-4.5" font-size="9.3" font-style="italic">-/-</tspan><tspan dy="4.5">]</tspan></text>
<text x="568" y="264" font-family="Liberation Sans, sans-serif" font-size="15" fill="#000" text-anchor="middle"><tspan>Log2 FC [</tspan><tspan font-style="italic">Casp8</tspan><tspan dy="-4.5" font-size="9.3" font-style="italic">C362A/C362A</tspan><tspan dy="4.5" font-style="italic"> Mlkl</tspan><tspan dy="-4.5" font-size="9.3" font-style="italic">-/-</tspan></text>
<text x="568" y="280.5" font-family="Liberation Sans, sans-serif" font-size="15" fill="#000" text-anchor="middle"><tspan>vs. </tspan><tspan font-style="italic">Mlkl</tspan><tspan dy="-4.5" font-size="9.3" font-style="italic">-/-</tspan><tspan dy="4.5">]</tspan></text>
<text x="0.7" y="330" font-family="Liberation Sans, sans-serif" font-size="15.5" fill="#000" font-weight="bold">c</text>
<text x="53.8" y="334.5" font-family="Liberation Sans, sans-serif" font-size="14.5" fill="#111"><tspan font-style="italic">Mlkl</tspan><tspan dy="-4.3" font-size="9.5" font-style="italic">-/-</tspan></text>
<text x="53.8" y="352.7" font-family="Liberation Sans, sans-serif" font-size="14.5" fill="#E53A2E"><tspan font-style="italic">Casp8</tspan><tspan dy="-4.3" font-size="9.5" font-style="italic">1xDA/1xDA</tspan><tspan dy="4.3" font-style="italic"> Cflar</tspan><tspan dy="-4.3" font-size="9.5" font-style="italic">-/-</tspan><tspan dy="4.3" font-style="italic"> Mlkl</tspan><tspan dy="-4.3" font-size="9.5" font-style="italic">-/-</tspan></text>
<text x="53.8" y="370.9" font-family="Liberation Sans, sans-serif" font-size="14.5" fill="#3E7DC0"><tspan font-style="italic">Casp8</tspan><tspan dy="-4.3" font-size="9.5" font-style="italic">1xDA/1xDA</tspan><tspan dy="4.3" font-style="italic"> Cflar</tspan><tspan dy="-4.3" font-size="9.5" font-style="italic">-/-</tspan><tspan dy="4.3" font-style="italic"> Mlkl</tspan><tspan dy="-4.3" font-size="9.5" font-style="italic">-/-</tspan><tspan dy="4.3" font-style="italic"> Casp1</tspan><tspan dy="-4.3" font-size="9.5" font-style="italic">-/-</tspan></text>
<text x="53.8" y="389" font-family="Liberation Sans, sans-serif" font-size="14.5" fill="#A981CB"><tspan font-style="italic">Casp8</tspan><tspan dy="-4.3" font-size="9.5" font-style="italic">1xDA/1xDA</tspan><tspan dy="4.3" font-style="italic"> Cflar</tspan><tspan dy="-4.3" font-size="9.5" font-style="italic">-/-</tspan><tspan dy="4.3" font-style="italic"> Mlkl</tspan><tspan dy="-4.3" font-size="9.5" font-style="italic">-/-</tspan><tspan dy="4.3" font-style="italic"> Casp1</tspan><tspan dy="-4.3" font-size="9.5" font-style="italic">-/-</tspan><tspan dy="4.3" font-style="italic"> Ifnar1</tspan><tspan dy="-4.3" font-size="9.5" font-style="italic">-/-</tspan></text>
<text x="414.6" y="334.5" font-family="Liberation Sans, sans-serif" font-size="14.5" fill="#111"><tspan font-style="italic">Mlkl</tspan><tspan dy="-4.3" font-size="9.5" font-style="italic">-/-</tspan></text>
<text x="414.6" y="352.7" font-family="Liberation Sans, sans-serif" font-size="14.5" fill="#8E5527"><tspan font-style="italic">Casp8</tspan><tspan dy="-4.3" font-size="9.5" font-style="italic">C362A/C362A</tspan><tspan dy="4.3" font-style="italic"> Mlkl</tspan><tspan dy="-4.3" font-size="9.5" font-style="italic">-/-</tspan></text>
<text x="414.6" y="370.9" font-family="Liberation Sans, sans-serif" font-size="14.5" fill="#EC8F33"><tspan font-style="italic">Casp8</tspan><tspan dy="-4.3" font-size="9.5" font-style="italic">C362A/C362A</tspan><tspan dy="4.3" font-style="italic">  Mlkl</tspan><tspan dy="-4.3" font-size="9.5" font-style="italic">-/-</tspan><tspan dy="4.3" font-style="italic"> Casp1</tspan><tspan dy="-4.3" font-size="9.5" font-style="italic">-/-</tspan></text>
<text x="43" y="554.2" font-family="Liberation Sans, sans-serif" font-size="14.5" fill="#000" text-anchor="end">0</text>
<text x="43" y="526.4" font-family="Liberation Sans, sans-serif" font-size="14.5" fill="#000" text-anchor="end">30</text>
<text x="43" y="498.7" font-family="Liberation Sans, sans-serif" font-size="14.5" fill="#000" text-anchor="end">60</text>
<text x="43" y="470.9" font-family="Liberation Sans, sans-serif" font-size="14.5" fill="#000" text-anchor="end">90</text>
<text x="43" y="443.2" font-family="Liberation Sans, sans-serif" font-size="14.5" fill="#000" text-anchor="end">120</text>
<text x="43" y="415.4" font-family="Liberation Sans, sans-serif" font-size="14.5" fill="#000" text-anchor="end">150</text>
<rect x="58.7" y="548.6" width="6.2" height="0.4" fill="#fff" stroke="#000" stroke-width="1.5"/>
<rect x="71" y="521.2" width="6.2" height="27.8" fill="#E43A2C" stroke="#000" stroke-width="1.5"/>
<rect x="83.2" y="547.6" width="6.2" height="1.4" fill="#3F7FC1" stroke="#000" stroke-width="1.5"/>
<rect x="95.4" y="547.9" width="6.2" height="1.1" fill="#A77FCB" stroke="#000" stroke-width="1.5"/>
<rect x="115" y="548.6" width="6.2" height="0.4" fill="#fff" stroke="#000" stroke-width="1.5"/>
<rect x="127.3" y="524.3" width="6.2" height="24.7" fill="#E43A2C" stroke="#000" stroke-width="1.5"/>
<rect x="139.5" y="546.7" width="6.2" height="2.3" fill="#3F7FC1" stroke="#000" stroke-width="1.5"/>
<rect x="151.7" y="545.3" width="6.2" height="3.7" fill="#A77FCB" stroke="#000" stroke-width="1.5"/>
<rect x="171.3" y="548.5" width="6.2" height="0.5" fill="#fff" stroke="#000" stroke-width="1.5"/>
<rect x="183.6" y="475" width="6.2" height="74" fill="#E43A2C" stroke="#000" stroke-width="1.5"/>
<rect x="195.8" y="484.7" width="6.2" height="64.3" fill="#3F7FC1" stroke="#000" stroke-width="1.5"/>
<rect x="208" y="454.2" width="6.2" height="94.8" fill="#A77FCB" stroke="#000" stroke-width="1.5"/>
<rect x="227.6" y="548.4" width="6.2" height="0.6" fill="#fff" stroke="#000" stroke-width="1.5"/>
<rect x="239.9" y="543.7" width="6.2" height="5.3" fill="#E43A2C" stroke="#000" stroke-width="1.5"/>
<rect x="252.1" y="524.7" width="6.2" height="24.3" fill="#3F7FC1" stroke="#000" stroke-width="1.5"/>
<rect x="264.3" y="496.6" width="6.2" height="52.4" fill="#A77FCB" stroke="#000" stroke-width="1.5"/>
<rect x="283.8" y="547.1" width="6.2" height="1.9" fill="#fff" stroke="#000" stroke-width="1.5"/>
<rect x="296.1" y="501.5" width="6.2" height="47.5" fill="#E43A2C" stroke="#000" stroke-width="1.5"/>
<rect x="308.3" y="521.4" width="6.2" height="27.6" fill="#3F7FC1" stroke="#000" stroke-width="1.5"/>
<rect x="320.5" y="465.5" width="6.2" height="83.5" fill="#A77FCB" stroke="#000" stroke-width="1.5"/>
<path d="M54.5 410.2V549H331.6M47.0 549H54.5M47.0 521.2H54.5M47.0 493.5H54.5M47.0 465.7H54.5M47.0 438H54.5M47.0 410.2H54.5M80.1 549v7.5M136.4 549v7.5M192.7 549v7.5M249 549v7.5M305.2 549v7.5" stroke="#000" stroke-width="1.6" fill="none"/>
<circle cx="59.3" cy="548.5" r="1.75" fill="#3a3a3a" stroke="#000" stroke-width="1.4"/>
<circle cx="61.8" cy="548.7" r="1.75" fill="#3a3a3a" stroke="#000" stroke-width="1.4"/>
<circle cx="64.3" cy="548.5" r="1.75" fill="#3a3a3a" stroke="#000" stroke-width="1.4"/>
<circle cx="74.1" cy="514" r="1.75" fill="#3a3a3a" stroke="#000" stroke-width="1.4"/>
<circle cx="74.1" cy="517.4" r="1.75" fill="#3a3a3a" stroke="#000" stroke-width="1.4"/>
<circle cx="74.1" cy="531.5" r="1.75" fill="#3a3a3a" stroke="#000" stroke-width="1.4"/>
<circle cx="83.8" cy="548.1" r="1.75" fill="#3a3a3a" stroke="#000" stroke-width="1.4"/>
<circle cx="86.3" cy="546.7" r="1.75" fill="#3a3a3a" stroke="#000" stroke-width="1.4"/>
<circle cx="88.8" cy="547.6" r="1.75" fill="#3a3a3a" stroke="#000" stroke-width="1.4"/>
<circle cx="96" cy="548.1" r="1.75" fill="#3a3a3a" stroke="#000" stroke-width="1.4"/>
<circle cx="98.5" cy="547.8" r="1.75" fill="#3a3a3a" stroke="#000" stroke-width="1.4"/>
<circle cx="101" cy="547.8" r="1.75" fill="#3a3a3a" stroke="#000" stroke-width="1.4"/>
<circle cx="115.6" cy="548.5" r="1.75" fill="#3a3a3a" stroke="#000" stroke-width="1.4"/>
<circle cx="118.1" cy="548.4" r="1.75" fill="#3a3a3a" stroke="#000" stroke-width="1.4"/>
<circle cx="120.6" cy="548.6" r="1.75" fill="#3a3a3a" stroke="#000" stroke-width="1.4"/>
<circle cx="130.4" cy="514.6" r="1.75" fill="#3a3a3a" stroke="#000" stroke-width="1.4"/>
<circle cx="127.8" cy="528.6" r="1.75" fill="#3a3a3a" stroke="#000" stroke-width="1.4"/>
<circle cx="132.7" cy="527.8" r="1.75" fill="#3a3a3a" stroke="#000" stroke-width="1.4"/>
<circle cx="140.1" cy="547.6" r="1.75" fill="#3a3a3a" stroke="#000" stroke-width="1.4"/>
<circle cx="142.6" cy="545.8" r="1.75" fill="#3a3a3a" stroke="#000" stroke-width="1.4"/>
<circle cx="145.1" cy="547.1" r="1.75" fill="#3a3a3a" stroke="#000" stroke-width="1.4"/>
<circle cx="152" cy="546.2" r="1.75" fill="#3a3a3a" stroke="#000" stroke-width="1.4"/>
<circle cx="154.8" cy="544.4" r="1.75" fill="#3a3a3a" stroke="#000" stroke-width="1.4"/>
<circle cx="157.6" cy="546.2" r="1.75" fill="#3a3a3a" stroke="#000" stroke-width="1.4"/>
<circle cx="171.9" cy="548.5" r="1.75" fill="#3a3a3a" stroke="#000" stroke-width="1.4"/>
<circle cx="174.4" cy="548.3" r="1.75" fill="#3a3a3a" stroke="#000" stroke-width="1.4"/>
<circle cx="176.9" cy="548.4" r="1.75" fill="#3a3a3a" stroke="#000" stroke-width="1.4"/>
<circle cx="186.7" cy="458.6" r="1.75" fill="#3a3a3a" stroke="#000" stroke-width="1.4"/>
<circle cx="186.7" cy="470" r="1.75" fill="#3a3a3a" stroke="#000" stroke-width="1.4"/>
<circle cx="186.7" cy="495.6" r="1.75" fill="#3a3a3a" stroke="#000" stroke-width="1.4"/>
<circle cx="198.9" cy="415.4" r="1.75" fill="#3a3a3a" stroke="#000" stroke-width="1.4"/>
<circle cx="198.9" cy="514" r="1.75" fill="#3a3a3a" stroke="#000" stroke-width="1.4"/>
<circle cx="198.9" cy="522.8" r="1.75" fill="#3a3a3a" stroke="#000" stroke-width="1.4"/>
<circle cx="211.1" cy="434.8" r="1.75" fill="#3a3a3a" stroke="#000" stroke-width="1.4"/>
<circle cx="211.1" cy="458" r="1.75" fill="#3a3a3a" stroke="#000" stroke-width="1.4"/>
<circle cx="211.1" cy="470.4" r="1.75" fill="#3a3a3a" stroke="#000" stroke-width="1.4"/>
<circle cx="228.2" cy="548.5" r="1.75" fill="#3a3a3a" stroke="#000" stroke-width="1.4"/>
<circle cx="230.7" cy="548.1" r="1.75" fill="#3a3a3a" stroke="#000" stroke-width="1.4"/>
<circle cx="233.2" cy="548.3" r="1.75" fill="#3a3a3a" stroke="#000" stroke-width="1.4"/>
<circle cx="243" cy="539.6" r="1.75" fill="#3a3a3a" stroke="#000" stroke-width="1.4"/>
<circle cx="240.2" cy="545" r="1.75" fill="#3a3a3a" stroke="#000" stroke-width="1.4"/>
<circle cx="245.2" cy="542.8" r="1.75" fill="#3a3a3a" stroke="#000" stroke-width="1.4"/>
<circle cx="255.2" cy="494.5" r="1.75" fill="#3a3a3a" stroke="#000" stroke-width="1.4"/>
<circle cx="255.2" cy="535.7" r="1.75" fill="#3a3a3a" stroke="#000" stroke-width="1.4"/>
<circle cx="255.2" cy="540.6" r="1.75" fill="#3a3a3a" stroke="#000" stroke-width="1.4"/>
<circle cx="267.4" cy="487.7" r="1.75" fill="#3a3a3a" stroke="#000" stroke-width="1.4"/>
<circle cx="267.4" cy="496.1" r="1.75" fill="#3a3a3a" stroke="#000" stroke-width="1.4"/>
<circle cx="267.4" cy="504.8" r="1.75" fill="#3a3a3a" stroke="#000" stroke-width="1.4"/>
<circle cx="284.4" cy="547.6" r="1.75" fill="#3a3a3a" stroke="#000" stroke-width="1.4"/>
<circle cx="286.9" cy="546.4" r="1.75" fill="#3a3a3a" stroke="#000" stroke-width="1.4"/>
<circle cx="289.4" cy="547.1" r="1.75" fill="#3a3a3a" stroke="#000" stroke-width="1.4"/>
<circle cx="299.2" cy="489.6" r="1.75" fill="#3a3a3a" stroke="#000" stroke-width="1.4"/>
<circle cx="299.2" cy="499.4" r="1.75" fill="#3a3a3a" stroke="#000" stroke-width="1.4"/>
<circle cx="299.2" cy="514" r="1.75" fill="#3a3a3a" stroke="#000" stroke-width="1.4"/>
<circle cx="311.4" cy="478.6" r="1.75" fill="#3a3a3a" stroke="#000" stroke-width="1.4"/>
<circle cx="308.5" cy="543.3" r="1.75" fill="#3a3a3a" stroke="#000" stroke-width="1.4"/>
<circle cx="313.9" cy="541.7" r="1.75" fill="#3a3a3a" stroke="#000" stroke-width="1.4"/>
<circle cx="323.6" cy="457.9" r="1.75" fill="#3a3a3a" stroke="#000" stroke-width="1.4"/>
<circle cx="321.1" cy="469.8" r="1.75" fill="#3a3a3a" stroke="#000" stroke-width="1.4"/>
<circle cx="326.2" cy="468.5" r="1.75" fill="#3a3a3a" stroke="#000" stroke-width="1.4"/>
<text x="80.1" y="571.8" font-family="Liberation Sans, sans-serif" font-size="14.5" fill="#000" text-anchor="middle" font-style="italic">Cxcl9</text>
<text x="136.4" y="571.8" font-family="Liberation Sans, sans-serif" font-size="14.5" fill="#000" text-anchor="middle" font-style="italic">Il1b</text>
<text x="192.7" y="571.8" font-family="Liberation Sans, sans-serif" font-size="14.5" fill="#000" text-anchor="middle" font-style="italic">Cxcl10</text>
<text x="249" y="571.8" font-family="Liberation Sans, sans-serif" font-size="14.5" fill="#000" text-anchor="middle" font-style="italic">Mx1</text>
<text x="305.2" y="571.8" font-family="Liberation Sans, sans-serif" font-size="14.5" fill="#000" text-anchor="middle" font-style="italic">Zbp1</text>
<text x="0" y="0" font-family="Liberation Sans, sans-serif" font-size="14.5" fill="#000" text-anchor="middle" transform="translate(14.2 482.9) rotate(-90)">nRPKM</text>
<text x="415.7" y="553.3" font-family="Liberation Sans, sans-serif" font-size="14.5" fill="#000" text-anchor="end">0</text>
<text x="415.7" y="507.1" font-family="Liberation Sans, sans-serif" font-size="14.5" fill="#000" text-anchor="end">75</text>
<text x="415.7" y="461" font-family="Liberation Sans, sans-serif" font-size="14.5" fill="#000" text-anchor="end">150</text>
<text x="415.7" y="414.8" font-family="Liberation Sans, sans-serif" font-size="14.5" fill="#000" text-anchor="end">225</text>
<rect x="442.4" y="503.3" width="6.2" height="44.8" fill="#8E5527" stroke="#000" stroke-width="1.5"/>
<rect x="454" y="547.8" width="6.2" height="0.3" fill="#EC9336" stroke="#000" stroke-width="1.5"/>
<rect x="473.2" y="547.8" width="6.2" height="0.3" fill="#fff" stroke="#000" stroke-width="1.5"/>
<rect x="484.6" y="518.8" width="6.2" height="29.3" fill="#8E5527" stroke="#000" stroke-width="1.5"/>
<rect x="496.2" y="547.8" width="6.2" height="0.3" fill="#EC9336" stroke="#000" stroke-width="1.5"/>
<rect x="526.8" y="449" width="6.2" height="99.1" fill="#8E5527" stroke="#000" stroke-width="1.5"/>
<rect x="538.4" y="465" width="6.2" height="83.1" fill="#EC9336" stroke="#000" stroke-width="1.5"/>
<rect x="569" y="477.3" width="6.2" height="70.8" fill="#8E5527" stroke="#000" stroke-width="1.5"/>
<rect x="580.6" y="428.3" width="6.2" height="119.8" fill="#EC9336" stroke="#000" stroke-width="1.5"/>
<rect x="599.8" y="547.2" width="6.2" height="0.9" fill="#fff" stroke="#000" stroke-width="1.5"/>
<rect x="611.2" y="459.6" width="6.2" height="88.5" fill="#8E5527" stroke="#000" stroke-width="1.5"/>
<rect x="622.8" y="460.3" width="6.2" height="87.8" fill="#EC9336" stroke="#000" stroke-width="1.5"/>
<path d="M427.2 409.6V548.1H633.6M419.7 548.1H427.2M419.7 501.9H427.2M419.7 455.8H427.2M419.7 409.6H427.2M445.5 548.1v7.5M487.7 548.1v7.5M529.9 548.1v7.5M572.1 548.1v7.5M614.3 548.1v7.5" stroke="#000" stroke-width="1.6" fill="none"/>
<circle cx="431.6" cy="547.8" r="1.75" fill="#3a3a3a" stroke="#000" stroke-width="1.4"/>
<circle cx="434.1" cy="547.8" r="1.75" fill="#3a3a3a" stroke="#000" stroke-width="1.4"/>
<circle cx="436.6" cy="547.8" r="1.75" fill="#3a3a3a" stroke="#000" stroke-width="1.4"/>
<circle cx="443" cy="504.4" r="1.75" fill="#3a3a3a" stroke="#000" stroke-width="1.4"/>
<circle cx="445.5" cy="503.2" r="1.75" fill="#3a3a3a" stroke="#000" stroke-width="1.4"/>
<circle cx="448" cy="502.9" r="1.75" fill="#3a3a3a" stroke="#000" stroke-width="1.4"/>
<circle cx="454.6" cy="547.7" r="1.75" fill="#3a3a3a" stroke="#000" stroke-width="1.4"/>
<circle cx="457.1" cy="547.8" r="1.75" fill="#3a3a3a" stroke="#000" stroke-width="1.4"/>
<circle cx="459.6" cy="547.7" r="1.75" fill="#3a3a3a" stroke="#000" stroke-width="1.4"/>
<circle cx="473.8" cy="547.8" r="1.75" fill="#3a3a3a" stroke="#000" stroke-width="1.4"/>
<circle cx="476.3" cy="547.2" r="1.75" fill="#3a3a3a" stroke="#000" stroke-width="1.4"/>
<circle cx="478.8" cy="547.5" r="1.75" fill="#3a3a3a" stroke="#000" stroke-width="1.4"/>
<circle cx="485.2" cy="520.4" r="1.75" fill="#3a3a3a" stroke="#000" stroke-width="1.4"/>
<circle cx="487.7" cy="518.6" r="1.75" fill="#3a3a3a" stroke="#000" stroke-width="1.4"/>
<circle cx="490.2" cy="518.6" r="1.75" fill="#3a3a3a" stroke="#000" stroke-width="1.4"/>
<circle cx="496.8" cy="547.7" r="1.75" fill="#3a3a3a" stroke="#000" stroke-width="1.4"/>
<circle cx="499.3" cy="547.8" r="1.75" fill="#3a3a3a" stroke="#000" stroke-width="1.4"/>
<circle cx="501.8" cy="547.7" r="1.75" fill="#3a3a3a" stroke="#000" stroke-width="1.4"/>
<circle cx="516" cy="547.9" r="1.75" fill="#3a3a3a" stroke="#000" stroke-width="1.4"/>
<circle cx="518.5" cy="547.8" r="1.75" fill="#3a3a3a" stroke="#000" stroke-width="1.4"/>
<circle cx="521" cy="547.9" r="1.75" fill="#3a3a3a" stroke="#000" stroke-width="1.4"/>
<circle cx="529.9" cy="429.8" r="1.75" fill="#3a3a3a" stroke="#000" stroke-width="1.4"/>
<circle cx="529.9" cy="450.4" r="1.75" fill="#3a3a3a" stroke="#000" stroke-width="1.4"/>
<circle cx="529.9" cy="466" r="1.75" fill="#3a3a3a" stroke="#000" stroke-width="1.4"/>
<circle cx="541.5" cy="455.3" r="1.75" fill="#3a3a3a" stroke="#000" stroke-width="1.4"/>
<circle cx="541.5" cy="468.5" r="1.75" fill="#3a3a3a" stroke="#000" stroke-width="1.4"/>
<circle cx="541.5" cy="471.9" r="1.75" fill="#3a3a3a" stroke="#000" stroke-width="1.4"/>
<circle cx="558.2" cy="547.9" r="1.75" fill="#3a3a3a" stroke="#000" stroke-width="1.4"/>
<circle cx="560.7" cy="547.8" r="1.75" fill="#3a3a3a" stroke="#000" stroke-width="1.4"/>
<circle cx="563.2" cy="547.9" r="1.75" fill="#3a3a3a" stroke="#000" stroke-width="1.4"/>
<circle cx="572.1" cy="462.8" r="1.75" fill="#3a3a3a" stroke="#000" stroke-width="1.4"/>
<circle cx="572.1" cy="469.6" r="1.75" fill="#3a3a3a" stroke="#000" stroke-width="1.4"/>
<circle cx="572.1" cy="498.3" r="1.75" fill="#3a3a3a" stroke="#000" stroke-width="1.4"/>
<circle cx="583.7" cy="411.7" r="1.75" fill="#3a3a3a" stroke="#000" stroke-width="1.4"/>
<circle cx="583.7" cy="434" r="1.75" fill="#3a3a3a" stroke="#000" stroke-width="1.4"/>
<circle cx="583.7" cy="439.4" r="1.75" fill="#3a3a3a" stroke="#000" stroke-width="1.4"/>
<circle cx="600.4" cy="547.5" r="1.75" fill="#3a3a3a" stroke="#000" stroke-width="1.4"/>
<circle cx="602.9" cy="546.9" r="1.75" fill="#3a3a3a" stroke="#000" stroke-width="1.4"/>
<circle cx="605.4" cy="546.9" r="1.75" fill="#3a3a3a" stroke="#000" stroke-width="1.4"/>
<circle cx="612" cy="458" r="1.75" fill="#3a3a3a" stroke="#000" stroke-width="1.4"/>
<circle cx="616.5" cy="459.6" r="1.75" fill="#3a3a3a" stroke="#000" stroke-width="1.4"/>
<circle cx="614.3" cy="463.8" r="1.75" fill="#3a3a3a" stroke="#000" stroke-width="1.4"/>
<circle cx="625.9" cy="445.1" r="1.75" fill="#3a3a3a" stroke="#000" stroke-width="1.4"/>
<circle cx="625.9" cy="455.7" r="1.75" fill="#3a3a3a" stroke="#000" stroke-width="1.4"/>
<circle cx="625.9" cy="478.7" r="1.75" fill="#3a3a3a" stroke="#000" stroke-width="1.4"/>
<text x="445.5" y="571.8" font-family="Liberation Sans, sans-serif" font-size="14.5" fill="#000" text-anchor="middle" font-style="italic">Cxcl9</text>
<text x="487.7" y="571.8" font-family="Liberation Sans, sans-serif" font-size="14.5" fill="#000" text-anchor="middle" font-style="italic">Il1b</text>
<text x="529.9" y="571.8" font-family="Liberation Sans, sans-serif" font-size="14.5" fill="#000" text-anchor="middle" font-style="italic">Cxcl10</text>
<text x="572.1" y="571.8" font-family="Liberation Sans, sans-serif" font-size="14.5" fill="#000" text-anchor="middle" font-style="italic">Mx1</text>
<text x="614.3" y="571.8" font-family="Liberation Sans, sans-serif" font-size="14.5" fill="#000" text-anchor="middle" font-style="italic">Zbp1</text>
<text x="0" y="0" font-family="Liberation Sans, sans-serif" font-size="14.5" fill="#000" text-anchor="middle" transform="translate(385.6 482.5) rotate(-90)">nRPKM</text>
<text x="1" y="621" font-family="Liberation Sans, sans-serif" font-size="15.5" fill="#000" font-weight="bold">d</text>
<text x="95.7" y="628.4" font-family="Liberation Sans, sans-serif" font-size="14.5" fill="#111" text-anchor="middle"><tspan font-style="italic">Mlkl</tspan><tspan dy="-4.3" font-size="9.5" font-style="italic">-/-</tspan></text>
<text x="241" y="628.4" font-family="Liberation Sans, sans-serif" font-size="14.5" fill="#111" text-anchor="middle"><tspan font-style="italic">Casp8</tspan><tspan dy="-4.3" font-size="9.5" font-style="italic">1xDA/1xDA</tspan><tspan dy="4.3" font-style="italic"> Cflar</tspan><tspan dy="-4.3" font-size="9.5" font-style="italic">-/-</tspan></text>
<text x="241" y="644.7" font-family="Liberation Sans, sans-serif" font-size="14.5" fill="#111" text-anchor="middle"><tspan font-style="italic">Mlkl</tspan><tspan dy="-4.3" font-size="9.5" font-style="italic">-/-</tspan></text>
<text x="385.2" y="628.4" font-family="Liberation Sans, sans-serif" font-size="14.5" fill="#111" text-anchor="middle"><tspan font-style="italic">Mlkl</tspan><tspan dy="-4.3" font-size="9.5" font-style="italic">-/-</tspan><tspan dy="4.3" font-style="italic"> Casp1</tspan><tspan dy="-4.3" font-size="9.5" font-style="italic">-/-</tspan></text>
<text x="528.3" y="628.4" font-family="Liberation Sans, sans-serif" font-size="14.5" fill="#111" text-anchor="middle"><tspan font-style="italic">Casp8</tspan><tspan dy="-4.3" font-size="9.5" font-style="italic">1xDA/1xDA</tspan><tspan dy="4.3" font-style="italic"> Cflar</tspan><tspan dy="-4.3" font-size="9.5" font-style="italic">-/-</tspan></text>
<text x="528.3" y="644.7" font-family="Liberation Sans, sans-serif" font-size="14.5" fill="#111" text-anchor="middle"><tspan font-style="italic">Mlkl</tspan><tspan dy="-4.3" font-size="9.5" font-style="italic">-/-</tspan><tspan dy="4.3" font-style="italic"> Casp1</tspan><tspan dy="-4.3" font-size="9.5" font-style="italic">-/-</tspan></text>
<text x="0" y="0" font-family="Liberation Sans, sans-serif" font-size="14.5" fill="#8B5A2B" text-anchor="middle" transform="translate(12.6 725) rotate(-90)">ZBP1</text>
<defs><filter id="bl2" x="-20%" y="-20%" width="140%" height="140%"><feGaussianBlur stdDeviation="2"/></filter><filter id="bl4" x="-30%" y="-30%" width="160%" height="160%"><feGaussianBlur stdDeviation="4"/></filter><filter id="bl1" x="-20%" y="-20%" width="140%" height="140%"><feGaussianBlur stdDeviation="0.8"/></filter></defs>
<clipPath id="im0"><rect x="34.2" y="655.8" width="131.8" height="138.4"/></clipPath>
<clipPath id="im1"><rect x="168" y="655.8" width="142.2" height="138.4"/></clipPath>
<clipPath id="im2"><rect x="316.1" y="655.8" width="138" height="138.4"/></clipPath>
<clipPath id="im3"><rect x="458.2" y="655.8" width="138.8" height="138.4"/></clipPath>
<defs><filter id="tx0" filterUnits="userSpaceOnUse" x="34" y="655" width="133" height="140" color-interpolation-filters="sRGB"><feTurbulence type="fractalNoise" baseFrequency="0.6" numOctaves="2" seed="3" result="n"/><feColorMatrix in="n" type="matrix" values="0 0 0 0 1 0 0 0 0 1 0 0 0 0 1 1.3 0 0 0 -0.55" result="w"/><feColorMatrix in="n" type="matrix" values="0 0 0 0 0.35 0 0 0 0 0.05 0 0 0 0 0.08 0 0.35 0 0 -0.18" result="d"/><feComposite in="w" in2="SourceAlpha" operator="in" result="w2"/><feComposite in="d" in2="SourceAlpha" operator="in" result="d2"/><feMerge><feMergeNode in="SourceGraphic"/><feMergeNode in="d2"/><feMergeNode in="w2"/></feMerge></filter><filter id="tx1" filterUnits="userSpaceOnUse" x="168" y="655" width="143" height="140" color-interpolation-filters="sRGB"><feTurbulence type="fractalNoise" baseFrequency="0.6" numOctaves="2" seed="5" result="n"/><feColorMatrix in="n" type="matrix" values="0 0 0 0 1 0 0 0 0 1 0 0 0 0 1 1.5 0 0 0 -0.62" result="w"/><feColorMatrix in="n" type="matrix" values="0 0 0 0 0.35 0 0 0 0 0.05 0 0 0 0 0.08 0 1.0 0 0 -0.45" result="d"/><feComposite in="w" in2="SourceAlpha" operator="in" result="w2"/><feComposite in="d" in2="SourceAlpha" operator="in" result="d2"/><feMerge><feMergeNode in="SourceGraphic"/><feMergeNode in="d2"/><feMergeNode in="w2"/></feMerge></filter><filter id="tx2" filterUnits="userSpaceOnUse" x="316" y="655" width="139" height="140" color-interpolation-filters="sRGB"><feTurbulence type="fractalNoise" baseFrequency="0.6" numOctaves="2" seed="7" result="n"/><feColorMatrix in="n" type="matrix" values="0 0 0 0 1 0 0 0 0 1 0 0 0 0 1 1.0 0 0 0 -0.48" result="w"/><feColorMatrix in="n" type="matrix" values="0 0 0 0 0.35 0 0 0 0 0.05 0 0 0 0 0.08 0 0.9 0 0 -0.45" result="d"/><feComposite in="w" in2="SourceAlpha" operator="in" result="w2"/><feComposite in="d" in2="SourceAlpha" operator="in" result="d2"/><feMerge><feMergeNode in="SourceGraphic"/><feMergeNode in="d2"/><feMergeNode in="w2"/></feMerge></filter><filter id="tx3" filterUnits="userSpaceOnUse" x="458" y="655" width="140" height="140" color-interpolation-filters="sRGB"><feTurbulence type="fractalNoise" baseFrequency="0.35" numOctaves="2" seed="9" result="n"/><feColorMatrix in="n" type="matrix" values="0 0 0 0 1 0 0 0 0 1 0 0 0 0 1 1.7 0 0 0 -0.65" result="w"/><feColorMatrix in="n" type="matrix" values="0 0 0 0 0.35 0 0 0 0 0.05 0 0 0 0 0.08 0 1.2 0 0 -0.5" result="d"/><feComposite in="w" in2="SourceAlpha" operator="in" result="w2"/><feComposite in="d" in2="SourceAlpha" operator="in" result="d2"/><feMerge><feMergeNode in="SourceGraphic"/><feMergeNode in="d2"/><feMergeNode in="w2"/></feMerge></filter></defs>
<g clip-path="url(#im0)">
<rect x="34.2" y="655.8" width="131.8" height="138.4" fill="#FCFCFD"/>
<clipPath id="b1c"><path d="M34.2 655.8H166V695C163 710 154 724 142 739C128 755 110 769 90 778C74 781 56 778 42.5 769.4L34.2 760Z"/></clipPath>
<g filter="url(#tx0)">
<path d="M34.2 655.8H166V695C163 710 154 724 142 739C128 755 110 769 90 778C74 781 56 778 42.5 769.4L34.2 760Z" fill="#F3F1F5"/>
<path d="M166 655.8V695C163 710 154 724 142 739C128 755 110 769 90 778C74 781 56 778 42.5 769.4L34.2 760" fill="none" stroke="#D6D9EC" stroke-width="18" clip-path="url(#b1c)"/>
<path d="M34.2 655.8V770" fill="none" stroke="#D6D9EC" stroke-width="16"/>
<g fill="#F1EFF5" stroke="#D5D9EC" stroke-width="2.2" clip-path="url(#b1c)"><ellipse cx="54.1" cy="663" rx="6.5" ry="3.5" transform="rotate(-17.6 54.1 663)"/><ellipse cx="70.1" cy="660.9" rx="7.4" ry="4.4" transform="rotate(-6.6 70.1 660.9)"/><ellipse cx="85.4" cy="660.8" rx="5.3" ry="4.7" transform="rotate(8.5 85.4 660.8)"/><ellipse cx="98.7" cy="662" rx="7.5" ry="3.8" transform="rotate(2.7 98.7 662)"/><ellipse cx="111.6" cy="658.8" rx="5.3" ry="4.2" transform="rotate(-11.1 111.6 658.8)"/><ellipse cx="130.1" cy="662.6" rx="7.3" ry="3.8" transform="rotate(-23.3 130.1 662.6)"/><ellipse cx="142.3" cy="658.4" rx="5" ry="3.7" transform="rotate(24.8 142.3 658.4)"/><ellipse cx="160.9" cy="659" rx="5.8" ry="4" transform="rotate(-20.5 160.9 659)"/><ellipse cx="48" cy="673" rx="5.2" ry="4.4" transform="rotate(19.8 48 673)"/><ellipse cx="62.6" cy="673.4" rx="6.8" ry="4.2" transform="rotate(17.6 62.6 673.4)"/><ellipse cx="80.5" cy="670.6" rx="6.1" ry="4" transform="rotate(12.3 80.5 670.6)"/><ellipse cx="97" cy="669.8" rx="6.4" ry="4.5" transform="rotate(9.6 97 669.8)"/><ellipse cx="106.5" cy="672.9" rx="6.6" ry="3.7" transform="rotate(-2.8 106.5 672.9)"/><ellipse cx="123.6" cy="672.4" rx="5.1" ry="4" transform="rotate(-16.8 123.6 672.4)"/><ellipse cx="137.6" cy="670.3" rx="5.9" ry="3.6" transform="rotate(18.5 137.6 670.3)"/><ellipse cx="152.1" cy="670.3" rx="5.2" ry="4.4" transform="rotate(-13.4 152.1 670.3)"/><ellipse cx="47.3" cy="684.3" rx="5.9" ry="3.7" transform="rotate(-9.2 47.3 684.3)"/><ellipse cx="64.6" cy="683.1" rx="7.3" ry="4.6" transform="rotate(-21.7 64.6 683.1)"/><ellipse cx="80" cy="683.8" rx="6.2" ry="3.6" transform="rotate(15.1 80 683.8)"/><ellipse cx="91.9" cy="683.9" rx="5.7" ry="4.7" transform="rotate(-12.5 91.9 683.9)"/><ellipse cx="106.7" cy="682.9" rx="5.6" ry="4.4" transform="rotate(-7.1 106.7 682.9)"/><ellipse cx="121.4" cy="684.6" rx="6" ry="4.3" transform="rotate(8.7 121.4 684.6)"/><ellipse cx="138.3" cy="681.7" rx="5.2" ry="4" transform="rotate(2.5 138.3 681.7)"/><ellipse cx="153.6" cy="684.5" rx="6.9" ry="3.9" transform="rotate(7.2 153.6 684.5)"/><ellipse cx="51.3" cy="696.8" rx="7" ry="4.2" transform="rotate(3.3 51.3 696.8)"/><ellipse cx="67.3" cy="697.5" rx="7.2" ry="3.7" transform="rotate(18.8 67.3 697.5)"/><ellipse cx="85.1" cy="693.3" rx="5.3" ry="4.4" transform="rotate(-4.3 85.1 693.3)"/><ellipse cx="100.9" cy="695.7" rx="7.2" ry="3.8" transform="rotate(-24.4 100.9 695.7)"/><ellipse cx="111.8" cy="696" rx="5.3" ry="4.1" transform="rotate(-14.6 111.8 696)"/><ellipse cx="128.1" cy="695.3" rx="5.6" ry="4.8" transform="rotate(13.3 128.1 695.3)"/><ellipse cx="142.1" cy="696.7" rx="5.9" ry="4.3" transform="rotate(-21.4 142.1 696.7)"/><ellipse cx="158.1" cy="696" rx="5.1" ry="4.2" transform="rotate(18.7 158.1 696)"/><ellipse cx="51" cy="706.7" rx="7.3" ry="4.1" transform="rotate(12.3 51 706.7)"/><ellipse cx="70.4" cy="708.6" rx="7.3" ry="4.2" transform="rotate(-19.1 70.4 708.6)"/><ellipse cx="82.8" cy="707.9" rx="5.9" ry="3.8" transform="rotate(-10.4 82.8 707.9)"/><ellipse cx="96.5" cy="707.8" rx="6.3" ry="4.2" transform="rotate(23.4 96.5 707.8)"/><ellipse cx="110.2" cy="706" rx="5.4" ry="4.4" transform="rotate(-5.1 110.2 706)"/><ellipse cx="129.3" cy="707.4" rx="7.3" ry="4.9" transform="rotate(15 129.3 707.4)"/><ellipse cx="143" cy="707.4" rx="5.6" ry="3.5" transform="rotate(-1.7 143 707.4)"/><ellipse cx="158" cy="704.6" rx="6.6" ry="3.7" transform="rotate(-24.4 158 704.6)"/><ellipse cx="48.8" cy="723.9" rx="6" ry="4.7" transform="rotate(-24.1 48.8 723.9)"/><ellipse cx="62.9" cy="721" rx="6.4" ry="4.8" transform="rotate(-6.7 62.9 721)"/><ellipse cx="79.7" cy="718.7" rx="5.1" ry="4.3" transform="rotate(6.2 79.7 718.7)"/><ellipse cx="95.5" cy="714.3" rx="6.6" ry="4.2" transform="rotate(-14.2 95.5 714.3)"/><ellipse cx="111.9" cy="719.9" rx="7.1" ry="4.9" transform="rotate(-18.6 111.9 719.9)"/><ellipse cx="125.6" cy="718.8" rx="6.9" ry="3.6" transform="rotate(8.9 125.6 718.8)"/><ellipse cx="137.6" cy="720.1" rx="5.7" ry="3.5" transform="rotate(-12.6 137.6 720.1)"/><ellipse cx="155.9" cy="716.8" rx="6.5" ry="4" transform="rotate(-6 155.9 716.8)"/><ellipse cx="48.9" cy="729.3" rx="5.7" ry="4.5" transform="rotate(19.1 48.9 729.3)"/><ellipse cx="61.9" cy="729.1" rx="5.5" ry="4.6" transform="rotate(10.3 61.9 729.1)"/><ellipse cx="76.9" cy="728.9" rx="5.3" ry="4.8" transform="rotate(9.8 76.9 728.9)"/><ellipse cx="91.8" cy="729.9" rx="5.9" ry="4.4" transform="rotate(-0.9 91.8 729.9)"/><ellipse cx="108.9" cy="729.3" rx="6" ry="4.1" transform="rotate(21.3 108.9 729.3)"/><ellipse cx="122.6" cy="728.8" rx="7.2" ry="3.7" transform="rotate(5.9 122.6 728.8)"/><ellipse cx="136.9" cy="732.2" rx="6.4" ry="4.9" transform="rotate(-15.7 136.9 732.2)"/><ellipse cx="152.2" cy="729.6" rx="6.5" ry="4.3" transform="rotate(-8.8 152.2 729.6)"/><ellipse cx="51.2" cy="741.7" rx="6.2" ry="4.2" transform="rotate(-12.1 51.2 741.7)"/><ellipse cx="66" cy="744.2" rx="5.4" ry="4.9" transform="rotate(13.6 66 744.2)"/><ellipse cx="86.6" cy="742.2" rx="6.1" ry="4.5" transform="rotate(-13.6 86.6 742.2)"/><ellipse cx="99.3" cy="743.1" rx="7.5" ry="4.8" transform="rotate(23.2 99.3 743.1)"/><ellipse cx="117.4" cy="741.9" rx="5" ry="4.9" transform="rotate(-6.9 117.4 741.9)"/><ellipse cx="126.9" cy="745.1" rx="7" ry="4.1" transform="rotate(1.8 126.9 745.1)"/><ellipse cx="145.4" cy="742.6" rx="5.8" ry="4" transform="rotate(16.6 145.4 742.6)"/><ellipse cx="159.2" cy="743.1" rx="7.4" ry="3.8" transform="rotate(21 159.2 743.1)"/><ellipse cx="51.7" cy="754.6" rx="5.1" ry="3.9" transform="rotate(24 51.7 754.6)"/><ellipse cx="71.4" cy="753.3" rx="7.3" ry="4" transform="rotate(24 71.4 753.3)"/><ellipse cx="82" cy="751.8" rx="5.1" ry="4.5" transform="rotate(21.1 82 751.8)"/><ellipse cx="100.6" cy="753.3" rx="7" ry="3.7" transform="rotate(19.8 100.6 753.3)"/><ellipse cx="110.8" cy="755.1" rx="6.5" ry="5" transform="rotate(-20.6 110.8 755.1)"/><ellipse cx="130.7" cy="750.7" rx="6.1" ry="4.2" transform="rotate(-1.6 130.7 750.7)"/><ellipse cx="144.4" cy="753" rx="5.7" ry="3.7" transform="rotate(-7.6 144.4 753)"/><ellipse cx="160" cy="753.5" rx="7.3" ry="4" transform="rotate(17.2 160 753.5)"/><ellipse cx="50" cy="766.2" rx="7.4" ry="4.6" transform="rotate(20.7 50 766.2)"/><ellipse cx="62.3" cy="765" rx="7.1" ry="4.1" transform="rotate(-9.4 62.3 765)"/><ellipse cx="79.2" cy="765.2" rx="5.7" ry="4.4" transform="rotate(12.5 79.2 765.2)"/><ellipse cx="89.8" cy="763.2" rx="6.6" ry="4.6" transform="rotate(4.4 89.8 763.2)"/><ellipse cx="108.5" cy="767" rx="5" ry="4.3" transform="rotate(-2.8 108.5 767)"/><ellipse cx="120.7" cy="766.5" rx="6.1" ry="4.4" transform="rotate(22.3 120.7 766.5)"/><ellipse cx="138.5" cy="762" rx="5.5" ry="3.8" transform="rotate(-1 138.5 762)"/><ellipse cx="157.6" cy="763.6" rx="5.2" ry="3.9" transform="rotate(-16.5 157.6 763.6)"/></g>
<path d="M94.9 661.2h0.7M112.4 659.5h0.4M132.3 661.3h2.7M144 659h0.1M160.4 659.8h1.4M46.9 674.1h0.3M63.6 673.4h2.9M77.9 670.9h0.7M153.3 669.5h1.9M48 682.1h0.3M92.4 684.9h0.9M137.4 682.4h2.4M154.4 684.5h2.1M51.9 696.3h2.1M70.9 695.9h1.4M99 696.5h0.1M126.7 693.8h2.9M138.3 696.9h2.2M50.2 707.4h0.3M94.2 708.4h2.8M111.1 705.8h1.7M130 707.2h1.2M45.2 722.8h0.2M61.1 720.9h1.2M114.5 720.4h2.1M120 719.8h1.2M138.6 721.7h2.9M155.6 717h0.7M48.9 730.1h2.4M109.6 728.5h1.4M47.8 742.5h2.6M88.5 740.5h2.7M98.6 742.8h1.1M128.3 746.7h0.9M145.2 743.4h2.6M159 742.1h2.4M70.7 753.6h1.8M100.5 754.1h1.9M112 756.4h2.1M160.3 752.2h0.5M88 763h0.6M108 766.1h1M119.1 767.5h0.7M160.9 762.4h0.6" stroke="#CC979F" stroke-width="1.7" stroke-linecap="round" clip-path="url(#b1c)"/>
<g clip-path="url(#b1c)" filter="url(#bl2)"><ellipse cx="74" cy="750" rx="26" ry="16" fill="#E3C8CC"/><ellipse cx="56" cy="732" rx="12" ry="10" fill="#E5CED2"/><ellipse cx="98" cy="760" rx="12" ry="8" fill="#E3CACF"/><ellipse cx="62" cy="671" rx="9" ry="5" fill="#E0C2C7"/><ellipse cx="88" cy="683" rx="8" ry="2.5" fill="#E5CFD4"/><ellipse cx="86" cy="699" rx="8" ry="2.5" fill="#E5CFD4"/><ellipse cx="105" cy="716" rx="8" ry="2.5" fill="#E5CFD4"/></g>
<path d="M82.3 757.5h0M66.2 768.6h0M67.2 747.7h0M73.9 748.3h0M97.7 734h0M93.6 735.6h0M97.3 736.1h0M64.1 755.5h0M56 753.9h0M36.2 739h0M73 751.5h0M99.5 751.2h0M93.6 734.2h0M42.5 761.5h0M47.2 740h0M88.4 734.8h0M67.4 749.7h0M102.8 735.7h0M52.4 726.6h0M103.7 736.8h0M65.5 768.9h0M35.4 735.3h0M76.2 758.3h0M52.8 759.8h0M80.4 737.7h0M98.1 763.7h0M70.9 758h0M95.5 756.1h0M64.4 737.7h0M46.3 757.3h0M62.6 751h0M55.9 768h0M103.8 750.3h0M98.9 742.4h0M67.7 739.7h0M93.8 745.4h0M58.4 758.9h0M89.9 759.5h0M32.6 742.4h0M48.7 742.9h0M58.9 739.9h0M109.4 738.7h0M83.7 745.5h0M61.3 756.8h0M96.3 761.7h0M85.5 761.1h0M72.3 743.1h0M68.1 754.5h0M94.9 758.5h0M42.5 763h0M75.6 747.8h0M104.8 741.3h0M70.6 739.5h0M64.9 751.6h0M62.3 758.3h0M65.2 749.9h0M97.2 739.8h0M65.7 741h0M70.8 746.7h0M71.4 755.7h0M54.6 749.7h0M71.9 748.3h0M58.2 755h0M57.2 744.8h0M94.2 767.1h0M74.3 744.7h0M42.1 744.7h0M54.5 751.6h0M65.4 753.5h0M60.3 736.7h0M74.9 750.8h0M69.2 739.5h0M81.5 766.5h0M52.7 729.4h0M92.4 733.6h0M85.7 742.2h0M74.1 754.1h0M74.4 741.8h0M124.3 738.1h0M64.8 739.7h0M71.4 749.1h0M36.5 753.7h0M86.2 724.7h0M65.4 747.9h0M70.4 748.3h0M38.4 755h0M85.3 751.5h0M94.5 762.7h0M105.7 758.6h0M64.5 754.3h0M100.9 737.4h0M61.1 760.4h0M84.3 746.4h0M58.1 751.3h0M76.7 753.5h0M75.9 748.5h0M94 769.1h0M76.3 763.3h0M98.6 775.4h0M87.2 741.1h0M64.9 754.1h0M70.3 736.8h0M78.4 774.3h0M69.7 747.4h0M84.7 753.3h0M91.8 751.1h0M95.3 735.9h0M85.4 744.2h0M73.3 754.8h0M87.2 742h0M77.1 760.3h0M78.8 751h0M56.1 756.9h0M60.4 758.3h0M55.6 744.1h0M88 744.7h0M91.4 742.3h0M103.5 757.6h0M79.1 732.5h0M68.3 764.3h0M64.5 731.1h0M101.3 735.3h0M93.3 780.3h0M73.9 737.6h0M89.3 755.3h0M83.4 747.4h0M91.7 744.2h0M71.7 744.2h0M79.8 763.5h0M37.4 753.5h0M51.5 735.1h0M98.4 755.3h0M79.8 744.5h0M69.3 740.2h0M91.2 751.8h0M65.7 736.7h0M62.5 744.9h0M69.7 758.9h0M69.9 741h0M100.3 755h0M70 749.4h0M92 742.4h0M75.9 748.3h0M72.2 770.1h0M92.1 741.5h0M72 753h0M69.9 752.3h0M86.8 738.7h0M77.4 752.5h0M43.4 757.9h0M89.2 751.1h0M84.9 753.9h0M57.8 742h0M103.2 754.6h0M89.5 726h0M65.3 738.6h0M49.6 740h0M94.3 761.9h0M87.3 735.6h0M71.7 741h0M79.9 739.7h0M66.9 688.3h0M159.9 738.4h0M107.8 691.3h0M43.3 660.2h0M54.5 720.8h0M105.8 726.9h0M47.6 712h0M87.1 725.2h0M159.4 699.5h0M109.4 693.1h0M58.8 717.9h0M130 691.4h0M146.9 730.3h0M152.8 719.6h0M144.4 714.1h0M118.2 727.4h0M106.1 668.8h0M95.3 719.3h0M153.8 702.8h0M82 699.4h0M85.9 726.7h0M94.5 727.3h0M124.4 686.6h0M111.8 666.9h0M44.8 735.1h0M60.4 734.9h0M52.1 688.4h0M117 686h0M60.9 670h0M97.6 702.6h0M117.7 725.1h0M74.2 723h0M43.5 734.2h0M158.4 663.8h0M43.7 733.5h0M150.7 737.5h0M133.8 676.8h0M132.8 710.5h0M96.9 725.6h0" stroke="#C99A9F" stroke-width="2" stroke-linecap="round" opacity="0.8" clip-path="url(#b1c)"/>
<path d="M34.2 765L45 772L55 778L57 783L50 789L40 792L34.2 792Z" fill="#DDDEEC"/>
<path d="M61 794L68 787L74 786L84 794Z" fill="#E0E0EC"/>
<path d="M166 728C161 738 160 752 164 760L166 760Z" fill="#E3E4EF"/>
</g>
<path d="M100 690L108 676L122 668L135 660M108 676L112 662M122 668L128 690L140 700M100 690L88 708L92 722M88 708L75 712M120 705L132 718L128 732M132 718L146 714" fill="none" stroke="#F8F7F9" stroke-width="1.6" stroke-linecap="round" clip-path="url(#b1c)"/>
</g>
<g clip-path="url(#im1)">
<rect x="168" y="655.8" width="142.2" height="138.4" fill="#fff"/>
<g filter="url(#tx1)">
<path d="M308.5 700L308.4 703.5L308.3 707.1L308 710.6L307.7 714.1L307.2 717.6L306.6 721L305.9 724.4L305.1 727.8L304.3 731.2L303.3 734.4L302.2 737.7L301 740.9L299.8 744L298.4 747L297 750L295.4 752.9L293.8 755.7L292.1 758.5L290.3 761.1L288.4 763.6L286.5 766.1L284.5 768.4L282.4 770.7L280.3 772.8L278.1 774.8L275.8 776.7L273.5 778.5L271.1 780.2L268.7 781.7L266.2 783.1L263.7 784.4L261.2 785.6L258.6 786.6L256 787.5L253.4 788.3L250.7 788.9L248.1 789.4L245.4 789.7L242.7 789.9L240 790L237.3 789.9L234.6 789.7L231.9 789.4L229.3 788.9L226.6 788.3L224 787.5L221.4 786.6L218.8 785.6L216.3 784.4L213.8 783.1L211.3 781.7L208.9 780.2L206.5 778.5L204.2 776.7L201.9 774.8L199.7 772.8L197.6 770.7L195.5 768.4L193.5 766.1L191.6 763.6L189.7 761.1L187.9 758.5L186.2 755.7L184.6 752.9L183 750L181.6 747L180.2 744L179 740.9L177.8 737.7L176.7 734.4L175.7 731.2L174.9 727.8L174.1 724.4L173.4 721L172.8 717.6L172.3 714.1L172 710.6L171.7 707.1L171.6 703.5L171.5 700L171.6 696.5L171.7 692.9L172 689.4L172.3 685.9L172.8 682.4L173.4 679L174.1 675.6L174.9 672.2L175.7 668.8L176.7 665.6L177.8 662.3L179 659.1L180.2 656L181.6 653L183 650L184.6 647.1L186.2 644.3L187.9 641.5L189.7 638.9L191.6 636.4L193.5 633.9L195.5 631.6L197.6 629.3L199.7 627.2L201.9 625.2L204.2 623.3L206.5 621.5L208.9 619.8L211.3 618.3L213.8 616.9L216.3 615.6L218.8 614.4L221.4 613.4L224 612.5L226.6 611.7L229.3 611.1L231.9 610.6L234.6 610.3L237.3 610.1L240 610L242.7 610.1L245.4 610.3L248.1 610.6L250.7 611.1L253.4 611.7L256 612.5L258.6 613.4L261.2 614.4L263.7 615.6L266.2 616.9L268.7 618.3L271.1 619.8L273.5 621.5L275.8 623.3L278.1 625.2L280.3 627.2L282.4 629.3L284.5 631.6L286.5 633.9L288.4 636.4L290.3 638.9L292.1 641.5L293.8 644.3L295.4 647.1L297 650L298.4 653L299.8 656L301 659.1L302.2 662.3L303.3 665.6L304.3 668.8L305.1 672.2L305.9 675.6L306.6 679L307.2 682.4L307.7 685.9L308 689.4L308.3 692.9L308.4 696.5Z" fill="#DADDEC"/>
<path d="M302.5 700L302.5 703.3L302.3 706.5L302.1 709.8L301.7 713L301.3 716.2L300.8 719.4L300.2 722.5L299.4 725.6L298.6 728.7L297.7 731.8L296.8 734.7L295.7 737.7L294.5 740.6L293.3 743.4L292 746.1L290.6 748.8L289.1 751.4L287.5 753.9L285.9 756.3L284.2 758.7L282.4 760.9L280.6 763.1L278.7 765.2L276.7 767.1L274.7 769L272.7 770.8L270.5 772.4L268.4 774L266.2 775.4L263.9 776.7L261.6 777.9L259.3 778.9L257 779.9L254.6 780.7L252.2 781.4L249.8 782L247.3 782.4L244.9 782.7L242.5 782.9L240 783L237.5 782.9L235.1 782.7L232.7 782.4L230.2 782L227.8 781.4L225.4 780.7L223 779.9L220.7 778.9L218.4 777.9L216.1 776.7L213.8 775.4L211.6 774L209.5 772.4L207.3 770.8L205.3 769L203.3 767.1L201.3 765.2L199.4 763.1L197.6 760.9L195.8 758.7L194.1 756.3L192.5 753.9L190.9 751.4L189.4 748.8L188 746.1L186.7 743.4L185.5 740.6L184.3 737.7L183.2 734.7L182.3 731.8L181.4 728.7L180.6 725.6L179.8 722.5L179.2 719.4L178.7 716.2L178.3 713L177.9 709.8L177.7 706.5L177.5 703.3L177.5 700L177.5 696.7L177.7 693.5L177.9 690.2L178.3 687L178.7 683.8L179.2 680.6L179.8 677.5L180.6 674.4L181.4 671.3L182.3 668.2L183.2 665.3L184.3 662.3L185.5 659.4L186.7 656.6L188 653.9L189.4 651.2L190.9 648.6L192.5 646.1L194.1 643.7L195.8 641.3L197.6 639.1L199.4 636.9L201.3 634.8L203.3 632.9L205.3 631L207.3 629.2L209.5 627.6L211.6 626L213.8 624.6L216.1 623.3L218.4 622.1L220.7 621.1L223 620.1L225.4 619.3L227.8 618.6L230.2 618L232.7 617.6L235.1 617.3L237.5 617.1L240 617L242.5 617.1L244.9 617.3L247.3 617.6L249.8 618L252.2 618.6L254.6 619.3L257 620.1L259.3 621.1L261.6 622.1L263.9 623.3L266.2 624.6L268.4 626L270.5 627.6L272.7 629.2L274.7 631L276.7 632.9L278.7 634.8L280.6 636.9L282.4 639.1L284.2 641.3L285.9 643.7L287.5 646.1L289.1 648.6L290.6 651.2L292 653.9L293.3 656.6L294.5 659.4L295.7 662.3L296.8 665.3L297.7 668.2L298.6 671.3L299.4 674.4L300.2 677.5L300.8 680.6L301.3 683.8L301.7 687L302.1 690.2L302.3 693.5L302.5 696.7ZM291.2 698.1L289.7 696.3L288 694.6L286.6 693L285.8 691.4L285.9 689.6L286.6 687.7L287.4 685.6L288 683.5L288.1 681.6L287.8 679.7L287.4 678L287.2 676.1L287.3 674L287.4 671.9L287.4 669.8L286.9 668L285.9 666.6L284.5 665.4L283.2 664.3L282.3 662.9L281.9 661.1L281.9 658.8L281.9 656.4L281.6 654.4L280.7 652.9L279.1 652.2L277.3 652L275.5 651.8L274 651.4L272.9 650.4L272 649.1L271.2 647.8L270.2 646.7L269.1 645.8L268 644.9L267 643.7L266.4 641.9L266 639.4L265.6 636.6L265 634.1L264 632.5L262.7 632L261.1 632.4L259.4 633L257.9 633.2L256.7 632.8L255.5 631.6L254.5 630.2L253.3 629L252 628.6L250.6 628.7L249.2 629.2L247.8 629.6L246.5 629.5L245.2 629.1L243.9 628.8L242.6 628.9L241.3 629.9L240 631.4L238.8 632.9L237.6 633.9L236.3 633.7L235 632.3L233.6 630.3L232.1 628.4L230.6 627.2L229.2 627L227.9 627.6L226.6 628.6L225.4 629.5L224.1 630L222.8 630.4L221.4 630.8L220.3 631.8L219.3 633.5L218.5 635.4L217.6 637.3L216.7 638.5L215.4 639L213.9 639L212.4 639.1L211.1 639.8L210.2 641.4L209.8 643.7L209.6 646.3L209.3 648.6L208.6 650.2L207.6 651.1L206.1 651.6L204.6 652L203.3 652.7L202.1 653.7L201.1 655L200.1 656.2L198.7 657.1L197.2 657.9L195.6 658.8L194.4 660L193.8 661.9L194 664.2L194.5 666.9L195.2 669.4L195.4 671.6L195 673.3L194.1 674.8L193 676.2L192.1 677.7L191.7 679.5L191.8 681.5L192.2 683.6L192.5 685.6L192.4 687.4L192 689.1L191.5 690.9L191.2 692.7L191.3 694.5L191.7 696.4L192 698.2L192 700L191.2 701.8L189.9 703.8L188.3 705.8L187.1 707.9L186.7 710L187.1 712L188.2 713.7L189.6 715.3L190.7 716.9L191.5 718.6L191.9 720.4L192.3 722.1L193 723.8L193.9 725.3L195.1 726.6L196.1 728L196.7 729.6L196.8 731.5L196.7 733.6L196.6 735.8L197 737.6L198 739L199.5 739.8L201 740.5L202.3 741.4L202.9 742.9L203.1 745.1L203 747.7L203 750.3L203.3 752.5L204.1 754.2L205.1 755.4L206.2 756.5L207.3 757.8L208.2 759.2L209.2 760.6L210.4 761.6L211.9 761.8L213.7 761.3L215.6 760.4L217.3 759.8L218.6 760L219.6 761.1L220.4 763L221.1 765.1L222.1 766.7L223.3 767.6L224.6 767.6L226.1 767.3L227.4 767.2L228.7 767.6L229.8 768.6L230.9 769.8L232.2 770.8L233.4 771.3L234.8 771.4L236.1 771.3L237.4 771.7L238.7 772.8L240 774.4L241.4 775.9L242.8 776.7L244.2 776.2L245.5 774.6L246.6 772.1L247.7 769.7L248.8 767.8L249.9 766.9L251.2 766.7L252.5 766.8L253.8 766.6L255 766L256.1 765.1L257.3 764.3L258.5 764L260 764.1L261.5 764.5L263 764.7L264.4 764.2L265.4 762.9L266.1 761L266.8 759.1L267.7 757.7L269 757.1L270.7 757.1L272.5 757.4L274.2 757.3L275.6 756.5L276.4 754.8L276.8 752.7L277.2 750.4L277.6 748.4L278.2 746.6L278.8 745L279.4 743.2L279.6 741.2L279.6 738.9L279.5 736.7L279.7 734.8L280.4 733.4L281.8 732.5L283.6 731.8L285.4 731L286.8 729.8L287.4 728.1L287.4 726L287.2 723.9L287.2 721.9L287.6 720.2L288.4 718.6L289.4 717L290.3 715.3L290.7 713.4L290.7 711.5L290.6 709.5L290.6 707.6L291 705.7L291.5 703.9L292 701.9L292 700Z" fill="#B9777C" fill-rule="evenodd"/>
<path d="M178 655.8L201 655.8L203 661L198 667L190 668L186 676L182 672Z" fill="#B9777C"/>
<path d="M308 742C304 760 292 778 272 796" fill="none" stroke="#C9A7AF" stroke-width="2.6"/>
<path d="M306 656C309 670 310 690 309 700" fill="none" stroke="#CBABB3" stroke-width="3.5"/>
<path d="M172 794C180 786 196 785 212 794Z" fill="#DCCAD0"/>
</g>
<path d="M292 700L292 701.9L291.5 703.9L291 705.7L290.6 707.6L290.6 709.5L290.7 711.5L290.7 713.4L290.3 715.3L289.4 717L288.4 718.6L287.6 720.2L287.2 721.9L287.2 723.9L287.4 726L287.4 728.1L286.8 729.8L285.4 731L283.6 731.8L281.8 732.5L280.4 733.4L279.7 734.8L279.5 736.7L279.6 738.9L279.6 741.2L279.4 743.2L278.8 745L278.2 746.6L277.6 748.4L277.2 750.4L276.8 752.7L276.4 754.8L275.6 756.5L274.2 757.3L272.5 757.4L270.7 757.1L269 757.1L267.7 757.7L266.8 759.1L266.1 761L265.4 762.9L264.4 764.2L263 764.7L261.5 764.5L260 764.1L258.5 764L257.3 764.3L256.1 765.1L255 766L253.8 766.6L252.5 766.8L251.2 766.7L249.9 766.9L248.8 767.8L247.7 769.7L246.6 772.1L245.5 774.6L244.2 776.2L242.8 776.7L241.4 775.9L240 774.4L238.7 772.8L237.4 771.7L236.1 771.3L234.8 771.4L233.4 771.3L232.2 770.8L230.9 769.8L229.8 768.6L228.7 767.6L227.4 767.2L226.1 767.3L224.6 767.6L223.3 767.6L222.1 766.7L221.1 765.1L220.4 763L219.6 761.1L218.6 760L217.3 759.8L215.6 760.4L213.7 761.3L211.9 761.8L210.4 761.6L209.2 760.6L208.2 759.2L207.3 757.8L206.2 756.5L205.1 755.4L204.1 754.2L203.3 752.5L203 750.3L203 747.7L203.1 745.1L202.9 742.9L202.3 741.4L201 740.5L199.5 739.8L198 739L197 737.6L196.6 735.8L196.7 733.6L196.8 731.5L196.7 729.6L196.1 728L195.1 726.6L193.9 725.3L193 723.8L192.3 722.1L191.9 720.4L191.5 718.6L190.7 716.9L189.6 715.3L188.2 713.7L187.1 712L186.7 710L187.1 707.9L188.3 705.8L189.9 703.8L191.2 701.8L192 700L192 698.2L191.7 696.4L191.3 694.5L191.2 692.7L191.5 690.9L192 689.1L192.4 687.4L192.5 685.6L192.2 683.6L191.8 681.5L191.7 679.5L192.1 677.7L193 676.2L194.1 674.8L195 673.3L195.4 671.6L195.2 669.4L194.5 666.9L194 664.2L193.8 661.9L194.4 660L195.6 658.8L197.2 657.9L198.7 657.1L200.1 656.2L201.1 655L202.1 653.7L203.3 652.7L204.6 652L206.1 651.6L207.6 651.1L208.6 650.2L209.3 648.6L209.6 646.3L209.8 643.7L210.2 641.4L211.1 639.8L212.4 639.1L213.9 639L215.4 639L216.7 638.5L217.6 637.3L218.5 635.4L219.3 633.5L220.3 631.8L221.4 630.8L222.8 630.4L224.1 630L225.4 629.5L226.6 628.6L227.9 627.6L229.2 627L230.6 627.2L232.1 628.4L233.6 630.3L235 632.3L236.3 633.7L237.6 633.9L238.8 632.9L240 631.4L241.3 629.9L242.6 628.9L243.9 628.8L245.2 629.1L246.5 629.5L247.8 629.6L249.2 629.2L250.6 628.7L252 628.6L253.3 629L254.5 630.2L255.5 631.6L256.7 632.8L257.9 633.2L259.4 633L261.1 632.4L262.7 632L264 632.5L265 634.1L265.6 636.6L266 639.4L266.4 641.9L267 643.7L268 644.9L269.1 645.8L270.2 646.7L271.2 647.8L272 649.1L272.9 650.4L274 651.4L275.5 651.8L277.3 652L279.1 652.2L280.7 652.9L281.6 654.4L281.9 656.4L281.9 658.8L281.9 661.1L282.3 662.9L283.2 664.3L284.5 665.4L285.9 666.6L286.9 668L287.4 669.8L287.4 671.9L287.3 674L287.2 676.1L287.4 678L287.8 679.7L288.1 681.6L288 683.5L287.4 685.6L286.6 687.7L285.9 689.6L285.8 691.4L286.6 693L288 694.6L289.7 696.3L291.2 698.1Z" fill="#FFFFFF"/>
<ellipse cx="238.5" cy="710.5" rx="41.5" ry="49" fill="#F5F5F7" stroke="#E6E6EC" stroke-width="1.5"/>
</g>
<g clip-path="url(#im2)">
<rect x="316.1" y="655.8" width="138" height="138.4" fill="#FCFCFD"/>
<g filter="url(#tx2)">
<path d="M316.1 655.8H336L316.1 671Z" fill="#ECE6E9"/>
<path d="M471 724L470.9 727.1L470.7 730.1L470.4 733.2L469.9 736.2L469.3 739.2L468.6 742.2L467.8 745.2L466.8 748.1L465.7 751L464.5 753.8L463.1 756.7L461.6 759.4L460 762.1L458.3 764.8L456.5 767.3L454.6 769.8L452.5 772.3L450.4 774.7L448.2 776.9L445.8 779.2L443.4 781.3L440.9 783.3L438.2 785.3L435.5 787.1L432.8 788.9L429.9 790.5L427 792.1L424 793.5L421 794.8L417.9 796.1L414.8 797.2L411.6 798.2L408.3 799.1L405.1 799.8L401.8 800.5L398.5 801L395.1 801.5L391.7 801.8L388.4 801.9L385 802L381.6 801.9L378.3 801.8L374.9 801.5L371.5 801L368.2 800.5L364.9 799.8L361.7 799.1L358.4 798.2L355.2 797.2L352.1 796.1L349 794.8L346 793.5L343 792.1L340.1 790.5L337.2 788.9L334.5 787.1L331.8 785.3L329.1 783.3L326.6 781.3L324.2 779.2L321.8 776.9L319.6 774.7L317.5 772.3L315.4 769.8L313.5 767.3L311.7 764.8L310 762.1L308.4 759.4L306.9 756.7L305.5 753.8L304.3 751L303.2 748.1L302.2 745.2L301.4 742.2L300.7 739.2L300.1 736.2L299.6 733.2L299.3 730.1L299.1 727.1L299 724L299.1 720.9L299.3 717.9L299.6 714.8L300.1 711.8L300.7 708.8L301.4 705.8L302.2 702.8L303.2 699.9L304.3 697L305.5 694.2L306.9 691.3L308.4 688.6L310 685.9L311.7 683.2L313.5 680.7L315.4 678.2L317.5 675.7L319.6 673.3L321.8 671.1L324.2 668.8L326.6 666.7L329.1 664.7L331.8 662.7L334.5 660.9L337.2 659.1L340.1 657.5L343 655.9L346 654.5L349 653.2L352.1 651.9L355.2 650.8L358.4 649.8L361.7 648.9L364.9 648.2L368.2 647.5L371.5 647L374.9 646.5L378.3 646.2L381.6 646.1L385 646L388.4 646.1L391.7 646.2L395.1 646.5L398.5 647L401.8 647.5L405.1 648.2L408.3 648.9L411.6 649.8L414.8 650.8L417.9 651.9L421 653.2L424 654.5L427 655.9L429.9 657.5L432.8 659.1L435.5 660.9L438.2 662.7L440.9 664.7L443.4 666.7L445.8 668.8L448.2 671.1L450.4 673.3L452.5 675.7L454.6 678.2L456.5 680.7L458.3 683.2L460 685.9L461.6 688.6L463.1 691.3L464.5 694.2L465.7 697L466.8 699.9L467.8 702.8L468.6 705.8L469.3 708.8L469.9 711.8L470.4 714.8L470.7 717.9L470.9 720.9ZM465.4 721.2L465.3 718.3L464.9 715.5L464.5 712.7L464 709.9L463.3 707.1L462.5 704.3L461.6 701.6L460.5 698.9L459.4 696.3L458.1 693.6L456.7 691.1L455.2 688.6L453.6 686.1L451.9 683.7L450.1 681.4L448.2 679.1L446.2 676.9L444.1 674.8L441.9 672.7L439.6 670.8L437.3 668.9L434.8 667.1L432.3 665.3L429.7 663.7L427.1 662.2L424.3 660.7L421.5 659.4L418.7 658.2L415.8 657L412.9 656L409.9 655L406.9 654.2L403.8 653.5L400.7 652.9L397.6 652.4L394.5 652L391.3 651.7L388.2 651.6L385 651.5L381.8 651.6L378.7 651.7L375.5 652L372.4 652.4L369.3 652.9L366.2 653.5L363.1 654.2L360.1 655L357.1 656L354.2 657L351.3 658.2L348.5 659.4L345.7 660.7L342.9 662.2L340.3 663.7L337.7 665.3L335.2 667.1L332.7 668.9L330.4 670.8L328.1 672.7L325.9 674.8L323.8 676.9L321.8 679.1L319.9 681.4L318.1 683.7L316.4 686.1L314.8 688.6L313.3 691.1L311.9 693.6L310.6 696.3L309.5 698.9L308.4 701.6L307.5 704.3L306.7 707.1L306 709.9L305.5 712.7L305.1 715.5L304.7 718.3L304.6 721.2L304.5 724L304.6 726.8L304.7 729.7L305.1 732.5L305.5 735.3L306 738.1L306.7 740.9L307.5 743.7L308.4 746.4L309.5 749.1L310.6 751.7L311.9 754.4L313.3 756.9L314.8 759.4L316.4 761.9L318.1 764.3L319.9 766.6L321.8 768.9L323.8 771.1L325.9 773.2L328.1 775.3L330.4 777.2L332.7 779.1L335.2 780.9L337.7 782.7L340.3 784.3L342.9 785.8L345.7 787.3L348.5 788.6L351.3 789.8L354.2 791L357.1 792L360.1 793L363.1 793.8L366.2 794.5L369.3 795.1L372.4 795.6L375.5 796L378.7 796.3L381.8 796.4L385 796.5L388.2 796.4L391.3 796.3L394.5 796L397.6 795.6L400.7 795.1L403.8 794.5L406.9 793.8L409.9 793L412.9 792L415.8 791L418.7 789.8L421.5 788.6L424.3 787.3L427.1 785.8L429.7 784.3L432.3 782.7L434.8 780.9L437.3 779.1L439.6 777.2L441.9 775.3L444.1 773.2L446.2 771.1L448.2 768.9L450.1 766.6L451.9 764.3L453.6 761.9L455.2 759.4L456.7 756.9L458.1 754.4L459.4 751.7L460.5 749.1L461.6 746.4L462.5 743.7L463.3 740.9L464 738.1L464.5 735.3L464.9 732.5L465.3 729.7L465.4 726.8L465.5 724Z" fill="#DCDEE9" fill-rule="evenodd"/>
<path d="M400.1 725.1L399.8 725.1L399.6 725.1L399.3 725.2L399.1 725.3L398.9 725.4L398.7 725.5L398.5 725.6L398.3 725.8L398.1 726L397.9 726.2L397.8 726.4L397.7 726.6L397.6 726.8L397.5 727.1L397.5 727.3L397.5 727.6L397.5 727.8L397.5 728.1L397.6 728.3L397.7 728.5L397.8 728.8L397.9 729L398 729.2L398.2 729.4L398.4 729.5L398.6 729.7L398.8 729.8L399 729.9L417.8 737.8L418 737.9L418.3 737.9L418.5 738L418.7 738L419 738L419.2 737.9L419.5 737.9L419.7 737.8L419.9 737.7L420.1 737.6L420.3 737.4L420.5 737.3L420.7 737.1L420.8 736.9L420.9 736.7L421 736.5L421.1 736.3L421.2 736L421.2 735.9L421.6 734.6L421.6 734.6L422 733.2L422 733.2L422.3 731.8L422.3 731.7L422.5 730.4L422.6 730.3L422.8 729L422.8 728.9L422.8 728.7L422.8 728.4L422.8 728.2L422.8 727.9L422.7 727.7L422.7 727.5L422.6 727.2L422.4 727L422.3 726.8L422.1 726.6L422 726.5L421.8 726.3L421.6 726.2L421.4 726.1L421.1 726L420.9 725.9L420.7 725.9L420.4 725.9ZM428.1 726.1L427.9 726.1L427.6 726.2L427.4 726.2L427.2 726.3L426.9 726.4L426.7 726.5L426.5 726.7L426.3 726.8L426.2 727L426 727.2L425.9 727.4L425.8 727.6L425.7 727.9L425.6 728.1L425.6 728.3L425.5 728.6L425.5 728.9L425.5 729.1L425.6 729.4L425.6 729.6L425.7 729.9L425.8 730.1L425.9 730.3L426.1 730.5L426.2 730.7L426.4 730.9L426.6 731L426.8 731.1L427 731.2L427.3 731.3L427.5 731.4L460.1 737.9L460.3 738L460.6 738L460.8 738L461.1 737.9L461.3 737.9L461.5 737.8L461.8 737.7L462 737.5L462.2 737.4L462.4 737.2L462.5 737L462.7 736.8L462.8 736.6L462.9 736.4L463 736.2L463 735.9L463.3 734.5L463.3 734.4L463.6 732.7L463.6 732.7L463.8 731L463.8 730.9L463.9 730.1L463.9 729.8L463.9 729.6L463.8 729.4L463.8 729.1L463.7 728.9L463.6 728.7L463.5 728.5L463.3 728.3L463.2 728.1L463 727.9L462.8 727.8L462.6 727.7L462.4 727.6L462.2 727.5L461.9 727.4L461.7 727.4L461.5 727.4ZM420 736.2L419.9 736.4L419.9 736.7L419.8 736.9L419.9 737.2L419.9 737.4L419.9 737.7L420 737.9L420.1 738.1L420.3 738.4L420.4 738.6L420.6 738.7L420.7 738.9L420.9 739.1L421.2 739.2L421.4 739.3L454.6 753.2L454.8 753.3L455 753.3L455.2 753.4L455.5 753.4L455.7 753.4L456 753.3L456.2 753.3L456.4 753.2L456.6 753.1L456.8 753L457 752.9L457.2 752.7L457.4 752.6L457.5 752.4L457.7 752.2L457.8 752L458.1 751.2L458.2 751.2L458.9 749.6L458.9 749.5L459.5 748L459.6 747.9L460.2 746.3L460.2 746.2L460.7 744.6L460.8 744.6L461 743.7L461.1 743.5L461.1 743.2L461.2 743L461.2 742.7L461.1 742.5L461.1 742.3L461 742L460.9 741.8L460.8 741.6L460.6 741.4L460.4 741.2L460.3 741L460.1 740.9L459.9 740.8L459.6 740.6L459.4 740.6L459.2 740.5L423.2 733.3L423 733.2L422.7 733.2L422.5 733.2L422.2 733.3L422 733.3L421.8 733.4L421.5 733.5L421.3 733.7L421.1 733.8L420.9 734L420.8 734.2L420.6 734.4L420.5 734.6L420.4 734.8L420.3 735L420.3 735.2L420.3 735.3L420 736L420 736ZM398 732.4L397.8 732.4L397.6 732.3L397.3 732.3L397.1 732.2L396.8 732.3L396.6 732.3L396.3 732.4L396.1 732.4L395.9 732.5L395.7 732.7L395.5 732.8L395.3 733L395.1 733.2L395 733.4L394.8 733.6L394.7 733.8L394.7 734.1L394.6 734.3L394.6 734.5L394.6 734.8L394.6 735L394.6 735.3L394.7 735.5L394.8 735.8L394.9 736L395 736.2L395.2 736.4L395.3 736.6L432.6 771.7L432.8 771.9L433 772L433.3 772.2L433.5 772.3L433.7 772.3L434 772.4L434.2 772.4L434.5 772.4L434.7 772.4L435 772.3L435.2 772.3L435.5 772.2L435.7 772L435.9 771.9L436.1 771.7L436.3 771.5L436.8 770.9L436.9 770.8L438.4 768.9L438.4 768.9L439.8 767L439.9 766.9L441.2 765L441.3 764.9L442.6 762.9L442.6 762.8L443.8 760.8L443.9 760.7L445 758.7L445.1 758.6L446.2 756.5L446.2 756.4L446.6 755.6L446.7 755.4L446.8 755.1L446.8 754.9L446.8 754.6L446.8 754.4L446.8 754.1L446.8 753.9L446.7 753.7L446.6 753.4L446.4 753.2L446.3 753L446.1 752.8L445.9 752.6L445.7 752.5L445.5 752.4L445.3 752.2ZM446.4 752.7L446.1 752.6L445.9 752.5L445.7 752.5L445.4 752.5L445.2 752.5L444.9 752.5L444.7 752.6L444.5 752.7L444.2 752.8L444 752.9L443.8 753.1L443.7 753.2L443.5 753.4L443.3 753.6L443.2 753.8L443.1 754L443 754.3L443 754.5L442.9 754.7L442.9 755L442.9 755.2L443 755.5L443 755.7L443.1 755.9L443.2 756.2L443.3 756.4L443.5 756.6L443.6 756.7L443.8 756.9L444 757.1L444.2 757.2L450.2 760.5L450.4 760.6L450.7 760.7L450.9 760.7L451.1 760.8L451.4 760.8L451.6 760.8L451.9 760.7L452.1 760.7L452.4 760.6L452.6 760.5L452.8 760.3L453 760.2L453.2 760L453.4 759.8L453.5 759.6L453.9 759L453.9 759L453.9 759L454 758.8L454.1 758.5L454.2 758.3L454.3 758.1L454.3 757.8L454.3 757.6L454.3 757.4L454.2 757.1L454.2 756.9L454.1 756.7L454 756.5L453.9 756.3L453.7 756.1L453.5 755.9L453.4 755.7L453.2 755.6L453 755.5L452.8 755.4ZM412.9 749.9L412.7 750.1L412.6 750.3L412.5 750.6L412.4 750.8L412.4 751L412.3 751.3L412.3 751.5L412.3 751.8L412.4 752L412.4 752.3L412.5 752.5L412.7 752.7L412.8 752.9L412.9 753.1L413.1 753.3L436.4 775.3L436.6 775.5L436.8 775.6L437 775.7L437.2 775.8L437.5 775.9L437.7 775.9L438 776L438.2 776L438.5 776L438.7 775.9L438.9 775.8L439.2 775.7L439.4 775.6L439.6 775.5L439.8 775.3L441 774.3L441 774.2L442.4 773L442.4 773L443.7 771.8L443.7 771.7L445 770.4L445 770.4L446.2 769.1L446.3 769.1L447.4 767.7L447.5 767.7L448.6 766.4L448.6 766.3L448.8 766.1L448.9 765.9L449 765.7L449.1 765.5L449.2 765.3L449.3 765L449.3 764.8L449.3 764.6L449.3 764.3L449.3 764.1L449.2 763.8L449.1 763.6L449 763.4L448.9 763.2L448.8 763L448.6 762.8L448.4 762.6L448.2 762.5L448 762.4L418.4 746.1L418.1 746L417.9 745.9L417.7 745.8L417.4 745.8L417.2 745.8L416.9 745.8L416.7 745.8L416.4 745.9L416.2 746L416 746.1L415.8 746.2L415.6 746.4L415.4 746.5L415.2 746.7L415.1 746.9L414.9 747.2L414.9 747.2L414.3 748L414.3 748.1L413.7 748.8L413.7 748.9L413.1 749.6L413.1 749.7ZM394.3 739.2L394.1 739.1L393.9 738.9L393.7 738.8L393.4 738.7L393.2 738.7L393 738.6L392.7 738.6L392.5 738.6L392.3 738.6L392 738.6L391.8 738.7L391.6 738.8L391.3 738.9L391.1 739L390.9 739.1L390.8 739.3L390.6 739.5L390.5 739.7L390.3 739.9L390.2 740.1L390.2 740.3L390.1 740.6L390.1 740.8L390 741L390 741.3L390.1 741.5L390.1 741.7L390.2 742L390.3 742.2L400.7 762.6L400.9 762.9L401 763L401.2 763.2L401.3 763.4L401.5 763.5L401.7 763.7L402 763.8L402.2 763.9L402.4 763.9L402.7 764L402.9 764L403.1 764L403.4 764L403.6 763.9L403.8 763.8L404.1 763.8L404.3 763.6L404.6 763.4L404.7 763.4L405.9 762.6L405.9 762.6L407.1 761.8L407.1 761.7L408.3 760.9L408.3 760.8L409.4 759.9L409.5 759.9L410.6 759L410.6 758.9L410.9 758.7L411.1 758.5L411.2 758.3L411.4 758.1L411.5 757.9L411.6 757.7L411.7 757.4L411.7 757.2L411.7 757L411.7 756.7L411.7 756.5L411.7 756.2L411.6 756L411.5 755.8L411.4 755.6L411.3 755.4L411.1 755.2L411 755ZM409.9 763L409.7 763.2L409.5 763.4L409.4 763.6L409.2 763.8L409.1 764L409 764.2L409 764.5L408.9 764.7L408.9 765L408.9 765.2L409 765.5L409 765.7L409.1 765.9L409.2 766.2L409.3 766.4L421.5 784.7L421.6 784.9L421.8 785.1L421.9 785.3L422.1 785.4L422.4 785.5L422.6 785.6L422.8 785.7L423 785.8L423.3 785.8L423.5 785.8L423.8 785.8L424 785.8L424.2 785.7L424.5 785.6L424.7 785.5L425.7 785L425.8 785L427.4 784.1L427.4 784.1L429 783.1L429.1 783.1L430.6 782.2L430.7 782.1L432.2 781.1L432.2 781.1L433.4 780.3L433.6 780.2L433.8 780L433.9 779.8L434.1 779.6L434.2 779.4L434.3 779.2L434.4 778.9L434.4 778.7L434.5 778.4L434.5 778.2L434.4 777.9L434.4 777.7L434.3 777.5L434.3 777.2L434.1 777L434 776.8L433.9 776.6L433.7 776.4L416.6 760.3L416.4 760.1L416.2 760L416 759.9L415.7 759.8L415.5 759.7L415.2 759.6L415 759.6L414.8 759.6L414.5 759.6L414.3 759.7L414 759.8L413.8 759.8L413.6 760L413.4 760.1L413.2 760.3L412.8 760.6L412.7 760.7L412 761.3L412 761.3L411.2 762L411.1 762L410.3 762.7L410.3 762.7ZM415.5 780.7L415.4 780.5L415.2 780.3L415.1 780.1L414.9 780L414.7 779.8L414.4 779.7L414.2 779.7L414 779.6L413.7 779.6L413.5 779.5L413.2 779.6L413 779.6L412.8 779.6L412.5 779.7L412.3 779.8L412.1 779.9L411.9 780.1L411.7 780.3L411.5 780.4L411.4 780.6L411.3 780.8L411.2 781.1L411.1 781.3L411 781.5L411 781.8L411 782L411 782.2L411 782.5L411.1 782.7L411.1 783L411.2 783.2L413.7 788L413.8 788.2L413.9 788.4L414.1 788.6L414.3 788.7L414.5 788.9L414.7 789L414.9 789.1L415.1 789.2L415.4 789.3L415.6 789.3L415.8 789.3L416.1 789.3L416.3 789.3L416.6 789.2L416.8 789.2L417.1 789L417.1 789L417.4 788.9L417.6 788.8L417.9 788.7L418 788.5L418.2 788.4L418.4 788.2L418.5 788L418.7 787.8L418.8 787.6L418.9 787.3L418.9 787.1L419 786.8L419 786.6L419 786.4L418.9 786.1L418.9 785.9L418.8 785.6L418.7 785.4L418.6 785.2ZM385.6 739L385.5 738.8L385.4 738.6L385.2 738.4L385.1 738.2L384.9 738.1L384.7 738L384.4 737.8L384.2 737.8L384 737.7L383.8 737.7L383.5 737.6L383.3 737.6L383 737.7L382.8 737.7L382.6 737.8L382.3 737.9L382.1 738L381.9 738.1L381.7 738.3L381.6 738.4L381.4 738.6L381.3 738.8L381.2 739L381.1 739.3L381 739.5L381 739.7L380.9 740L380.9 740.2L381.8 767.1L381.8 767.3L381.9 767.6L381.9 767.8L382 768L382.1 768.3L382.3 768.5L382.4 768.7L382.6 768.8L382.8 769L383 769.1L383.2 769.2L383.4 769.3L383.7 769.4L383.9 769.5L384.2 769.5L384.4 769.5L384.6 769.5L386.1 769.3L386.2 769.3L387.9 769L388 769L389.7 768.6L389.8 768.6L391.6 768.1L391.6 768.1L393.3 767.6L393.4 767.5L395.1 767L395.2 766.9L396.6 766.4L396.8 766.3L397 766.2L397.2 766L397.4 765.9L397.5 765.7L397.7 765.5L397.8 765.3L397.9 765.1L398 764.9L398.1 764.6L398.1 764.4L398.1 764.1L398.1 763.9L398.1 763.6L398 763.4L398 763.2L397.9 762.9ZM402 771L401.8 770.8L401.7 770.6L401.5 770.4L401.4 770.2L401.2 770.1L401 769.9L400.8 769.8L400.5 769.7L400.3 769.7L400.1 769.6L399.8 769.6L399.6 769.6L399.3 769.6L399.1 769.7L398.9 769.8L398.7 769.9L398.4 770L398.2 770.1L398.1 770.3L397.9 770.4L397.7 770.6L397.6 770.8L397.5 771L397.4 771.3L397.3 771.5L397.3 771.7L397.2 772L397.2 772.2L397.3 772.4L397.3 772.7L397.4 772.9L403.5 790.9L403.6 791.1L403.7 791.3L403.8 791.5L404 791.7L404.1 791.9L404.3 792.1L404.5 792.2L404.8 792.3L405 792.4L405.2 792.5L405.5 792.5L405.7 792.6L406 792.6L406.2 792.5L406.5 792.5L408 792.1L408 792.1L409.2 791.7L409.4 791.7L409.7 791.6L409.9 791.4L410.1 791.3L410.3 791.1L410.4 790.9L410.6 790.8L410.7 790.5L410.8 790.3L410.9 790.1L411 789.9L411 789.6L411 789.4L411 789.1L411 788.9L410.9 788.6L410.9 788.4L410.8 788.2ZM384 764.2L383.7 764.2L383.5 764.3L383.3 764.4L383.1 764.5L382.8 764.6L382.7 764.8L382.5 764.9L382.3 765.1L382.2 765.3L382.1 765.5L382 765.8L381.9 766L381.8 766.2L381.8 766.5L381.8 766.7L382.7 792.7L382.7 793L382.7 793.2L382.8 793.4L382.9 793.7L383 793.9L383.1 794.1L383.3 794.3L383.4 794.5L383.6 794.6L383.8 794.8L384 794.9L384.2 795L384.5 795.1L384.7 795.1L384.9 795.1L385.2 795.1L386.9 795.1L387 795.1L388.9 795.1L388.9 795.1L390.8 795L390.9 795L392.7 794.8L392.8 794.8L394.7 794.6L394.7 794.6L396.6 794.4L396.7 794.4L398.5 794.1L398.6 794.1L398.6 794.1L398.9 794L399.1 794L399.3 793.9L399.5 793.7L399.7 793.6L399.9 793.5L400.1 793.3L400.2 793.1L400.4 792.9L400.5 792.7L400.6 792.5L400.7 792.2L400.7 792L400.7 791.8L400.7 791.5L400.7 791.3L400.7 791L400.6 790.8L391.8 764.9L391.7 764.7L391.6 764.5L391.5 764.3L391.3 764.1L391.1 763.9L391 763.7L390.8 763.6L390.5 763.5L390.3 763.4L390.1 763.3L389.8 763.2L389.6 763.2L389.3 763.2L389.1 763.2L388.9 763.3L388.1 763.5L388 763.5L387 763.7L387 763.7L385.9 763.9L385.9 763.9L384.8 764.1L384.8 764.1ZM370.3 764.6L370.3 764.8L370.2 765L370.2 765.3L370.3 765.5L370.3 765.8L370.4 766L370.5 766.2L370.6 766.4L370.7 766.6L370.9 766.8L371.1 767L371.2 767.1L371.4 767.3L371.7 767.4L371.9 767.5L372.1 767.6L372.4 767.6L372.7 767.7L372.8 767.7L373.8 767.8L373.9 767.8L374.9 767.9L375 767.9L376 768L376.1 768L376.4 768L376.7 768L376.9 768L377.1 768L377.4 767.9L377.6 767.8L377.8 767.7L378 767.6L378.2 767.4L378.4 767.2L378.5 767L378.7 766.8L378.8 766.6L378.9 766.4L379 766.2L379 765.9L379.1 765.7L379.1 765.5L378.6 751.3L378.6 751L378.5 750.8L378.5 750.5L378.4 750.3L378.2 750.1L378.1 749.9L378 749.7L377.8 749.5L377.6 749.3L377.4 749.2L377.2 749.1L376.9 749L376.7 748.9L376.5 748.9L376.2 748.8L376 748.8L375.7 748.9L375.5 748.9L375.2 749L375 749.1L374.8 749.2L374.6 749.3L374.4 749.5L374.2 749.7L374.1 749.9L373.9 750.1L373.8 750.3L373.7 750.5L373.7 750.8ZM372.4 791.8L372.4 792L372.4 792.2L372.4 792.5L372.5 792.7L372.6 793L372.7 793.2L372.8 793.4L372.9 793.6L373.1 793.8L373.3 793.9L373.5 794.1L373.7 794.2L373.9 794.3L374.1 794.4L374.3 794.5L374.6 794.5L375.3 794.6L375.3 794.6L377.2 794.8L377.4 794.8L377.7 794.8L377.9 794.8L378.2 794.7L378.4 794.6L378.6 794.5L378.9 794.4L379.1 794.2L379.2 794.1L379.4 793.9L379.6 793.7L379.7 793.4L379.8 793.2L379.9 793L379.9 792.7L379.9 792.5L379.9 792.2L379.4 774.8L379.3 774.6L379.3 774.4L379.2 774.1L379.1 773.9L379 773.7L378.9 773.5L378.7 773.3L378.6 773.1L378.4 772.9L378.2 772.8L377.9 772.7L377.7 772.6L377.5 772.5L377.2 772.5L377 772.4L376.7 772.4L376.5 772.5L376.2 772.5L376 772.6L375.8 772.7L375.5 772.8L375.3 773L375.2 773.1L375 773.3L374.8 773.5L374.7 773.7L374.6 773.9L374.5 774.2L374.4 774.4L374.4 774.6ZM364.1 790L364.1 790.3L364.1 790.5L364.1 790.8L364.1 791L364.1 791.3L364.2 791.5L364.3 791.7L364.4 792L364.6 792.2L364.7 792.4L364.9 792.5L365.1 792.7L365.3 792.8L365.6 792.9L365.8 793L366 793.1L366.8 793.2L367 793.3L367.2 793.3L367.5 793.3L367.7 793.2L368 793.2L368.2 793.1L368.4 793L368.6 792.9L368.8 792.7L369 792.6L369.2 792.4L369.3 792.2L369.5 792L369.6 791.8L369.7 791.5L369.7 791.3L369.8 791.1L370.5 785L370.5 784.8L370.5 784.5L370.4 784.3L370.4 784.1L370.3 783.8L370.2 783.6L370.1 783.4L370 783.2L369.8 783L369.6 782.8L369.4 782.7L369.2 782.6L369 782.5L368.8 782.4L368.5 782.3L368.3 782.3L368.1 782.2L367.8 782.2L367.6 782.3L367.3 782.3L367.1 782.4L366.9 782.5L366.7 782.6L366.5 782.7L366.3 782.9L366.1 783.1L366 783.3L365.8 783.5L365.7 783.7L365.6 783.9L365.6 784.1ZM352.7 755.6L352.6 755.8L352.4 756L352.3 756.3L352.2 756.5L352.2 756.7L352.1 757L352.1 757.2L352.1 757.5L352.1 757.7L352.2 757.9L352.3 758.2L352.4 758.4L352.5 758.6L352.6 758.8L352.8 759L353 759.2L353.2 759.3L354.5 760.2L354.6 760.3L356.1 761.2L356.2 761.3L357.8 762.2L357.8 762.2L359.5 763L359.6 763.1L361.2 763.9L361.3 763.9L363 764.6L363.1 764.6L364.5 765.1L364.8 765.2L365 765.3L365.3 765.3L365.5 765.3L365.8 765.3L366 765.2L366.2 765.1L366.5 765.1L366.7 764.9L366.9 764.8L367.1 764.6L367.2 764.5L367.4 764.3L367.5 764.1L367.6 763.8L367.7 763.6L367.8 763.4L371.5 748.1L371.6 747.8L371.6 747.6L371.6 747.3L371.6 747.1L371.5 746.8L371.4 746.6L371.3 746.4L371.2 746.1L371 745.9L370.9 745.7L370.7 745.6L370.5 745.4L370.3 745.3L370 745.2L369.5 745L369.4 744.9L368.6 744.5L368.5 744.5L367.6 744.1L367.6 744L366.7 743.6L366.7 743.5L366.2 743.2L366 743.1L365.7 743L365.5 742.9L365.2 742.9L365 742.8L364.7 742.8L364.5 742.9L364.2 742.9L364 743L363.8 743.1L363.5 743.2L363.3 743.4L363.1 743.5L363 743.7ZM348.4 784.2L348.3 784.4L348.2 784.6L348.1 784.8L348.1 785.1L348.1 785.3L348.1 785.6L348.1 785.8L348.2 786L348.2 786.3L348.3 786.5L348.5 786.7L348.6 786.9L348.8 787.1L348.9 787.2L349.1 787.4L349.3 787.5L349.6 787.6L351.1 788.3L351.1 788.3L352.9 789L352.9 789L354.6 789.7L354.7 789.7L356.4 790.4L356.5 790.4L358.3 791L358.3 791L358.4 791L358.6 791.1L358.8 791.1L359.1 791.1L359.3 791.1L359.6 791.1L359.8 791L360 790.9L360.2 790.8L360.5 790.7L360.7 790.6L360.8 790.4L361 790.3L361.1 790.1L361.3 789.9L361.4 789.7L361.5 789.4L361.5 789.2L366 770.9L366 770.7L366.1 770.4L366.1 770.2L366 769.9L366 769.7L365.9 769.4L365.8 769.2L365.7 769L365.5 768.8L365.4 768.6L365.2 768.4L365 768.3L364.8 768.1L364.6 768L364.3 767.9L363.8 767.8L363.8 767.7L362.8 767.4L362.8 767.4L361.8 767L361.8 767L360.8 766.6L360.8 766.6L360.3 766.4L360.1 766.3L359.8 766.3L359.6 766.2L359.3 766.2L359.1 766.2L358.8 766.2L358.6 766.3L358.4 766.4L358.1 766.5L357.9 766.6L357.7 766.8L357.5 766.9L357.4 767.1L357.2 767.3L357.1 767.5ZM335.2 776L335.1 776.1L334.9 776.4L334.8 776.6L334.7 776.8L334.7 777L334.6 777.3L334.6 777.5L334.6 777.8L334.6 778L334.7 778.2L334.8 778.5L334.9 778.7L335 778.9L335.1 779.1L335.3 779.3L335.5 779.5L335.6 779.6L336.2 780L336.3 780.1L337.8 781.1L337.8 781.1L339.3 782.1L339.4 782.2L340.9 783.1L341 783.1L342.4 784L342.7 784.1L342.9 784.2L343.1 784.3L343.4 784.3L343.6 784.3L343.9 784.3L344.1 784.3L344.4 784.2L344.6 784.2L344.9 784L345.1 783.9L345.3 783.8L345.5 783.6L345.6 783.4L345.8 783.2L345.9 783L357.4 761.2L357.5 761L357.6 760.7L357.6 760.5L357.7 760.3L357.7 760L357.7 759.8L357.6 759.5L357.6 759.3L357.5 759L357.4 758.8L357.2 758.6L357.1 758.4L356.9 758.2L356.7 758.1L356.5 757.9L356 757.6L356 757.6L355.3 757.1L355.3 757.1L354.8 756.7L354.6 756.6L354.3 756.5L354.1 756.4L353.9 756.3L353.6 756.3L353.4 756.3L353.1 756.3L352.9 756.3L352.6 756.3L352.4 756.4L352.2 756.5L352 756.6L351.8 756.8L351.6 756.9L351.4 757.1ZM348.2 741.7L348 741.9L347.8 742L347.6 742.2L347.4 742.4L347.3 742.6L347.1 742.8L347 743L347 743.3L346.9 743.5L346.9 743.7L346.9 744L346.9 744.2L346.9 744.5L347 744.7L347.1 744.9L347.2 745.2L347.3 745.4L347.8 746L347.8 746.1L348.6 747L348.6 747.1L349.3 748L349.4 748L350.1 748.9L350.2 749L350.7 749.5L350.9 749.7L351.1 749.9L351.3 750L351.5 750.1L351.8 750.2L352 750.3L352.2 750.3L352.5 750.3L352.7 750.3L353 750.3L353.2 750.2L353.5 750.2L353.7 750.1L353.9 749.9L354.1 749.8L354.3 749.6L354.5 749.5L363.8 738.5L364 738.4L364.1 738.1L364.2 737.9L364.3 737.7L364.4 737.4L364.4 737.2L364.4 736.9L364.4 736.7L364.4 736.5L364.3 736.2L364.3 736L364.2 735.8L364 735.5L363.9 735.3L363.7 735.2L363.5 735L363.3 734.8L363.1 734.7L362.9 734.6L362.7 734.5L362.4 734.5L362.2 734.4L361.9 734.4L361.7 734.4L361.4 734.5L361.2 734.5L361 734.6L360.7 734.7ZM318.7 758.1L318.5 758.3L318.3 758.4L318.2 758.6L318 758.8L317.9 759L317.7 759.2L317.6 759.4L317.6 759.6L317.5 759.9L317.5 760.1L317.5 760.4L317.5 760.6L317.5 760.8L317.6 761.1L317.7 761.3L317.8 761.5L317.9 761.7L318.1 762L318.1 762L319.1 763.4L319.2 763.5L320.2 764.9L320.3 764.9L321.4 766.3L321.4 766.4L322.5 767.7L322.6 767.7L323.7 769.1L323.8 769.1L325 770.4L325 770.4L325.1 770.5L325.3 770.7L325.5 770.9L325.7 771L325.9 771.1L326.2 771.2L326.4 771.2L326.7 771.3L326.9 771.3L327.1 771.3L327.4 771.2L327.6 771.2L327.9 771.1L328.1 771L328.3 770.9L328.5 770.7L328.7 770.6L340.6 758.9L340.8 758.7L340.9 758.5L341 758.3L341.1 758L341.2 757.8L341.3 757.6L341.3 757.3L341.3 757.1L341.3 756.8L341.3 756.6L341.2 756.3L341.1 756.1L341 755.9L340.9 755.7L340.7 755.5L340.7 755.5L340 754.5L340 754.5L339.2 753.6L339.2 753.5L338.5 752.6L338.5 752.6L337.8 751.6L337.8 751.6L337.1 750.6L337.1 750.6L336.9 750.4L336.8 750.2L336.6 750L336.4 749.9L336.2 749.7L335.9 749.6L335.7 749.5L335.5 749.5L335.2 749.5L335 749.4L334.7 749.5L334.5 749.5L334.2 749.6L334 749.7L333.8 749.8ZM310.5 739.7L310.3 739.8L310.1 739.9L309.9 740L309.7 740.1L309.5 740.3L309.3 740.4L309.1 740.6L309 740.8L308.9 741L308.8 741.2L308.7 741.5L308.6 741.7L308.6 741.9L308.6 742.2L308.6 742.4L308.6 742.7L308.7 742.9L308.7 742.9L308.7 743L309.2 744.6L309.3 744.6L309.8 746.2L309.8 746.3L310.4 747.9L310.5 748L311.1 749.5L311.1 749.6L311.8 751.2L311.9 751.2L312.6 752.8L312.6 752.8L313.4 754.3L313.4 754.4L313.7 754.9L313.9 755.2L314 755.4L314.2 755.5L314.4 755.7L314.6 755.8L314.8 756L315 756.1L315.2 756.2L315.5 756.2L315.7 756.2L316 756.3L316.2 756.2L316.5 756.2L316.7 756.1L316.9 756L317.2 755.9L355.1 734.8L355.3 734.6L355.5 734.5L355.7 734.3L355.9 734.1L356 733.9L356.1 733.7L356.2 733.5L356.3 733.3L356.4 733L356.4 732.8L356.4 732.5L356.4 732.3L356.4 732L356.3 731.8L356.2 731.6L356.1 731.3L356 731.1L355.8 730.9L355.6 730.8L355.5 730.6L355.3 730.5L355 730.3L354.8 730.2L354.6 730.2L354.4 730.1L354.1 730.1L353.9 730.1L353.6 730.1L353.4 730.1ZM313.4 747.9L313.1 748L312.9 748.1L312.7 748.3L312.5 748.4L312.3 748.6L312.2 748.8L312.1 749L311.9 749.2L311.8 749.5L311.8 749.7L311.7 749.9L311.7 750.2L311.7 750.4L311.7 750.7L311.8 750.9L311.8 751.1L311.9 751.4L312.6 752.8L312.6 752.8L313.4 754.3L313.4 754.4L313.7 754.9L313.9 755.2L314 755.4L314.2 755.5L314.4 755.7L314.6 755.8L314.8 756L315 756.1L315.2 756.2L315.5 756.2L315.7 756.2L316 756.3L316.2 756.2L316.5 756.2L316.7 756.1L316.9 756L317.2 755.9L335.2 745.9L335.5 745.7L335.6 745.6L335.8 745.4L336 745.2L336.1 745L336.3 744.8L336.4 744.6L336.4 744.3L336.5 744.1L336.5 743.8L336.5 743.6L336.5 743.3L336.5 743.1L336.4 742.9L336.3 742.6L336.1 742.2L336 742L335.9 741.8L335.7 741.6L335.5 741.4L335.4 741.3L335.1 741.1L334.9 741L334.7 740.9L334.5 740.8L334.2 740.8L334 740.8L333.7 740.8L333.5 740.8L333.2 740.8L333 740.9ZM310.5 739.7L310.3 739.8L310.1 739.9L309.9 740L309.7 740.1L309.5 740.3L309.3 740.4L309.1 740.6L309 740.8L308.9 741L308.8 741.2L308.7 741.5L308.6 741.7L308.6 741.9L308.6 742.2L308.6 742.4L308.6 742.7L308.7 742.9L308.7 742.9L308.7 743L309 743.9L309.1 744.1L309.2 744.3L309.3 744.6L309.5 744.8L309.7 744.9L309.9 745.1L310.1 745.2L310.3 745.4L310.5 745.5L310.8 745.5L311 745.6L311.2 745.6L311.5 745.6L311.7 745.6L312 745.5L312.2 745.5L319.7 742.8L319.9 742.7L320.2 742.6L320.4 742.5L320.5 742.3L320.7 742.1L320.9 741.9L321 741.7L321.1 741.5L321.2 741.3L321.3 741.1L321.3 740.8L321.4 740.6L321.4 740.3L321.3 740.1L321.3 739.9L321.2 739.6L321.1 739.4L321 739.2L320.9 739L320.7 738.8L320.6 738.6L320.4 738.5L320.2 738.3L320 738.2L319.8 738.1L319.5 738L319.3 738L319 737.9L318.8 737.9L318.6 738L318.3 738ZM336.9 728.2L336.9 728.5L337 728.7L337.1 729L337.2 729.2L337.3 729.4L337.5 729.6L337.6 729.8L337.8 729.9L338 730.1L338.2 730.2L338.5 730.3L338.7 730.4L338.9 730.4L339.2 730.4L339.4 730.5L339.7 730.4L339.9 730.4L355.7 726.9L355.9 726.8L356.1 726.7L356.4 726.6L356.6 726.4L356.8 726.3L357 726.1L357.1 725.9L357.3 725.7L357.4 725.5L357.5 725.2L357.5 725L357.6 724.7L357.6 724.5L357.6 724.2L357.6 724.1L357.6 724.1L357.6 723.2L357.6 723.2L357.6 722.3L357.6 722.3L357.6 721.4L357.6 721.4L357.6 721.3L357.7 721L357.6 720.8L357.6 720.5L357.5 720.3L357.4 720L357.3 719.8L357.2 719.6L357 719.4L356.9 719.2L356.7 719.1L356.5 718.9L356.2 718.8L356 718.7L355.8 718.6L340.1 714.7L339.8 714.7L339.6 714.7L339.4 714.7L339.1 714.7L338.9 714.7L338.6 714.8L338.4 714.9L338.2 715L338 715.1L337.8 715.3L337.6 715.5L337.5 715.7L337.3 715.9L337.2 716.1L337.1 716.3L337.1 716.6L337 716.8L336.8 718L336.8 718.1L336.7 719.8L336.7 719.9L336.6 721.6L336.6 721.7L336.5 723.4L336.5 723.5L336.6 725.2L336.6 725.3L336.7 726.9L336.7 727ZM308.5 727.2L308.3 727.2L308 727.3L307.8 727.4L307.6 727.4L307.4 727.6L307.2 727.7L307 727.8L306.8 728L306.7 728.2L306.5 728.4L306.4 728.6L306.3 728.8L306.2 729L306.2 729.2L306.1 729.5L306.1 729.7L306.1 730L306.2 730.9L306.2 731L306.4 732.7L306.4 732.7L306.7 734.4L306.7 734.5L306.8 735.1L306.9 735.4L307 735.6L307.1 735.9L307.2 736.1L307.4 736.3L307.5 736.5L307.7 736.6L307.9 736.8L308.1 736.9L308.4 737L308.6 737.1L308.8 737.2L309.1 737.2L309.3 737.2L309.6 737.2L309.8 737.1L332.4 732.1L332.6 732L332.8 731.9L333.1 731.8L333.3 731.7L333.5 731.5L333.6 731.4L333.8 731.2L333.9 731L334.1 730.7L334.2 730.5L334.2 730.3L334.3 730L334.3 729.8L334.3 729.5L334.3 729.3L334.3 729.3L334.3 729.2L334.2 728.5L334.2 728.5L334.2 728.5L334.1 728.3L334.1 728L334 727.8L333.9 727.6L333.7 727.3L333.6 727.1L333.4 727L333.2 726.8L333 726.7L332.8 726.5L332.6 726.4L332.3 726.4L332.1 726.3L331.8 726.3L331.6 726.3ZM305.9 721.9L305.9 722.2L305.9 722.4L306 722.6L306 722.9L306.1 723.1L306.2 723.3L306.4 723.5L306.5 723.7L306.7 723.9L306.9 724L307.1 724.2L307.3 724.3L307.5 724.4L307.8 724.4L308 724.5L308.2 724.5L308.5 724.5L329.5 723.7L329.8 723.6L330 723.6L330.3 723.5L330.5 723.4L330.7 723.3L330.9 723.2L331.1 723L331.3 722.9L331.4 722.7L331.6 722.5L331.7 722.2L331.8 722L331.9 721.8L331.9 721.5L331.9 721.3L332 720.1L332 720L332.1 718.9L332.1 718.8L332.2 717.6L332.2 717.6L332.4 716.4L332.4 716.4L332.5 715.2L332.5 715.2L332.6 715L332.6 714.7L332.6 714.5L332.5 714.2L332.4 714L332.4 713.8L332.2 713.5L332.1 713.3L331.9 713.1L331.8 713L331.6 712.8L331.4 712.7L331.2 712.6L330.9 712.5L330.7 712.4L310.6 707.4L310.4 707.4L310.1 707.3L309.9 707.3L309.6 707.4L309.4 707.4L309.2 707.5L308.9 707.6L308.7 707.7L308.5 707.8L308.3 708L308.1 708.2L308 708.4L307.8 708.6L307.7 708.8L307.6 709L307.6 709.3L307.4 710.1L307.4 710.2L307 711.8L307 711.9L306.7 713.5L306.7 713.6L306.4 715.3L306.4 715.3L306.2 717L306.2 717.1L306.1 718.7L306.1 718.8L305.9 720.5L305.9 720.6ZM340 709.1L339.9 709.3L339.8 709.6L339.8 709.8L339.8 710L339.8 710.3L339.9 710.5L340 710.8L340.1 711L340.2 711.2L340.3 711.4L340.5 711.6L340.6 711.8L340.8 711.9L341 712.1L341.3 712.2L341.5 712.3L341.7 712.3L354.9 715.6L355.1 715.7L355.4 715.7L355.6 715.7L355.8 715.7L356.1 715.6L356.3 715.5L356.5 715.4L356.8 715.3L357 715.2L357.2 715L357.3 714.9L357.5 714.7L357.6 714.5L357.7 714.3L357.8 714L357.9 713.8L357.9 713.6L358 713.3L358 713.1L358 712.8L357.9 712.6L357.8 712.4L357.7 712.1L357.6 711.9L357.5 711.7L357.3 711.5L357.2 711.3L357 711.2L356.8 711.1L345.2 704L345 703.9L344.8 703.8L344.5 703.7L344.3 703.7L344 703.6L343.8 703.6L343.6 703.7L343.3 703.7L343.1 703.8L342.8 703.9L342.6 704L342.4 704.1L342.2 704.3L342.1 704.4L341.9 704.6L341.8 704.8L341.6 705.1L341.5 705.4L341.4 705.5L341 706.5L341 706.6L340.5 707.5L340.5 707.6L340.1 708.6L340.1 708.7ZM313 694.6L312.9 694.8L312.8 695L312.7 695.3L312.7 695.5L312.7 695.8L312.7 696L312.7 696.2L312.8 696.5L312.9 696.7L313 696.9L313.2 697.1L313.3 697.3L313.5 697.5L313.7 697.7L313.9 697.8L314.1 697.9L314.3 698L336 705.9L336.2 706L336.5 706L336.7 706.1L337 706.1L337.2 706L337.5 706L337.7 705.9L337.9 705.8L338.2 705.7L338.4 705.6L338.5 705.4L338.7 705.2L338.9 705L339 704.8L339.1 704.6L339.2 704.4L339.3 704.3L339.6 703.6L339.6 703.6L339.7 703.4L339.8 703.1L339.9 702.9L340 702.7L340 702.4L340 702.2L340 701.9L339.9 701.7L339.9 701.4L339.8 701.2L339.7 701L339.5 700.8L339.4 700.6L339.2 700.4L339 700.2L338.8 700.1L319.4 688.3L319.2 688.2L319 688.1L318.8 688L318.5 688L318.3 688L318 688L317.8 688L317.5 688L317.3 688.1L317.1 688.2L316.9 688.3L316.7 688.4L316.5 688.6L316.3 688.8L316.1 688.9L316 689.2L315.2 690.5L315.2 690.5L314.3 692L314.3 692.1L313.4 693.6L313.4 693.7ZM341.8 695.6L341.6 695.8L341.5 696L341.4 696.2L341.4 696.5L341.3 696.7L341.3 696.9L341.3 697.2L341.3 697.4L341.4 697.7L341.4 697.9L341.5 698.1L341.6 698.3L341.8 698.5L341.9 698.7L342.1 698.9L342.3 699.1L342.5 699.2L362.1 711.1L362.3 711.3L362.5 711.3L362.8 711.4L363 711.5L363.3 711.5L363.5 711.5L363.8 711.5L364 711.4L364.2 711.4L364.5 711.3L364.7 711.1L364.9 711L365.1 710.8L365.3 710.7L365.4 710.5L365.6 710.3L365.7 710.1L365.8 709.8L365.8 709.6L365.9 709.3L365.9 709.1L365.9 708.8L365.9 708.6L365.8 708.4L365.7 708.1L365.6 707.9L365.5 707.7L365.4 707.5L351.4 689.3L351.2 689.1L351.1 688.9L350.9 688.7L350.7 688.6L350.5 688.5L350.2 688.4L350 688.3L349.8 688.3L349.5 688.3L349.3 688.3L349 688.3L348.8 688.4L348.6 688.4L348.3 688.5L348.1 688.6L347.9 688.8L347.7 688.9L347.3 689.3L347.3 689.4L346.2 690.4L346.2 690.4L345.1 691.5L345.1 691.6L344.1 692.7L344 692.7L343.1 693.8L343 693.9L342.1 695.1L342.1 695.1ZM320.6 682.6L320.5 682.8L320.4 683L320.3 683.2L320.2 683.5L320.1 683.7L320.1 684L320.1 684.2L320.1 684.5L320.2 684.7L320.2 685L320.3 685.2L320.4 685.4L320.6 685.6L320.7 685.8L320.9 686L321.1 686.2L321.3 686.3L335.9 695.2L336.1 695.3L336.3 695.4L336.6 695.5L336.8 695.5L337.1 695.5L337.3 695.5L337.6 695.5L337.8 695.5L338 695.4L338.3 695.3L338.5 695.2L338.7 695L338.9 694.9L339.1 694.7L339.2 694.5L339.3 694.4L339.3 694.4L339.8 693.6L339.8 693.6L340.4 692.9L340.4 692.9L341 692.2L341 692.1L341.1 692.1L341.2 691.9L341.3 691.6L341.5 691.4L341.5 691.2L341.6 690.9L341.6 690.7L341.6 690.4L341.6 690.2L341.6 689.9L341.5 689.7L341.4 689.5L341.3 689.2L341.2 689L341 688.8L340.9 688.7L328.8 677.2L328.6 677.1L328.4 676.9L328.2 676.8L328 676.7L327.8 676.6L327.5 676.6L327.3 676.5L327 676.5L326.8 676.6L326.6 676.6L326.3 676.7L326.1 676.7L325.9 676.8L325.7 677L325.5 677.1L325.3 677.3L325 677.6L325 677.6L323.8 678.9L323.7 678.9L322.6 680.3L322.5 680.3L321.4 681.6L321.4 681.7ZM331.1 671.9L331 672L330.8 672.2L330.7 672.4L330.5 672.6L330.4 672.9L330.3 673.1L330.3 673.3L330.3 673.6L330.2 673.8L330.3 674.1L330.3 674.3L330.4 674.6L330.5 674.8L330.6 675L330.7 675.2L330.9 675.4L331 675.6L344.4 688.3L344.6 688.5L344.8 688.6L345 688.7L345.2 688.8L345.5 688.9L345.7 689L346 689L346.2 689L346.5 689L346.7 688.9L346.9 688.8L347.2 688.8L347.4 688.6L347.6 688.5L347.8 688.3L348 688.2L348.1 688L348.3 687.8L348.4 687.6L348.5 687.3L348.6 687.1L348.6 686.8L348.6 686.6L348.6 686.3L348.6 686.1L348.5 685.9L348.5 685.6L348.4 685.4L348.3 685.2L348.1 685L337 670.5L336.8 670.3L336.6 670.1L336.5 669.9L336.2 669.8L336 669.7L335.8 669.6L335.6 669.5L335.3 669.5L335.1 669.5L334.8 669.5L334.6 669.5L334.4 669.6L334.1 669.6L333.9 669.7L333.7 669.8L333.5 670L333.3 670.2L333.2 670.2L331.8 671.3L331.8 671.3ZM340 665.5L339.8 665.6L339.6 665.8L339.5 665.9L339.3 666.1L339.2 666.3L339.1 666.6L339 666.8L338.9 667L338.9 667.3L338.8 667.5L338.8 667.8L338.9 668L338.9 668.2L339 668.5L339.1 668.7L339.2 668.9L339.4 669.1L366.7 704.7L366.8 704.9L367 705.1L367.2 705.2L367.4 705.4L367.6 705.5L367.9 705.6L368.1 705.6L368.4 705.7L368.6 705.7L368.9 705.7L369.1 705.7L369.3 705.6L369.6 705.5L369.8 705.4L370 705.3L370.2 705.1L370.4 705L370.6 704.8L370.7 704.6L370.9 704.4L371 704.1L371 703.9L371.1 703.7L371.1 703.4L371.2 703.2L371.1 702.9L371.1 702.7L371 702.4L357.5 660L357.4 659.8L357.3 659.6L357.2 659.4L357.1 659.2L356.9 659L356.7 658.8L356.5 658.7L356.3 658.6L356.1 658.5L355.9 658.4L355.7 658.3L355.4 658.3L355.2 658.3L354.9 658.3L354.7 658.3L354.5 658.4L354.2 658.4L352.9 659L352.9 659L351.1 659.7L351.1 659.7L349.4 660.5L349.3 660.5L347.7 661.3L347.6 661.3L346 662.1L345.9 662.1L344.3 663L344.2 663L342.6 663.9L342.6 663.9L341 664.9L340.9 664.9ZM340 665.5L339.8 665.6L339.6 665.8L339.5 665.9L339.3 666.1L339.2 666.3L339.1 666.6L339 666.8L338.9 667L338.9 667.3L338.8 667.5L338.8 667.8L338.9 668L338.9 668.2L339 668.5L339.1 668.7L339.2 668.9L339.4 669.1L343.5 674.5L343.6 674.7L343.8 674.8L344 675L344.2 675.1L344.4 675.2L344.6 675.3L344.9 675.4L345.1 675.4L345.3 675.4L345.6 675.4L345.8 675.4L346.1 675.4L346.3 675.3L346.5 675.2L346.7 675.1L346.9 675L347.1 674.8L347.3 674.6L347.5 674.4L347.6 674.2L347.7 674L347.8 673.8L347.9 673.6L347.9 673.3L347.9 673.1L347.9 672.8L347.9 672.6L347.9 672.4L347.8 672.1L347.7 671.9L347.6 671.7L344.2 665.9L344.1 665.7L343.9 665.5L343.8 665.3L343.6 665.1L343.4 665L343.1 664.9L342.9 664.8L342.7 664.7L342.4 664.7L342.2 664.6L341.9 664.6L341.7 664.7L341.4 664.7L341.2 664.8L341 664.9L340.8 665ZM347.8 661.2L347.6 661.3L347.4 661.5L347.2 661.6L347 661.8L346.8 662L346.7 662.2L346.6 662.4L346.5 662.6L346.4 662.8L346.4 663.1L346.3 663.3L346.3 663.6L346.4 663.8L346.4 664.1L346.5 664.3L346.6 664.5L346.7 664.7L354.7 678.5L354.8 678.7L355 678.9L355.1 679.1L355.3 679.2L355.5 679.4L355.8 679.5L356 679.6L356.2 679.7L356.5 679.7L356.7 679.7L357 679.7L357.2 679.7L357.5 679.6L357.7 679.6L357.9 679.5L358.1 679.4L358.1 679.4L358.9 679L359 679L359.8 678.6L359.8 678.6L360.7 678.2L360.7 678.2L360.9 678.2L361.1 678.1L361.3 677.9L361.5 677.8L361.7 677.6L361.9 677.4L362 677.2L362.2 677L362.3 676.8L362.3 676.6L362.4 676.3L362.4 676.1L362.4 675.8L362.4 675.6L362.4 675.3L362.3 675.1L357.5 660L357.4 659.8L357.3 659.6L357.2 659.4L357.1 659.2L356.9 659L356.7 658.8L356.5 658.7L356.3 658.6L356.1 658.5L355.9 658.4L355.7 658.3L355.4 658.3L355.2 658.3L354.9 658.3L354.7 658.3L354.5 658.4L354.2 658.4L352.9 659L352.9 659L351.1 659.7L351.1 659.7L349.4 660.5L349.3 660.5ZM370.3 682.1L370 682.1L369.8 682.2L369.6 682.3L369.4 682.4L369.2 682.6L369 682.8L368.8 682.9L368.7 683.1L368.6 683.4L368.5 683.6L368.4 683.8L368.3 684L368.3 684.3L368.3 684.5L368.3 684.8L368.3 685L368.4 685.3L373 699.9L373.1 700.1L373.2 700.3L373.4 700.5L373.5 700.7L373.7 700.9L373.9 701.1L374.1 701.2L374.3 701.3L374.5 701.4L374.8 701.5L375 701.6L375.3 701.6L375.5 701.6L375.8 701.6L376.6 701.5L376.6 701.5L377.4 701.4L377.5 701.4L378.3 701.3L378.3 701.3L378.5 701.3L378.8 701.3L379 701.2L379.2 701.1L379.5 701L379.7 700.9L379.9 700.7L380 700.5L380.2 700.3L380.3 700.1L380.5 699.9L380.6 699.7L380.6 699.4L380.7 699.2L382.6 684L382.6 683.7L382.6 683.5L382.6 683.2L382.5 683L382.4 682.8L382.3 682.5L382.2 682.3L382.1 682.1L381.9 681.9L381.8 681.8L381.6 681.6L381.4 681.5L381.1 681.4L380.9 681.3L380.7 681.2L380.4 681.2L380.2 681.2L379.4 681.1L379.3 681.1L377.7 681.1L377.6 681.2L376.1 681.2L376 681.2L374.4 681.4L374.3 681.4L372.8 681.6L372.7 681.6L371.2 681.9L371.1 681.9ZM361.8 656L361.5 656.1L361.3 656.2L361.1 656.3L360.9 656.4L360.7 656.6L360.5 656.8L360.4 657L360.3 657.2L360.2 657.4L360.1 657.7L360 657.9L360 658.2L360 658.4L360 658.7L360 658.9L360.1 659.1L366.1 677.9L366.1 678.1L366.3 678.3L366.4 678.6L366.5 678.7L366.7 678.9L366.9 679.1L367.1 679.2L367.3 679.4L367.5 679.5L367.8 679.5L368 679.6L368.2 679.6L368.5 679.6L368.7 679.6L369 679.6L369.6 679.4L369.6 679.4L370.5 679.3L370.5 679.2L371.1 679.1L371.4 679.1L371.6 679L371.8 678.9L372 678.8L372.2 678.6L372.4 678.5L372.6 678.3L372.7 678.1L372.9 677.9L373 677.6L373.1 677.4L373.1 677.2L373.2 676.9L373.2 676.7L373.2 676.4L371.3 656.7L371.2 656.4L371.2 656.2L371.1 656L371 655.7L370.9 655.5L370.7 655.3L370.5 655.2L370.4 655L370.2 654.8L370 654.7L369.7 654.6L369.5 654.5L369.3 654.5L369 654.4L368.8 654.4L368.5 654.4L368.3 654.5L367.7 654.6L367.6 654.6L365.8 655L365.7 655L363.9 655.4L363.8 655.4L362 655.9L362 655.9ZM376.1 653.3L375.9 653.3L375.7 653.4L375.4 653.5L375.2 653.6L375 653.7L374.8 653.9L374.6 654L374.5 654.2L374.3 654.4L374.2 654.6L374.1 654.8L374 655.1L373.9 655.3L373.9 655.5L373.9 655.8L373.9 656L375.5 673L375.6 673.2L375.6 673.5L375.7 673.7L375.8 673.9L376 674.2L376.1 674.4L376.3 674.5L376.5 674.7L376.7 674.9L376.9 675L377.1 675.1L377.4 675.2L377.6 675.2L377.8 675.3L378.1 675.3L378.3 675.3L378.3 675.3L379.2 675.2L379.3 675.2L380.2 675.3L380.2 675.3L381.2 675.3L381.2 675.3L381.3 675.3L381.6 675.3L381.8 675.3L382.1 675.2L382.3 675.2L382.6 675.1L382.8 674.9L383 674.8L383.2 674.6L383.4 674.5L383.5 674.3L383.6 674.1L383.8 673.8L383.9 673.6L383.9 673.4L384 673.1L386.2 655.7L386.2 655.4L386.2 655.2L386.2 654.9L386.1 654.7L386 654.4L385.9 654.2L385.8 654L385.6 653.8L385.5 653.6L385.3 653.4L385.1 653.3L384.9 653.2L384.7 653.1L384.4 653L384.2 652.9L383.9 652.9L383.7 652.9L383.1 652.9L383 652.9L381.1 652.9L381.1 652.9L379.2 653L379.1 653L377.3 653.2L377.2 653.2ZM384.3 692L384.3 692.2L384.3 692.4L384.3 692.7L384.4 692.9L384.4 693.1L384.5 693.4L384.6 693.6L384.8 693.8L384.9 693.9L385.1 694.1L385.3 694.3L385.5 694.4L385.7 694.5L385.9 694.6L386.1 694.7L386.9 694.9L386.9 694.9L387.7 695.1L387.8 695.1L388.5 695.4L388.8 695.5L389 695.5L389.2 695.5L389.5 695.5L389.7 695.5L389.9 695.4L390.2 695.4L390.4 695.3L390.6 695.2L390.8 695L391 694.9L391.2 694.7L391.3 694.5L391.4 694.3L391.6 694.1L396.2 684.7L396.3 684.4L396.3 684.2L396.4 684L396.4 683.7L396.4 683.5L396.4 683.2L396.3 683L396.3 682.7L396.2 682.5L396.1 682.3L395.9 682.1L395.8 681.9L395.6 681.7L395.4 681.6L395.2 681.4L395 681.3L394.8 681.2L393.7 680.8L393.6 680.8L392.4 680.4L392.4 680.4L391.2 680L391.1 680L389.9 679.7L389.8 679.7L388.7 679.4L388.4 679.4L388.2 679.3L387.9 679.3L387.7 679.4L387.5 679.4L387.2 679.5L387 679.6L386.8 679.7L386.6 679.9L386.4 680L386.2 680.2L386.1 680.4L385.9 680.6L385.8 680.8L385.7 681L385.7 681.3L385.6 681.5ZM386.6 673.9L386.6 674.1L386.6 674.4L386.6 674.6L386.7 674.8L386.7 675.1L386.8 675.3L387 675.5L387.1 675.7L387.3 675.9L387.5 676.1L387.7 676.2L387.9 676.4L388.1 676.5L388.3 676.6L388.6 676.6L389.1 676.7L389.3 676.8L389.5 676.8L389.8 676.8L390 676.7L390.3 676.7L390.5 676.6L390.7 676.5L391 676.4L391.2 676.2L391.3 676L391.5 675.9L391.7 675.7L391.8 675.5L391.9 675.2L392 675L397.5 656.7L397.5 656.4L397.5 656.2L397.6 656L397.5 655.7L397.5 655.5L397.5 655.2L397.4 655L397.3 654.8L397.2 654.6L397 654.4L396.9 654.2L396.7 654L396.5 653.9L396.3 653.8L396.1 653.7L395.8 653.6L395.6 653.5L395.4 653.5L394.7 653.4L394.7 653.4L392.8 653.2L392.7 653.2L391.6 653.1L391.4 653.1L391.2 653.1L390.9 653.2L390.7 653.2L390.5 653.3L390.2 653.4L390 653.5L389.9 653.7L389.7 653.8L389.5 654L389.4 654.2L389.2 654.4L389.1 654.6L389.1 654.8L389 655L389 655.3ZM393.9 678L393.8 678.2L393.8 678.4L393.8 678.7L393.8 678.9L393.8 679.2L393.9 679.4L394 679.7L394.1 679.9L394.2 680.1L394.4 680.3L394.6 680.5L394.7 680.6L394.9 680.8L395.2 680.9L395.4 681L395.6 681.1L395.9 681.1L396.1 681.2L396.4 681.2L396.6 681.2L396.8 681.1L397.1 681L397.3 681L397.5 680.8L397.7 680.7L397.9 680.6L398.1 680.4L398.3 680.2L398.4 680L398.5 679.8L408.6 659.2L408.7 658.9L408.7 658.7L408.8 658.5L408.8 658.2L408.8 658L408.8 657.7L408.8 657.5L408.7 657.2L408.6 657L408.5 656.8L408.3 656.6L408.2 656.4L408 656.2L407.8 656.1L407.6 655.9L407.4 655.8L407.2 655.7L407 655.6L406.2 655.4L406.1 655.4L404.3 655L404.2 655L403.2 654.8L403 654.7L402.7 654.7L402.5 654.7L402.3 654.8L402 654.8L401.8 654.9L401.6 655L401.3 655.1L401.1 655.3L401 655.4L400.8 655.6L400.6 655.8L400.5 656L400.4 656.3L400.3 656.5ZM393.7 696L393.6 696.2L393.5 696.4L393.4 696.6L393.4 696.9L393.4 697.1L393.4 697.4L393.5 697.6L393.5 697.8L393.6 698L393.7 698.3L393.9 698.5L394 698.7L394.2 698.8L394.3 699L394.5 699.1L395.2 699.5L395.2 699.6L396 700.2L396.1 700.2L396.9 700.8L396.9 700.9L397.7 701.5L397.7 701.6L398.3 702.1L398.5 702.2L398.7 702.3L398.9 702.5L399.1 702.6L399.3 702.6L399.6 702.7L399.8 702.7L400 702.7L400.3 702.7L400.5 702.6L400.8 702.6L401 702.5L401.2 702.4L401.4 702.3L401.6 702.1L413.1 692.4L413.3 692.2L413.5 692L413.6 691.8L413.7 691.6L413.8 691.4L413.9 691.1L414 690.9L414 690.7L414 690.4L414 690.2L413.9 689.9L413.9 689.7L413.8 689.5L413.7 689.2L413.6 689L413.4 688.8L413.2 688.7L412.3 687.7L412.2 687.7L410.9 686.5L410.8 686.4L409.5 685.3L409.4 685.2L408.1 684.2L408 684.1L406.6 683.1L406.5 683.1L405.1 682.1L405 682L403.8 681.3L403.6 681.2L403.4 681.1L403.1 681.1L402.9 681L402.7 681L402.4 681L402.2 681L401.9 681L401.7 681.1L401.5 681.2L401.3 681.3L401 681.5L400.9 681.6L400.7 681.8L400.5 682L400.4 682.2L400.3 682.4ZM403.7 675.4L403.6 675.7L403.5 675.9L403.4 676.1L403.4 676.4L403.4 676.6L403.4 676.9L403.5 677.1L403.5 677.4L403.6 677.6L403.8 677.8L403.9 678L404.1 678.2L404.2 678.4L404.4 678.5L404.6 678.7L405.1 679L405.3 679.1L405.6 679.2L405.8 679.2L406.1 679.3L406.3 679.3L406.5 679.3L406.8 679.3L407 679.2L407.3 679.1L407.5 679L407.7 678.9L407.9 678.8L408.1 678.6L408.3 678.4L408.4 678.2L419 663L419.1 662.8L419.2 662.6L419.3 662.4L419.4 662.1L419.4 661.9L419.4 661.6L419.4 661.4L419.4 661.1L419.3 660.9L419.3 660.7L419.1 660.4L419 660.2L418.9 660L418.7 659.8L418.5 659.7L418.3 659.5L418.1 659.4L417.9 659.3L417.1 659L417.1 659L415.4 658.3L415.3 658.3L414.6 658L414.4 658L414.1 657.9L413.9 657.9L413.7 657.9L413.4 657.9L413.2 657.9L412.9 658L412.7 658.1L412.5 658.2L412.3 658.4L412.1 658.5L411.9 658.7L411.8 658.9L411.6 659.1L411.5 659.3ZM410 680.7L409.9 680.9L409.8 681.2L409.7 681.4L409.6 681.6L409.6 681.9L409.5 682.1L409.6 682.4L409.6 682.6L409.6 682.9L409.7 683.1L409.8 683.3L410 683.5L410.1 683.7L410.3 683.9L410.5 684.1L411.3 684.8L411.3 684.8L412.2 685.6L412.2 685.6L413.1 686.4L413.1 686.4L413.9 687.2L414 687.2L414.7 688L414.9 688.1L415.1 688.3L415.3 688.4L415.6 688.5L415.8 688.6L416 688.7L416.3 688.7L416.5 688.7L416.8 688.7L417 688.7L417.3 688.6L417.5 688.5L417.7 688.4L417.9 688.3L418.1 688.1L435.7 673.2L435.9 673L436.1 672.9L436.2 672.7L436.3 672.4L436.4 672.2L436.5 672L436.6 671.7L436.6 671.5L436.6 671.2L436.6 671L436.6 670.7L436.5 670.5L436.4 670.3L436.3 670.1L436.1 669.8L436 669.7L435.8 669.5L435.6 669.3L435.3 669.1L435.2 669L433.8 668L433.7 667.9L432.2 666.9L432.2 666.9L430.7 665.9L430.6 665.8L429.1 664.9L429 664.9L427.4 663.9L427.4 663.9L425.8 663L425.7 663L425.2 662.7L425 662.6L424.7 662.5L424.5 662.5L424.3 662.4L424 662.4L423.8 662.4L423.5 662.5L423.3 662.5L423.1 662.6L422.9 662.7L422.6 662.8L422.4 663L422.3 663.1L422.1 663.3L422 663.5ZM395.9 710.4L395.8 710.6L395.6 710.8L395.5 711L395.3 711.2L395.2 711.4L395.2 711.7L395.1 711.9L395.1 712.2L395.1 712.4L395.1 712.6L395.1 712.9L395.2 713.1L395.3 713.4L395.4 713.6L395.5 713.8L395.7 714L395.9 714.2L396 714.3L396.2 714.5L396.5 714.6L396.7 714.7L396.9 714.8L397.2 714.8L397.4 714.8L397.7 714.8L397.9 714.8L398.2 714.8L398.4 714.7L421.1 706.6L421.3 706.5L421.6 706.4L421.8 706.3L422 706.1L422.1 706L422.3 705.8L422.4 705.6L422.5 705.4L422.6 705.1L422.7 704.9L422.8 704.7L422.8 704.4L422.8 704.2L422.8 704L422.7 703.7L422.7 703.5L422.6 703.3L422.3 702.7L422.3 702.6L421.6 701.3L421.6 701.2L420.9 699.9L420.8 699.8L420.1 698.5L420.1 698.5L419.3 697.2L419.2 697.1L418.4 695.9L418.4 695.8L418 695.3L417.8 695.1L417.7 694.9L417.5 694.8L417.3 694.6L417.1 694.5L416.9 694.4L416.6 694.3L416.4 694.3L416.2 694.3L415.9 694.3L415.7 694.3L415.4 694.3L415.2 694.4L415 694.5L414.7 694.6L414.5 694.7L414.4 694.8ZM434.5 677.8L434.3 678L434.2 678.2L434 678.4L433.9 678.6L433.8 678.8L433.7 679L433.6 679.3L433.6 679.5L433.6 679.7L433.6 680L433.7 680.2L433.7 680.5L433.8 680.7L433.9 680.9L434 681.1L434.2 681.3L434.4 681.5L434.5 681.7L434.7 681.8L434.9 681.9L435.2 682L435.4 682.1L435.6 682.2L435.9 682.2L436.1 682.2L436.4 682.2L436.6 682.2L436.8 682.1L437.1 682L437.3 681.9L437.5 681.8L441.9 678.8L442.1 678.6L442.3 678.5L442.5 678.3L442.6 678.1L442.8 677.9L442.9 677.6L443 677.4L443 677.1L443 676.9L443 676.6L443 676.4L443 676.1L442.9 675.9L442.8 675.7L442.7 675.5L442.6 675.2L442.4 675L442.2 674.9L441.8 674.5L441.6 674.3L441.4 674.2L441.2 674.1L441 674L440.8 673.9L440.5 673.8L440.3 673.8L440.1 673.8L439.8 673.8L439.6 673.9L439.3 673.9L439.1 674L438.9 674.1L438.7 674.3L438.5 674.4ZM416 699.6L415.8 699.7L415.6 699.9L415.5 700.1L415.3 700.3L415.2 700.5L415.1 700.7L415 701L415 701.2L414.9 701.4L414.9 701.7L414.9 701.9L415 702.2L415 702.4L415.1 702.7L415.2 702.9L415.3 703L415.3 703.1L415.8 703.9L415.8 703.9L416.2 704.7L416.2 704.8L416.6 705.6L416.6 705.6L416.7 705.8L416.8 706L416.9 706.2L417.1 706.4L417.3 706.6L417.5 706.7L417.7 706.9L417.9 707L418.1 707.1L418.3 707.2L418.6 707.2L418.8 707.2L419.1 707.2L419.3 707.2L419.6 707.2L419.8 707.1L454 695L454.2 694.9L454.4 694.8L454.6 694.6L454.8 694.5L455 694.3L455.2 694.1L455.3 693.9L455.4 693.7L455.5 693.5L455.6 693.3L455.6 693L455.7 692.8L455.7 692.5L455.6 692.3L455.6 692.1L455.5 691.8L455.4 691.6L455.3 691.4L454.8 690.5L454.8 690.5L453.9 689L453.9 689L452.9 687.5L452.9 687.4L451.9 686L451.9 686L450.9 684.6L450.8 684.5L449.8 683.1L449.7 683.1L448.6 681.7L448.6 681.6L447.8 680.7L447.7 680.6L447.5 680.4L447.3 680.3L447.1 680.1L446.9 680L446.6 680L446.4 679.9L446.1 679.9L445.9 679.9L445.7 679.9L445.4 679.9L445.2 680L445 680.1L444.7 680.2L444.5 680.3ZM398.5 717.5L398.2 717.6L398 717.7L397.8 717.9L397.6 718L397.5 718.2L397.3 718.4L397.2 718.6L397 718.8L397 719L396.9 719.3L396.8 719.5L396.8 719.8L396.8 720L396.8 720.3L396.9 720.5L397 720.7L397.1 721L397.2 721.2L397.3 721.4L397.5 721.6L397.6 721.8L397.8 721.9L398 722L398.3 722.2L398.5 722.2L398.7 722.3L399 722.4L399.2 722.4L417.7 723.1L418 723.1L418.2 723L418.5 723L418.7 722.9L418.9 722.8L419.1 722.7L419.3 722.6L419.5 722.4L419.7 722.2L419.9 722L420 721.8L420.1 721.6L420.2 721.4L420.3 721.2L420.3 720.9L420.3 720.7L420.3 720.4L420.3 720.3L420.3 720.2L420.2 718.9L420.2 718.8L420 717.5L420 717.4L419.8 716.1L419.8 716L419.6 714.7L419.6 714.6L419.3 713.3L419.2 713.2L419.2 713.1L419.1 712.8L419 712.6L418.9 712.4L418.8 712.2L418.6 712L418.5 711.8L418.3 711.7L418.1 711.5L417.8 711.4L417.6 711.3L417.4 711.3L417.1 711.2L416.9 711.2L416.7 711.2L416.4 711.2L416.2 711.3L415.9 711.3ZM426 707.8L425.8 707.9L425.6 708L425.4 708.1L425.2 708.3L425 708.4L424.8 708.6L424.7 708.8L424.6 709.1L424.5 709.3L424.4 709.5L424.4 709.8L424.4 710L424.4 710.3L424.4 710.5L424.4 710.8L424.5 711L424.6 711.2L424.7 711.5L424.9 711.7L425 711.8L425.2 712L425.4 712.2L425.6 712.3L425.9 712.4L426.1 712.5L426.3 712.6L426.6 712.6L426.8 712.6L427.1 712.6L427.3 712.6L458.9 706.7L459.1 706.6L459.3 706.5L459.6 706.4L459.8 706.3L460 706.2L460.2 706L460.3 705.8L460.5 705.6L460.6 705.4L460.7 705.2L460.8 704.9L460.9 704.7L460.9 704.4L460.9 704.2L460.9 703.9L460.8 703.7L460.8 703.4L460.8 703.4L460.7 703.4L460.2 701.8L460.2 701.7L459.6 700.1L459.5 700L458.9 698.6L458.8 698.4L458.7 698.2L458.5 698L458.4 697.8L458.2 697.6L458 697.5L457.8 697.3L457.5 697.2L457.3 697.2L457 697.1L456.8 697.1L456.5 697.1L456.3 697.1L456 697.1L455.8 697.2ZM425 715.8L424.7 715.8L424.5 715.9L424.3 716L424 716.1L423.8 716.3L423.7 716.4L423.5 716.6L423.3 716.8L423.2 717L423.1 717.3L423 717.5L423 717.7L422.9 718L422.9 718.2L422.9 718.5L423 719.3L423 719.3L423.1 720.1L423.1 720.2L423.1 721L423.1 721.2L423.2 721.5L423.3 721.7L423.4 721.9L423.5 722.1L423.6 722.3L423.8 722.5L423.9 722.7L424.1 722.9L424.3 723L424.6 723.1L424.8 723.2L425 723.3L425.3 723.3L425.5 723.3L461.5 724.7L461.8 724.6L462 724.6L462.2 724.6L462.5 724.5L462.7 724.4L462.9 724.3L463.1 724.2L463.3 724L463.5 723.8L463.6 723.6L463.8 723.4L463.9 723.2L464 723L464 722.8L464.1 722.5L464.1 722.3L464.1 722.1L464.1 720.6L464.1 720.5L463.9 718.8L463.9 718.7L463.8 717.1L463.8 717L463.6 715.3L463.6 715.3L463.3 713.6L463.3 713.5L463 711.9L463 711.8L462.8 711.2L462.8 710.9L462.7 710.7L462.6 710.5L462.5 710.3L462.3 710.1L462.2 709.9L462 709.7L461.8 709.6L461.6 709.5L461.4 709.4L461.1 709.3L460.9 709.2L460.7 709.2L460.4 709.2L460.2 709.2L459.9 709.2Z" fill="#EBDFE2"/>
<ellipse cx="398" cy="731" rx="6.5" ry="6" fill="#EBDFE2"/><ellipse cx="398" cy="731" rx="2" ry="2" fill="#FCFBFC"/>
</g>
</g>
<g clip-path="url(#im3)">
<rect x="458.2" y="655.8" width="138.8" height="138.4" fill="#FFFFFF"/>
<g filter="url(#tx3)">
<path d="M458.2 665L470 660L478 655.8L597 655.8L597 690L590 684L576 676L562 667L558 660L540 659L520 659L514 657L510 664L502 670L492 672L478 674L468 678L458.2 681Z" fill="#C27F7E"/>
<path d="M458.2 745L462 748L470 752L478 748L486 748L490 755L494 745L500 740L508 739L516 745L520 754L527 757L532 775L545 770L555 772L562 775L570 770L577 745L585 740L597 735L597 794.2L458.2 794.2Z" fill="#C27F7E"/>
<path d="M458.2 681L470 680L471 700L464 704L458.2 704Z M458.2 711L468 712L470 722L458.2 723Z M597 690L590 690L580 700L578 706L586 708L597 700Z M583 722L597 716L597 740L585 738Z" fill="#C27F7E"/>
<g fill="#C27F7E"><ellipse cx="486.5" cy="684.5" rx="11.8" ry="14" transform="rotate(-10 486.5 684.5)"/><ellipse cx="507.5" cy="686.6" rx="5.5" ry="10" transform="rotate(-25 507.5 686.6)"/><ellipse cx="523.3" cy="673" rx="6" ry="9" transform="rotate(0 523.3 673)"/><ellipse cx="482.3" cy="710.8" rx="10" ry="8" transform="rotate(0 482.3 710.8)"/><ellipse cx="534" cy="668.7" rx="4" ry="12" transform="rotate(0 534 668.7)"/><ellipse cx="552.3" cy="667.7" rx="5.5" ry="11" transform="rotate(0 552.3 667.7)"/><ellipse cx="546" cy="689.7" rx="4.5" ry="6" transform="rotate(0 546 689.7)"/><ellipse cx="568" cy="692.4" rx="9" ry="11" transform="rotate(30 568 692.4)"/><ellipse cx="588" cy="712.3" rx="7" ry="5" transform="rotate(0 588 712.3)"/><ellipse cx="473" cy="736" rx="15" ry="9" transform="rotate(-15 473 736)"/><ellipse cx="546" cy="749" rx="4" ry="9" transform="rotate(0 546 749)"/><ellipse cx="535.5" cy="764" rx="5.5" ry="10" transform="rotate(0 535.5 764)"/><ellipse cx="559" cy="765" rx="5" ry="6" transform="rotate(0 559 765)"/><ellipse cx="506" cy="755" rx="12" ry="16" transform="rotate(0 506 755)"/></g>
<path d="M458.2 665L478 655.8H515L505 662L490 666L475 669L458.2 674Z" fill="#DEDCE8"/>
<path d="M562 655.8H597V680L585 672L570 664Z" fill="#DEDCE8"/>
<path d="M458.2 779C480 784 520 788 560 786C575 784 590 780 597 776V794.2H458.2Z" fill="#DCDAE6"/>
</g>
<path d="M466 751L469 772M478 751L480 768M491 754L493 771M500 744L503 762M519 756L516 776M581 748L576 770M590 742L586 768M566 676L560 664M582 688L590 696M463 704L470 708" stroke="#F6ECEC" stroke-width="1.6" stroke-linecap="round" fill="none" opacity="0.85"/>
<path d="M458.2 655.8H476L458.2 664Z" fill="#FFFFFF"/>
</g>
<rect x="140" y="783" width="20" height="2.8" fill="#000"/>
<rect x="284.3" y="783" width="20" height="2.8" fill="#000"/>
<rect x="428.2" y="783" width="20" height="2.8" fill="#000"/>
<rect x="571" y="783" width="20" height="2.8" fill="#000"/>
</svg>
</body></html>
